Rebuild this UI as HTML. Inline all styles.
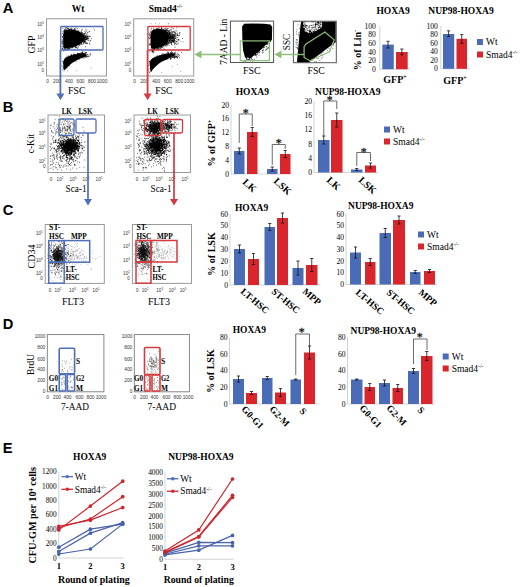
<!DOCTYPE html>
<html><head><meta charset="utf-8"><style>
html,body{margin:0;padding:0;background:#fff;}
body{width:520px;height:587px;overflow:hidden;font-family:"Liberation Serif",serif;}
svg{display:block;}
</style></head><body>
<svg width="520" height="587" viewBox="0 0 520 587">
<rect width="520" height="587" fill="#fff"/>
<text x="2.8" y="12.7" font-size="14.7" font-family='"Liberation Sans", sans-serif' font-weight="bold" text-anchor="start" fill="#000">A</text>
<text x="2.8" y="112" font-size="14.7" font-family='"Liberation Sans", sans-serif' font-weight="bold" text-anchor="start" fill="#000">B</text>
<text x="2.8" y="215.3" font-size="14.7" font-family='"Liberation Sans", sans-serif' font-weight="bold" text-anchor="start" fill="#000">C</text>
<text x="2.8" y="328.8" font-size="14.7" font-family='"Liberation Sans", sans-serif' font-weight="bold" text-anchor="start" fill="#000">D</text>
<text x="2.8" y="452.6" font-size="14.7" font-family='"Liberation Sans", sans-serif' font-weight="bold" text-anchor="start" fill="#000">E</text>
<rect x="46.5" y="18.8" width="60" height="57.2" fill="none" stroke="#9a9a9a" stroke-width="1"/>
<text x="44" y="26" font-size="4.6" font-family='"Liberation Sans", sans-serif' text-anchor="end" fill="#333">10<tspan font-size="3" dy="-2">5</tspan></text>
<text x="44" y="39" font-size="4.6" font-family='"Liberation Sans", sans-serif' text-anchor="end" fill="#333">10<tspan font-size="3" dy="-2">4</tspan></text>
<text x="44" y="52" font-size="4.6" font-family='"Liberation Sans", sans-serif' text-anchor="end" fill="#333">10<tspan font-size="3" dy="-2">3</tspan></text>
<text x="44" y="66" font-size="4.6" font-family='"Liberation Sans", sans-serif' text-anchor="end" fill="#333">10<tspan font-size="3" dy="-2">2</tspan></text>
<text x="44" y="72" font-size="4.6" font-family='"Liberation Sans", sans-serif' text-anchor="end" fill="#333">0</text>
<text x="47.5" y="82.8" font-size="4.8" font-family='"Liberation Sans", sans-serif' text-anchor="middle" fill="#333">0</text>
<text x="57" y="82.8" font-size="4.8" font-family='"Liberation Sans", sans-serif' text-anchor="middle" fill="#333">200</text>
<text x="69" y="82.8" font-size="4.8" font-family='"Liberation Sans", sans-serif' text-anchor="middle" fill="#333">400</text>
<text x="80.5" y="82.8" font-size="4.8" font-family='"Liberation Sans", sans-serif' text-anchor="middle" fill="#333">600</text>
<text x="92" y="82.8" font-size="4.8" font-family='"Liberation Sans", sans-serif' text-anchor="middle" fill="#333">800</text>
<text x="102" y="82.8" font-size="4.8" font-family='"Liberation Sans", sans-serif' text-anchor="middle" fill="#333">1000</text>
<text x="0" y="0" font-size="11" font-family='"Liberation Serif", serif' text-anchor="middle" fill="#000" transform="translate(35,44.6) rotate(-90)" textLength="17.8" lengthAdjust="spacingAndGlyphs">GFP</text>
<path d="M63.6,33C63.92,30.55 64,30.93 65.3,30.3C66.6,29.67 69.52,29.15 71.4,29.2C73.28,29.25 74.92,29.97 76.6,30.6C78.28,31.23 80.1,32.02 81.5,33C82.9,33.98 84.58,35.25 85,36.5C85.42,37.75 84.75,39.25 84,40.5C83.25,41.75 81.9,43 80.5,44C79.1,45 77.52,45.82 75.6,46.5C73.68,47.18 70.87,47.75 69,48.1C67.13,48.45 65.33,49.12 64.4,48.6C63.47,48.08 63.53,47.6 63.4,45C63.27,42.4 63.28,35.45 63.6,33Z" fill="#000" stroke="none" stroke-width="1"/>
<path d="M63.48 37.52h0.76M64.23 30.33h0.76M75.38 29.75h0.76M74.86 46.77h0.76M63.13 38.11h0.76M75.42 46.94h0.76M63.2 46.75h0.76M64.61 30.58h0.76M70.9 29.04h0.76M63.26 34.29h0.76M84.92 37.8h0.76M84.88 36.07h0.76M85.27 36.73h0.76M79.51 32h0.76M81.88 32.86h0.76M72.42 47.66h0.76M62.7 45.18h0.76M67.73 48.39h0.76M63.03 35.38h0.76M64.1 49.07h0.76M72.45 47.53h0.76M64.69 29.64h0.76M63.78 32.66h0.76M70.7 28.81h0.76M63.87 31.15h0.76M82.91 42.48h0.76M68.74 48.59h0.76M68.31 48.67h0.76M63.62 45.93h0.76M83.41 41.58h0.76M67.97 29.09h0.76M81.21 44.11h0.76M63.01 38.05h0.76M62.64 44.16h0.76M83.64 34.51h0.76M69.02 29.45h0.76M69.27 48.04h0.76M84.55 39.94h0.76M69.28 29.46h0.76M75.89 47.02h0.76M63.36 43.3h0.76M71.74 47.85h0.76M65.22 29.91h0.76M69.77 28.89h0.76M67.89 29.15h0.76M81.2 43.92h0.76M69.48 48.38h0.76M67.57 48.84h0.76M65.91 29.52h0.76M84.34 35.33h0.76M71.3 47.7h0.76M62.69 44.27h0.76M81.33 43.91h0.76M63.39 40.01h0.76M78.1 30.97h0.76M63.54 34.59h0.76M62.87 35.29h0.76M64.08 30.56h0.76M77.51 30.34h0.76M69.78 48.41h0.76M62.95 39.99h0.76M73.86 29.55h0.76M83.7 41.43h0.76M63.15 41.4h0.76M79.71 44.73h0.76M74.54 29.57h0.76M67.12 49h0.76" stroke="#000" stroke-width="0.76" fill="none"/>
<path d="M80.88 31.11h0.76M84.46 33.77h0.76M62.55 31.65h0.76M76.39 47.68h0.76M74.67 47.98h0.76M61.9 42.24h0.76M61.92 40.09h0.76M62.84 47.84h0.76M67.53 28.37h0.76M77.77 46.36h0.76M64.15 29.72h0.76M62.14 33.35h0.76M86.18 39.01h0.76M62.4 36.93h0.76M68.25 49.08h0.76M79.38 45.49h0.76M64.2 49.51h0.76M71.51 28.25h0.76M83.33 43.03h0.76M62.58 39.92h0.76M85.58 39.36h0.76M64.73 50.01h0.76M61.95 37.06h0.76M85.56 39.54h0.76M67.37 49.54h0.76M83.29 33.6h0.76M61.68 44h0.76M74.18 28.81h0.76M75.36 47.23h0.76M61.78 46.72h0.76M62.33 41.43h0.76M85.09 41.41h0.76M84.8 41.48h0.76M61.97 36.34h0.76M61.73 43.13h0.76M64.71 49.6h0.76M68.08 49.55h0.76M61.98 42.37h0.76M74 28.84h0.76M63.15 49.77h0.76M62.69 46.55h0.76M65.41 28.5h0.76M87.02 36.04h0.76M68.08 28.34h0.76M75.81 47.41h0.76M64.66 49.44h0.76M67.26 28.36h0.76M63.03 30.79h0.76M62.53 48.71h0.76" stroke="#000" stroke-width="0.76" fill="none"/>
<path d="M66.5 50.05h0.76M66.53 27.59h0.76M63.47 51.2h0.76M61.83 49.06h0.76M62.47 28.37h0.76M65.98 27.82h0.76M85.08 32.95h0.76M60.35 39.45h0.76M61.96 48.49h0.76M87.42 38.81h0.76M60.72 41.49h0.76M77.09 48.19h0.76M81.5 30.34h0.76M75.35 27.91h0.76M87.47 39.29h0.76M60.55 35.17h0.76M84.79 32.24h0.76M64.73 27.85h0.76M77.79 47.9h0.76M82.59 44.28h0.76M76.8 28.39h0.76M86.45 34.43h0.76" stroke="#000" stroke-width="0.76" fill="none"/>
<path d="M63.9,69.7C63.7,68.23 63.02,63.23 63.4,61.2C63.78,59.17 64.48,58.58 66.2,57.5C67.92,56.42 71.35,55.4 73.7,54.7C76.05,54 78.33,53.42 80.3,53.3C82.27,53.18 84.47,53.63 85.5,54C86.53,54.37 86.9,54.95 86.5,55.5C86.1,56.05 84.75,56.5 83.1,57.3C81.45,58.1 78.63,59.18 76.6,60.3C74.57,61.42 72.63,62.63 70.9,64C69.17,65.37 67.25,67.5 66.2,68.5C65.15,69.5 64.98,69.8 64.6,70C64.22,70.2 64.1,71.17 63.9,69.7Z" fill="#000" stroke="none" stroke-width="1"/>
<path d="M78.39 53.62h0.76M63.52 64.9h0.76M65.6 57.99h0.76M63.48 66.58h0.76M80.5 52.92h0.76M63.17 63.39h0.76M71.18 55.54h0.76M82.4 53.5h0.76M77.23 53.64h0.76M62.95 63.12h0.76M71.35 55.27h0.76M68.47 56.47h0.76M66.64 68.15h0.76M73.34 54.72h0.76M69.48 56.01h0.76M85.05 53.74h0.76M84.05 53.63h0.76M66.57 57.32h0.76M73.89 54.43h0.76M63.43 63.36h0.76M68.86 66.01h0.76M71.23 55.35h0.76M67.65 56.76h0.76M74.55 61.67h0.76" stroke="#000" stroke-width="0.76" fill="none"/>
<path d="M86.91 54.5h0.76M68.11 56.06h0.76M62.12 61.6h0.76M63.09 67.96h0.76M78.64 59.45h0.76M81.74 52.96h0.76M77.19 53.18h0.76M70.29 55.19h0.76M82.31 53.08h0.76M64.93 58.14h0.76M63.04 68.04h0.76M62.8 67.11h0.76M62.75 61.9h0.76M62.56 69.6h0.76M77.77 53.49h0.76M81.62 52.75h0.76M73.3 54.39h0.76M82.24 52.42h0.76" stroke="#000" stroke-width="0.76" fill="none"/>
<path d="M75.92 61.01h0.76M81.59 52.14h0.76M61.7 65.93h0.76M71.34 54.47h0.76M84.93 52.14h0.76M66.5 56.07h0.76M86.01 52.56h0.76M73.56 53.92h0.76" stroke="#000" stroke-width="0.76" fill="none"/>
<path d="M79.42 39.37h0.76M85.25 38.97h0.76M82.16 38.28h0.76M84.39 41.74h0.76M84.83 38.89h0.76M81.83 41.02h0.76M87.52 36.27h0.76M85.92 39.08h0.76M83.86 33.5h0.76M89.27 31.47h0.76M84.91 36.68h0.76M87.43 36.52h0.76M84.12 40.14h0.76M85.37 36.18h0.76M86.04 39.37h0.76M86.96 36.21h0.76M83.86 36.63h0.76M81.49 38.89h0.76M85.23 42.96h0.76M83.03 39.35h0.76M87.42 37.6h0.76M84.19 38.47h0.76M81.93 34.55h0.76M87.34 38.6h0.76M83.78 33.66h0.76M84.35 42.09h0.76M80.56 34.89h0.76M87.32 42.99h0.76M88.64 36.07h0.76M85.79 35.38h0.76M85.56 36.73h0.76M84.59 42.68h0.76M85.01 37.16h0.76M84.17 38.93h0.76M82.47 38.72h0.76M85.79 43.43h0.76M77.85 33.86h0.76M80.31 41.05h0.76M91.28 38.67h0.76M84.36 41.96h0.76M76.72 37.38h0.76M74.71 38.54h0.76M82.48 36.31h0.76M85.01 35.97h0.76M87.31 37.99h0.76M85.14 46.82h0.76M82.66 41.22h0.76M81.54 42.34h0.76M86.87 38.49h0.76M86.95 43.59h0.76M88.1 38h0.76M83.84 41.85h0.76M79.62 35.91h0.76M85.44 39.98h0.76M89.54 44.11h0.76M84.96 39.53h0.76M80.08 37.36h0.76M84.78 37.22h0.76M84.18 40.11h0.76M81.17 36.03h0.76M78.72 41.97h0.76M80.87 32.1h0.76M86.29 37.26h0.76M86.87 36.72h0.76M90.31 40.47h0.76M84.45 38.4h0.76M83.39 40.8h0.76M89.93 36.54h0.76M80.77 40.07h0.76M87.17 32.84h0.76M81.95 34.55h0.76M85.67 39.75h0.76M81.82 34.1h0.76M86.02 30.89h0.76M85.91 37.46h0.76M89.69 41.43h0.76M82.28 37.05h0.76M83.18 35.49h0.76M84.24 41.33h0.76M79.54 37.21h0.76M88.42 40.56h0.76M81.59 35.22h0.76M81.47 32.46h0.76M87.4 38.24h0.76M81.94 33.05h0.76M82.86 36.24h0.76M89.09 36.42h0.76M84.34 41.69h0.76M85.97 37.38h0.76M77.56 42.83h0.76M85.77 36.5h0.76M83.74 34.71h0.76M81.35 32.89h0.76M85.48 39.78h0.76M84.52 40.69h0.76M85.58 38.42h0.76M81.39 40.03h0.76M87.5 40.17h0.76M87.68 36.37h0.76M81.11 42.3h0.76M82.28 38.84h0.76M83.44 38.08h0.76M83.2 36.15h0.76M78.75 44.55h0.76M84.6 31.39h0.76M81.33 34.13h0.76M81.82 29.25h0.76M85.69 43.63h0.76M83.28 40.55h0.76M85.77 33.73h0.76M87.59 32.21h0.76M82.31 36.77h0.76M87.7 38.41h0.76M83.63 35.24h0.76M84.26 38.15h0.76M86.15 42.78h0.76M86.17 38.06h0.76M83.55 43.49h0.76M84.59 37.94h0.76M89.28 43.38h0.76" stroke="#000" stroke-width="0.76" stroke-opacity="1" fill="none"/>
<path d="M85.67 55.34h0.76M82.14 57.07h0.76M82.67 56.91h0.76M81.7 55.65h0.76M85.18 55.71h0.76M84.69 56.06h0.76M80.7 53.87h0.76M83.57 58.15h0.76M83.64 54.14h0.76M82.06 55.55h0.76M87.47 54.67h0.76M85.65 55.77h0.76M82.96 54.12h0.76M83.55 54.44h0.76M85.58 52.92h0.76M87.31 56.61h0.76M85.7 57.69h0.76M85.77 53h0.76M84.16 56.16h0.76M82 53.84h0.76M85.27 56.25h0.76M82.75 55.14h0.76M82.52 54.67h0.76M83.83 57.07h0.76M79.29 55h0.76M88.73 55.96h0.76M84.45 56.72h0.76M81.06 53.73h0.76M79.14 53.37h0.76M84.73 56.74h0.76M82.78 54.51h0.76M85.18 56.4h0.76M84.75 52.72h0.76M82.41 51.8h0.76M84.71 54.26h0.76M82.08 57.7h0.76M87.86 56.2h0.76M84.81 55.75h0.76M82.29 55.43h0.76M89.59 54.22h0.76M82.07 55.74h0.76M86.61 56.72h0.76M81.18 55.31h0.76M83.23 53.7h0.76M84.23 54.8h0.76M86.69 56.13h0.76M81.72 55.62h0.76M82.96 54.57h0.76M82.58 57.05h0.76M82.79 53h0.76M81.74 56.68h0.76M90.28 53.96h0.76M82.96 55.02h0.76M79.89 56.09h0.76M83.85 55.91h0.76M90.53 55.11h0.76M86.32 56.72h0.76M82.15 54.64h0.76M88.54 56.54h0.76M84.42 53.9h0.76" stroke="#000" stroke-width="0.76" stroke-opacity="1" fill="none"/>
<path d="M63.41 42.57h0.6M63.7 71.17h0.6M62.24 37.26h0.6M86.61 29.58h0.6M64.12 26.35h0.6M66.08 49.5h0.6M88.83 31.29h0.6M66.41 61.2h0.6M74.98 39.77h0.6M64.69 34.99h0.6M93.54 28.67h0.6M69.33 59.98h0.6M90.82 68.19h0.6M76.57 70.81h0.6M81.04 37.29h0.6M76.32 58.75h0.6M85.46 29.31h0.6M67.08 70.9h0.6M64.14 63.63h0.6M72.02 35.25h0.6M69.18 46.35h0.6M94.18 30.26h0.6M89.55 38.93h0.6M66.38 60.19h0.6M72.11 32.21h0.6" stroke="#000" stroke-width="0.6" stroke-opacity="1" fill="none"/>
<rect x="60.7" y="26.5" width="42.3" height="23.5" fill="none" stroke="#4f6fb8" stroke-width="1.3" rx="0.8"/>
<line x1="60.4" y1="50" x2="60.4" y2="95" stroke="#4f6fb8" stroke-width="1.8"/>
<polygon points="56.4,93.6 64.4,93.6 60.4,100.3" fill="#4f6fb8" stroke="none" stroke-width="1"/>
<text x="68.1" y="94.4" font-size="11" font-family='"Liberation Serif", serif' text-anchor="start" fill="#000" textLength="17.3" lengthAdjust="spacingAndGlyphs">FSC</text>
<rect x="133.7" y="18.8" width="60" height="57.2" fill="none" stroke="#9a9a9a" stroke-width="1"/>
<text x="131.2" y="26" font-size="4.6" font-family='"Liberation Sans", sans-serif' text-anchor="end" fill="#333">10<tspan font-size="3" dy="-2">5</tspan></text>
<text x="131.2" y="39" font-size="4.6" font-family='"Liberation Sans", sans-serif' text-anchor="end" fill="#333">10<tspan font-size="3" dy="-2">4</tspan></text>
<text x="131.2" y="52" font-size="4.6" font-family='"Liberation Sans", sans-serif' text-anchor="end" fill="#333">10<tspan font-size="3" dy="-2">3</tspan></text>
<text x="131.2" y="66" font-size="4.6" font-family='"Liberation Sans", sans-serif' text-anchor="end" fill="#333">10<tspan font-size="3" dy="-2">2</tspan></text>
<text x="131.2" y="72" font-size="4.6" font-family='"Liberation Sans", sans-serif' text-anchor="end" fill="#333">0</text>
<text x="134.7" y="82.8" font-size="4.8" font-family='"Liberation Sans", sans-serif' text-anchor="middle" fill="#333">0</text>
<text x="144.2" y="82.8" font-size="4.8" font-family='"Liberation Sans", sans-serif' text-anchor="middle" fill="#333">200</text>
<text x="156.2" y="82.8" font-size="4.8" font-family='"Liberation Sans", sans-serif' text-anchor="middle" fill="#333">400</text>
<text x="167.7" y="82.8" font-size="4.8" font-family='"Liberation Sans", sans-serif' text-anchor="middle" fill="#333">600</text>
<text x="179.2" y="82.8" font-size="4.8" font-family='"Liberation Sans", sans-serif' text-anchor="middle" fill="#333">800</text>
<text x="189.2" y="82.8" font-size="4.8" font-family='"Liberation Sans", sans-serif' text-anchor="middle" fill="#333">1000</text>
<path d="M151.1,33C151.7,30.6 152.77,30.28 154.4,29.6C156.03,28.92 159.03,28.7 160.9,28.9C162.77,29.1 164.3,29.95 165.6,30.8C166.9,31.65 168.18,32.72 168.7,34C169.22,35.28 169.03,36.93 168.7,38.5C168.37,40.07 168,41.95 166.7,43.4C165.4,44.85 163.27,46.33 160.9,47.2C158.53,48.07 154.18,49.13 152.5,48.6C150.82,48.07 151.03,46.6 150.8,44C150.57,41.4 150.5,35.4 151.1,33Z" fill="#000" stroke="none" stroke-width="1"/>
<path d="M150.26 44.43h0.76M161.79 47.32h0.76M166.29 31.03h0.76M150.99 46.7h0.76M156.39 28.74h0.76M150.74 40.76h0.76M157.05 47.85h0.76M159.94 48.03h0.76M161.72 47.42h0.76M151.7 32.3h0.76M153.33 29.75h0.76M161.13 28.32h0.76M166.48 43.69h0.76M156.64 48.29h0.76M150.58 35.06h0.76M168.03 41.79h0.76M151.21 45.33h0.76M160.71 47.8h0.76M151.79 47.87h0.76M152.23 31.64h0.76M161.15 47.49h0.76M165.08 30.38h0.76M165.69 44.33h0.76M157.82 48.4h0.76M163.2 29.33h0.76M150.7 38.36h0.76M156.7 48.03h0.76M165.81 30.74h0.76M167.7 32.89h0.76M151.96 47.63h0.76M168.75 36.38h0.76M150.62 32.54h0.76M157.07 48.39h0.76M154.78 48.89h0.76M168.8 34.85h0.76M161.05 28.38h0.76M152.03 48.02h0.76M168.74 36.81h0.76M163.54 29.62h0.76M163.01 45.95h0.76M167.92 41.04h0.76M153.56 29.67h0.76M159.96 48.12h0.76M153.9 30.06h0.76M165.54 30.59h0.76M156.29 29.33h0.76M169.32 34.96h0.76M168.39 40.23h0.76M163.76 45.6h0.76M155.34 29.48h0.76M157.03 28.88h0.76M168.66 39.35h0.76M150.45 36.49h0.76M150.46 42.54h0.76M156.29 28.96h0.76M152.3 49.17h0.76M157.35 29h0.76M165.52 30.41h0.76M150.62 32.86h0.76M161.89 28.89h0.76" stroke="#000" stroke-width="0.76" fill="none"/>
<path d="M149.69 35.12h0.76M170.05 37.53h0.76M151.07 48.8h0.76M167.35 30.63h0.76M153.29 49.53h0.76M149.7 44.82h0.76M153.35 28.19h0.76M149.91 44.89h0.76M157.84 48.94h0.76M149.6 37.56h0.76M149.67 44.13h0.76M169.57 36.2h0.76M169.6 34.78h0.76M150.03 37.73h0.76M157.93 28.09h0.76M158.52 48.58h0.76M164.14 28.76h0.76M149.55 36.03h0.76M151.05 31.82h0.76M164.82 29.57h0.76M150.82 47.37h0.76M150.05 31.74h0.76M169.42 36.39h0.76M153.11 49.37h0.76M170.1 38.12h0.76M169.42 32.61h0.76M169.63 35.95h0.76M149.58 43.83h0.76M151.83 30.45h0.76M149.52 38.47h0.76M161.4 27.59h0.76M167.69 42.76h0.76M168.75 40.47h0.76M149.43 34.75h0.76M169.24 33.04h0.76M149.53 33.59h0.76M159.55 49.06h0.76M166.59 29.57h0.76M165.33 45.27h0.76M169.94 34.92h0.76M163.59 47.03h0.76M167.72 31.06h0.76M149.8 35.22h0.76" stroke="#000" stroke-width="0.76" fill="none"/>
<path d="M171.25 38.56h0.76M169.61 42.7h0.76M165.12 28.37h0.76M161.47 49.2h0.76M171.06 36.81h0.76M151.9 50.47h0.76M156.83 49.95h0.76M148.88 38.72h0.76M148.65 45.21h0.76M148.15 37.61h0.76M171.14 35.9h0.76M159.41 27h0.76M151.34 28.56h0.76M148.16 34.64h0.76M158.01 49.41h0.76M155.96 49.92h0.76M148.64 44.27h0.76M148.82 33.18h0.76M150.63 29.92h0.76M166.63 28.56h0.76" stroke="#000" stroke-width="0.76" fill="none"/>
<path d="M150.6,70.6C150.37,68.97 149.27,63.53 150.2,61.2C151.13,58.87 153.63,57.85 156.2,56.6C158.77,55.35 163.27,54.18 165.6,53.7C167.93,53.22 169.02,53.38 170.2,53.7C171.38,54.02 172.95,54.82 172.7,55.6C172.45,56.38 170.67,57.3 168.7,58.4C166.73,59.5 163.28,60.63 160.9,62.2C158.52,63.77 155.95,66.33 154.4,67.8C152.85,69.27 152.23,70.53 151.6,71C150.97,71.47 150.83,72.23 150.6,70.6Z" fill="#000" stroke="none" stroke-width="1"/>
<path d="M170.86 56.93h0.76M172.46 55.13h0.76M150.21 62.23h0.76M172.42 54.77h0.76M172.93 55.43h0.76M172.78 54.91h0.76M150.01 66.49h0.76M159.2 55.58h0.76M171.8 54.21h0.76M173.09 55.3h0.76M150.04 60.89h0.76M171.55 54.57h0.76M166.22 59.65h0.76M150.19 63.11h0.76M150.25 62.9h0.76M151.22 71.19h0.76M172.58 54.76h0.76M153.71 58.1h0.76M150.06 68.61h0.76M152.4 59.11h0.76M149.99 68.62h0.76M150.46 70.82h0.76M173 55.38h0.76M150.09 62.57h0.76M150.2 68.96h0.76" stroke="#000" stroke-width="0.76" fill="none"/>
<path d="M149.62 65.29h0.76M166.89 52.81h0.76M157.33 55.61h0.76M161.43 54.27h0.76M151.16 59.86h0.76M170.31 53.15h0.76M171.22 53.29h0.76M149.16 61.83h0.76M149.77 71.51h0.76M168.11 52.81h0.76M152.41 58.6h0.76M168.1 52.98h0.76M154.1 57.23h0.76M170.28 57.56h0.76M149 61.42h0.76M149.65 68.42h0.76M162.33 54.16h0.76M155.86 56.3h0.76M151.97 59.18h0.76" stroke="#000" stroke-width="0.76" fill="none"/>
<path d="M172.45 52.78h0.76M149.03 72.5h0.76M148.39 69.98h0.76M148.83 63.78h0.76M169.93 58.03h0.76M148.81 61.94h0.76M148.1 65.37h0.76M162.75 53.46h0.76" stroke="#000" stroke-width="0.76" fill="none"/>
<path d="M164.66 40.9h0.8M170.14 36.81h0.8M162.98 37.57h0.8M174.69 43.66h0.8M172.17 36.63h0.8M169.7 40.17h0.8M169.89 42.09h0.8M167.01 28.94h0.8M161.12 34.44h0.8M164.61 40.6h0.8M172.85 38h0.8M171.04 38.3h0.8M169.82 36.16h0.8M167.89 42.65h0.8M168.34 37.84h0.8M173.24 41.84h0.8M167.93 38.99h0.8M165.85 38.52h0.8M170.3 38h0.8M169.79 39.43h0.8M160.76 34.78h0.8M169.49 36.08h0.8M166.01 37.07h0.8M174.63 37.11h0.8M167.06 36.13h0.8M165.25 39.9h0.8M165.94 41.56h0.8M172.29 40.24h0.8M172.72 37.67h0.8M163.35 37.75h0.8M171.38 31.96h0.8M165.15 42.28h0.8M170.71 43.27h0.8M171.48 38.26h0.8M170.68 41.32h0.8M169.15 37.18h0.8M170.29 36.77h0.8M177.33 35.01h0.8M164.16 32.95h0.8M172.75 36.42h0.8M169.78 37.16h0.8M170.17 32.33h0.8M169.53 35.76h0.8M172.89 40.43h0.8M165.01 34.22h0.8M171.15 42.68h0.8M171.82 37.41h0.8M172.98 28.78h0.8M167.44 34.19h0.8M165.78 40.21h0.8M170.18 39.11h0.8M168.8 40.43h0.8M171.88 35.76h0.8M172.39 34.37h0.8M175.18 32.9h0.8M168.28 33.77h0.8M169.38 43.15h0.8M166.72 44.95h0.8M174 39.51h0.8M167.26 41.54h0.8M159.6 35.01h0.8M172.49 37.85h0.8M177.63 35.36h0.8M164.75 37.16h0.8M171.2 44.68h0.8M163.29 38.62h0.8M173.51 35.36h0.8M167.71 33.25h0.8M171.84 41.25h0.8M171.24 38.97h0.8M172.6 37.52h0.8M171.67 41.21h0.8M173.65 40.01h0.8M169.53 40.78h0.8M164 31.09h0.8M174.73 38.54h0.8M165.68 35.72h0.8M168.74 38.28h0.8M166.66 41.91h0.8M163.47 49h0.8M165.57 44.52h0.8M171.51 31.39h0.8M165.09 38.24h0.8M170.17 36.34h0.8M169.29 38.64h0.8M165.36 38.24h0.8M176.98 35.46h0.8M165.8 40.61h0.8M173.83 42.1h0.8M167.09 37.71h0.8M169.94 37.18h0.8M170.61 42.26h0.8M171.11 37.96h0.8M168.56 45.04h0.8M165.05 45.89h0.8M171.76 38.35h0.8M166.71 45.22h0.8M173.4 41.59h0.8M176.37 30.93h0.8M169.59 36.79h0.8M166.76 38.3h0.8M171.08 40.07h0.8M168.77 32.79h0.8M171.16 40.4h0.8M176.51 41.68h0.8M169.3 33.48h0.8M178.59 35.34h0.8M169.92 40.95h0.8M170.97 43.25h0.8M165.7 35.28h0.8M169.85 33.14h0.8M167.14 43.46h0.8M170.26 37.6h0.8M167.29 38.19h0.8M169.13 33.75h0.8M171.96 32.95h0.8M173.66 36.66h0.8M161.39 31.88h0.8M170.24 34.57h0.8M175.49 43.46h0.8M176.51 41.53h0.8M173.91 35.61h0.8M173.74 36.27h0.8M169.08 32.62h0.8M169.44 39.6h0.8M169.03 33.62h0.8M172.37 41.61h0.8M168.94 41.11h0.8M172.66 34.1h0.8M169.13 30.63h0.8M165.66 39.7h0.8M166.2 39.56h0.8M170.5 29.82h0.8M167.56 44.02h0.8M169.3 38.49h0.8M166.8 31.64h0.8M163.72 49.41h0.8M168.6 34.55h0.8M169.63 30.31h0.8M174.11 44.8h0.8M166.63 39.28h0.8M166.11 41.41h0.8M166.32 37.43h0.8M173.79 40.08h0.8M168.11 31.96h0.8M163.7 42.78h0.8M171.03 38.23h0.8M173.62 38.58h0.8M166.71 37.58h0.8M168.91 37.95h0.8M177.94 40.31h0.8M170.2 37h0.8M166.87 34.05h0.8M162.69 36.17h0.8M163.94 30.62h0.8M165.97 29.92h0.8M174.04 42.97h0.8M165.86 46.16h0.8M171.55 27.93h0.8M169.32 34.02h0.8M163.15 36.96h0.8M173.27 39.77h0.8M164.13 35.36h0.8M166.59 42.57h0.8M168.9 34.09h0.8M166.05 30.14h0.8M166.28 41.58h0.8M162.55 38.77h0.8M168.84 41.26h0.8M165.23 41.63h0.8M174.68 47.15h0.8M163.53 37.88h0.8M168.5 38.49h0.8M165.77 41.43h0.8M177.46 44.02h0.8M165.89 35.69h0.8M171.79 38.54h0.8M166.56 42.94h0.8M171.05 42.09h0.8M168.61 43.12h0.8M167.6 33.53h0.8M169.21 32.41h0.8M173.63 40.93h0.8M163.33 38.69h0.8M172.21 36.57h0.8M170.69 35.66h0.8M168.98 37.66h0.8M170.93 34.12h0.8M165.26 39.32h0.8M167.44 40.08h0.8M167.45 32.75h0.8M171.82 39.07h0.8M171.79 36.64h0.8M167.96 43.06h0.8M163.28 44.97h0.8M171.03 37.77h0.8M169.54 40.42h0.8M166.51 39.11h0.8M165.87 30.59h0.8M169.93 38.4h0.8M171.5 40.23h0.8M171.68 41.17h0.8M165.51 42.88h0.8M178.64 35.73h0.8M164.79 40.75h0.8M172.44 42.06h0.8M174.62 32.44h0.8M170.54 39.86h0.8M173.61 34.42h0.8M169.3 36.51h0.8M168.65 37.42h0.8M168.68 30.91h0.8M169.08 38.27h0.8M167.86 23.76h0.8M166.77 35.38h0.8M166.15 44.43h0.8M172.47 37.25h0.8M171.33 51.21h0.8M165.8 39.9h0.8M167.1 43.96h0.8M173.12 37.51h0.8M171.37 34.8h0.8M163.64 41.39h0.8M174.97 36.78h0.8M167.36 30.81h0.8M176.77 33.18h0.8M165.8 37.22h0.8M173.48 38.22h0.8M169.14 38.08h0.8M172.2 37.85h0.8M169.77 37.7h0.8M165.3 43.4h0.8M166.77 32.7h0.8M167.67 38.13h0.8M172.1 32.09h0.8M164.75 38.72h0.8M170.56 33.59h0.8M165.22 38.7h0.8M168.7 31.5h0.8M166.12 43.96h0.8M165.48 42.22h0.8M163.82 43.97h0.8M174.85 35.45h0.8M166.81 40.53h0.8M164.84 40.21h0.8M173.5 39.06h0.8M170.35 37.37h0.8M172.74 34.71h0.8M174.81 37.91h0.8M168.06 31.44h0.8M167.66 38.95h0.8M173.58 31.52h0.8M168.76 35.24h0.8M164.99 38.02h0.8M166.53 41.5h0.8M159.72 40.96h0.8M162.51 30.17h0.8M171.03 36.64h0.8M169.66 34.12h0.8M165.51 35.04h0.8" stroke="#000" stroke-width="0.8" stroke-opacity="1" fill="none"/>
<path d="M174.04 35.05h0.7M172.94 34.98h0.7M174.91 34h0.7M167.93 28.77h0.7M174.14 38.34h0.7M177.1 35.4h0.7M170.77 32.76h0.7M176.49 35.8h0.7M177.18 37.72h0.7M173.37 31.46h0.7M172.16 40.77h0.7M172.37 40.38h0.7M169.25 41.57h0.7M182.59 41.92h0.7M175.17 33.66h0.7M172.61 35.7h0.7M174.76 30.91h0.7M171.6 40.78h0.7M174.64 40.61h0.7M176.77 33.98h0.7M170.14 39.63h0.7M174.3 38.28h0.7M171.75 41.58h0.7M175.7 42.01h0.7M173.14 40.43h0.7M174.02 34.7h0.7M173.96 32.18h0.7M173.66 38.63h0.7M176.29 34.3h0.7M170.2 35.43h0.7M167.96 35.7h0.7M182.08 38.51h0.7M171.92 35.61h0.7M179.52 33.91h0.7M173.86 37.72h0.7M171.99 35.47h0.7M169.15 35.05h0.7M178.11 42.97h0.7M173.35 40.47h0.7M175.59 38.39h0.7M173.79 42.27h0.7M175.91 37.21h0.7M173.5 41.28h0.7M172.41 35.48h0.7M173.37 36.25h0.7M178 39.25h0.7M173.94 36.15h0.7M178.46 39.55h0.7M180.47 41.19h0.7M173.55 36.07h0.7M173.34 38.64h0.7M176.58 39.71h0.7M178.93 32.66h0.7M174.29 33.02h0.7M171.1 35.89h0.7M172.24 34.59h0.7M169.63 41.99h0.7M173.24 41.39h0.7M170.87 29.85h0.7M172.41 41.09h0.7M172.52 39.39h0.7M170.96 42.89h0.7M175.5 41.69h0.7M173.36 42.49h0.7M174.42 36.28h0.7M172.27 38.19h0.7M171.47 33.81h0.7M174.59 40.49h0.7M173.32 40.95h0.7M178.97 33.55h0.7M174.97 34.62h0.7M172.26 38.62h0.7M167.06 40.12h0.7M176.72 39.9h0.7M176.15 44.36h0.7M173.1 41.84h0.7M178.55 39.72h0.7M168.83 37.45h0.7M173.32 32.31h0.7M174.02 40.65h0.7" stroke="#000" stroke-width="0.7" stroke-opacity="1" fill="none"/>
<path d="M171.42 55.21h0.76M176.62 54.51h0.76M169.36 55.56h0.76M175.57 56.45h0.76M172.42 54.71h0.76M175.91 56.92h0.76M166.98 56.03h0.76M164.96 57.9h0.76M174.04 54.49h0.76M168.32 55.02h0.76M166.93 56.4h0.76M170.66 52.66h0.76M172.14 57.4h0.76M168.38 54.93h0.76M177.66 55.79h0.76M170.53 55.8h0.76M174.54 53.89h0.76M171.9 52.88h0.76M167.43 53.03h0.76M174.74 56h0.76M174.4 57.45h0.76M172.34 55.88h0.76M173.42 56.25h0.76M169 55.06h0.76M171.74 55.56h0.76M169.94 55.28h0.76M173.06 55.8h0.76M173.97 56.82h0.76M173.87 57.05h0.76M174.73 57.73h0.76M174.09 54.51h0.76M179.2 57.31h0.76M175.95 56.67h0.76M172.34 53.66h0.76M173.51 54.93h0.76M170.99 52.07h0.76M176.86 53.63h0.76M168.89 56.25h0.76M173.9 54.23h0.76M172.18 55.9h0.76M172.67 56.34h0.76M174.53 54.91h0.76M167.32 58.97h0.76M171.04 53.91h0.76M174.46 56.44h0.76M170.34 59.27h0.76M165.12 57.55h0.76M172.08 55.99h0.76M173.16 55.13h0.76M173.16 53.41h0.76M171 58.46h0.76M164.44 57.47h0.76M165.48 54.13h0.76M174.84 54.84h0.76M170.46 53.09h0.76M171.83 55.21h0.76M170.27 52.99h0.76M172.67 56.17h0.76M175.63 56.32h0.76M176.77 57.42h0.76M163.7 58.17h0.76M171.88 53.82h0.76M173.5 57.04h0.76M167.54 53.52h0.76M174.27 54.61h0.76M176.59 55.85h0.76M170.54 53.37h0.76M174 52.74h0.76M168.27 53.39h0.76M177.32 58.24h0.76M171.53 54.88h0.76M174.31 57.5h0.76M169.77 59.03h0.76M171.57 57.32h0.76M165.08 55.41h0.76M170.1 58.68h0.76M171.55 53.45h0.76M178.07 54.4h0.76M172.19 53.49h0.76M174.24 55.81h0.76M171.33 54.85h0.76M170.48 54.34h0.76M167.96 57.43h0.76M174.89 53.26h0.76M168.69 56.15h0.76M179.02 55.17h0.76M171.25 55.09h0.76M172.95 55.22h0.76M175.46 57.08h0.76M173.86 58.03h0.76M171.5 54.61h0.76M181.17 52.4h0.76M167.5 51.72h0.76M173.27 53.78h0.76M175.39 52.13h0.76M171.78 54.87h0.76M168.94 57.29h0.76M170.99 56.22h0.76M170.61 55.74h0.76M170.85 55.62h0.76M171.9 54.4h0.76M173.51 55.2h0.76M169.28 53.81h0.76M173.53 57.63h0.76M168.25 54.83h0.76M173.55 57.17h0.76M174.34 53.6h0.76M172.31 56.94h0.76M172.92 55.14h0.76M168.63 55.76h0.76M172 55.55h0.76M176.72 57.4h0.76M169.81 55.87h0.76M171.26 55.66h0.76M177.12 56.97h0.76M172.32 54.44h0.76M171.71 56.08h0.76M170.69 57.27h0.76M172.26 53.6h0.76M178.36 50.84h0.76" stroke="#000" stroke-width="0.76" stroke-opacity="1" fill="none"/>
<path d="M152.9 47.26h0.8M151.6 51.04h0.8M151.36 47.33h0.8M152.87 50.58h0.8M151.56 49.01h0.8M152.31 51.43h0.8M153.55 51.17h0.8M151.74 49.77h0.8M153.95 48.05h0.8M152.25 50.69h0.8M154.19 47.15h0.8M153.27 49.77h0.8M152.79 52.04h0.8M152.15 51.53h0.8M153.34 49.49h0.8M151.66 51.59h0.8M153.3 50.38h0.8M153.44 52.69h0.8M151.93 51.14h0.8M153.62 48.6h0.8M153.91 48.88h0.8M153.55 49.22h0.8M152.57 50.52h0.8M153.62 49.5h0.8M153.9 48.3h0.8" stroke="#000" stroke-width="0.8" stroke-opacity="1" fill="none"/>
<path d="M165.41 30.08h0.6M153.51 37.4h0.6M149.32 51.4h0.6M168.79 42.66h0.6M174.82 50.2h0.6M170.93 27.08h0.6M158.91 23.86h0.6M153.14 65.46h0.6M152.31 52.72h0.6M160.54 56.56h0.6M177.33 64.45h0.6M180.51 71.28h0.6M161.25 72.4h0.6M173.63 36.75h0.6M158.86 49.08h0.6M176.44 27.77h0.6M178 56.45h0.6M167.86 43.23h0.6M160.67 43.17h0.6M172.03 45.03h0.6M171.97 66.79h0.6M150.66 23.74h0.6M179.7 32.51h0.6M175.38 43.12h0.6M155.34 23.42h0.6" stroke="#000" stroke-width="0.6" stroke-opacity="1" fill="none"/>
<rect x="147.9" y="26.5" width="42.3" height="23.5" fill="none" stroke="#d43a3f" stroke-width="1.3" rx="0.8"/>
<line x1="147.6" y1="50" x2="147.6" y2="95" stroke="#d43a3f" stroke-width="1.8"/>
<polygon points="143.6,93.6 151.6,93.6 147.6,100.3" fill="#d43a3f" stroke="none" stroke-width="1"/>
<text x="155.3" y="94.4" font-size="11" font-family='"Liberation Serif", serif' text-anchor="start" fill="#000" textLength="17.3" lengthAdjust="spacingAndGlyphs">FSC</text>
<text x="78" y="11.5" font-size="9.5" font-family='"Liberation Serif", serif' font-weight="bold" text-anchor="middle" fill="#000">Wt</text>
<text x="148.75" y="11.5" font-size="9.5" font-family='"Liberation Serif", serif' font-weight="bold" text-anchor="start" fill="#000">Smad4<tspan font-size="5.7" dy="-3.32">-/-</tspan></text>
<rect x="230.4" y="21.1" width="43.2" height="41.4" fill="none" stroke="#555" stroke-width="1"/>
<polygon points="242.1,26.4 244.2,23.8 253,23.6 264,23.8 270.5,24.6 272.2,27 271.9,39.9 267.5,43 260.3,50.3 254,55.5 249,59.6 246.8,59.8 244.7,56.5 243.1,50.3 242.4,40.9" fill="#000" stroke="none" stroke-width="1"/>
<path d="M259.43 51.8h0.8M266.5 43.9h0.8M265.59 44.55h0.8M258.53 50.87h0.8M269.94 40.18h0.8M262.19 50.54h0.8M259.01 52.4h0.8M266.59 46.96h0.8M257.12 53.87h0.8M257.24 53.95h0.8M255.92 54.64h0.8M267.79 43.9h0.8M265.79 49.25h0.8M254.99 55.21h0.8M258.82 50.27h0.8M251.19 58.03h0.8M269.87 40.33h0.8M262.63 52.36h0.8M267.97 47.99h0.8M258.6 52.69h0.8M257.61 50.71h0.8M257.5 50.67h0.8M264.26 44.99h0.8M259.57 49.51h0.8M251 58.45h0.8M255.51 51.98h0.8M257.79 51.96h0.8M256.06 55.13h0.8M263.29 47.79h0.8M265.03 50.29h0.8M263.23 50.06h0.8M269.2 42.24h0.8M265.85 46.7h0.8M259.64 48.74h0.8M269.52 41.34h0.8M254.4 54.66h0.8M261.26 48.47h0.8M267.3 43.75h0.8M256.25 57.09h0.8M255.15 54.67h0.8M270.35 41.66h0.8M265.02 44.01h0.8M258.66 55.28h0.8M267.86 47.62h0.8M261.87 52.91h0.8M257.37 52.47h0.8M261.54 49.04h0.8M252.76 54.49h0.8M266.93 48.62h0.8M266.33 49.36h0.8M262.78 47.67h0.8M262.5 50.85h0.8M267.04 43.86h0.8M265.7 44.49h0.8M256.76 50.75h0.8M263.96 47.27h0.8M258.09 51.56h0.8M254.72 54.84h0.8M263.52 46.7h0.8M255.22 54.84h0.8" stroke="#000" stroke-width="0.8" stroke-opacity="1" fill="none"/>
<path d="M248.45 58.99h0.9M247.55 58.17h0.9M247.77 59.77h0.9M248.22 58.39h0.9M246.84 57.94h0.9M246.78 58.78h0.9" stroke="#fff" stroke-width="0.9" stroke-opacity="1" fill="none"/>
<path d="M250.09 59.92h0.7M252.26 59.55h0.7M250.9 60.04h0.7M244.81 60.94h0.7M245.4 61h0.7M252.9 60.09h0.7M248.89 59.51h0.7M244.81 60.74h0.7M247.82 60.41h0.7M247.78 59.67h0.7M245.12 60.91h0.7M248.63 59.38h0.7M254.35 59.39h0.7M245.98 59.39h0.7M250.27 60.94h0.7M243.4 61.31h0.7M252.13 61.08h0.7M248.48 60.09h0.7" stroke="#000" stroke-width="0.7" stroke-opacity="1" fill="none"/>
<rect x="240.3" y="40.9" width="29.1" height="19.8" fill="none" stroke="#8dbf7a" stroke-width="1.2"/>
<text x="0" y="0" font-size="10" font-family='"Liberation Serif", serif' text-anchor="middle" fill="#000" transform="translate(226.5,41.7) rotate(-90)" textLength="46" lengthAdjust="spacingAndGlyphs">7AAD - Lin</text>
<text x="243" y="73.5" font-size="10.5" font-family='"Liberation Serif", serif' text-anchor="start" fill="#000" textLength="17.6" lengthAdjust="spacingAndGlyphs">FSC</text>
<rect x="293.4" y="21.2" width="42.9" height="41.5" fill="none" stroke="#555" stroke-width="1"/>
<polygon points="301,21.8 335.7,21.8 335.7,42 309,62.2 297,62.2 298.5,45 300,30" fill="#000" stroke="none" stroke-width="1"/>
<polygon points="304.5,22.2 316,22.2 314,24.3 308,25.2 305.5,24.5" fill="#fff" stroke="none" stroke-width="1"/>
<path d="M304.42 25.03h0.84M320.35 25.28h0.84M321.37 23.72h0.84M311.17 31.2h0.84M308.88 24.84h0.84M313.78 24.49h0.84M307.81 29.04h0.84M306.04 30.69h0.84M320.38 26.74h0.84M305.17 28.36h0.84M308.55 23.33h0.84M317.04 28.24h0.84M308.06 24.87h0.84M309.71 28.52h0.84M307.02 27.22h0.84M314.4 25.5h0.84M314.9 28.05h0.84M303.39 23.48h0.84M310.99 23.8h0.84M313.7 28.61h0.84M314.97 30.53h0.84M319.47 28.14h0.84M311.41 23.93h0.84M312.35 29.9h0.84M310.13 22.4h0.84M311.24 28.04h0.84M318.34 24.72h0.84M306.42 31.4h0.84M314.1 23.67h0.84M313.18 30.54h0.84M303.66 23.8h0.84M314.69 29.51h0.84M306.63 22.7h0.84M313.52 26h0.84M310.62 26.47h0.84M320.59 25.28h0.84M316.69 28.33h0.84M308.33 32.05h0.84M307.74 25.45h0.84M306.45 29.77h0.84M316.71 26.14h0.84M304.91 28.63h0.84M309.42 28.15h0.84M315.94 22.21h0.84M320.29 23.14h0.84M307.07 26.8h0.84M319.57 25.54h0.84M321.06 22.81h0.84M309.7 32.52h0.84M321.02 25.16h0.84M306.88 26.43h0.84M318.3 28.39h0.84M311.68 24.01h0.84M308.13 31.65h0.84M307.86 31.88h0.84M318.96 28.36h0.84M308.69 22.22h0.84M304.92 31.14h0.84M308.24 32.32h0.84M311.53 26.17h0.84M316.41 25.29h0.84M304.69 24.18h0.84M307.9 24.27h0.84M314.2 25.6h0.84M306.92 31.67h0.84M310.05 22.23h0.84M315.19 28.03h0.84M306.93 31.26h0.84M310.04 28.07h0.84M310.98 30.69h0.84M305.95 24.65h0.84M311.75 28.08h0.84M320.47 23.24h0.84M313.13 28.68h0.84M319.7 25.73h0.84M309.44 29.22h0.84M317.47 29.55h0.84M316.34 26.35h0.84M317.18 26h0.84M307.27 23.28h0.84M313.84 24.04h0.84M308.28 25.41h0.84M310.12 26.7h0.84M313.76 26.53h0.84M313.73 30.99h0.84M313.21 27.73h0.84M309.7 24.2h0.84M306.87 23.16h0.84M308.33 22.64h0.84M311.02 28.39h0.84M304.85 30.36h0.84M311.76 28.94h0.84M311.32 30.78h0.84M316.43 23.51h0.84M313.75 25.06h0.84M317.81 26.2h0.84M307.09 22.56h0.84M303.54 26.63h0.84M311.37 29.55h0.84M309.03 23.11h0.84M306.92 22.25h0.84M308.02 28.9h0.84M320.83 23.27h0.84M308 31.8h0.84M314.54 26.52h0.84M303.98 22.81h0.84M306.96 28.86h0.84M303.69 27.63h0.84M319.26 22.23h0.84M308.39 26.67h0.84M315 30.15h0.84M316.41 26.89h0.84M309.43 28.96h0.84M311.92 32.23h0.84M313.35 28.52h0.84M316.15 27.41h0.84M312.59 29.37h0.84M308.76 27.54h0.84M313.86 25.49h0.84M306.16 26.69h0.84M311.24 26.87h0.84M307.75 27.39h0.84M314.26 23.3h0.84M316.01 29.87h0.84M306.5 24.89h0.84M316.34 26.65h0.84M314.57 28.73h0.84M303.41 22.78h0.84M316.97 27.01h0.84M307.82 23.62h0.84M315.75 30.46h0.84M310.55 23.12h0.84M308.18 29.84h0.84M318.3 26.52h0.84M320.69 26.41h0.84M302.98 24.41h0.84M304.28 25.29h0.84M310.59 27.4h0.84M313.39 25.05h0.84M316.14 22.82h0.84M308.88 28.48h0.84M311.03 24.54h0.84M316.18 25.43h0.84M312.14 31.62h0.84M305.45 28.99h0.84M307.28 31.97h0.84M310.35 27.68h0.84M309.09 25.99h0.84M312.53 29.33h0.84M321.11 26.85h0.84M308.32 26.08h0.84M316.66 23.97h0.84M307.75 24.29h0.84M312.83 30.26h0.84M316.58 26.97h0.84M313.17 23.58h0.84M307.46 25.91h0.84M309.82 29.32h0.84M307.45 24.77h0.84M306.5 27.47h0.84M307.18 27.41h0.84M314.58 22.32h0.84M307.49 30.21h0.84M316.17 27.03h0.84M314.21 27.9h0.84M309.59 23.12h0.84M311.42 30.51h0.84M311.77 30.6h0.84M317.61 23.26h0.84M314.52 23.16h0.84M317.5 25.86h0.84M310.22 25.15h0.84M308.62 30.2h0.84M306.3 30.86h0.84M314.89 30.47h0.84M316.75 27.21h0.84M314.61 28.32h0.84M308.35 25.51h0.84M312.85 26.47h0.84M316.96 29.21h0.84M310.37 25.21h0.84M311.27 26.46h0.84M303.58 27.55h0.84M320.91 25.19h0.84M316.03 28.64h0.84M307.61 29.48h0.84M313.06 26.03h0.84M309.5 29.22h0.84M305.63 24.24h0.84M320.63 27.2h0.84M318.94 24.52h0.84M312.15 24.76h0.84M318.95 28.65h0.84M310.57 26.35h0.84M306.83 24.47h0.84M316.65 25.57h0.84M304.64 26.37h0.84M310.4 26.56h0.84M311.91 26.5h0.84M307.12 23.85h0.84M312.18 29.12h0.84M304.67 27.35h0.84M306.05 28.7h0.84M309.56 29.39h0.84M318.55 26.57h0.84M310.34 23.05h0.84M306.84 28.91h0.84M319.04 23.7h0.84M310 28.02h0.84M316.29 25.76h0.84M310.01 29.99h0.84M312.43 26.92h0.84M314.04 23.46h0.84M312.15 25.38h0.84M305.93 27.86h0.84M316.9 27.88h0.84M312.73 29.43h0.84M306.89 22.29h0.84M314.15 29.71h0.84M310.34 26.51h0.84M309.53 24.82h0.84M308.22 28.3h0.84M311.92 23.62h0.84M317.54 27.94h0.84M321.02 25.03h0.84M304.75 30.95h0.84M304.72 29.62h0.84M306.1 29.82h0.84M303.6 23.15h0.84M318.58 24.64h0.84" stroke="#fff" stroke-width="0.84" stroke-opacity="1" fill="none"/>
<path d="M299.24 37.42h0.7M297.78 34.52h0.7M296.36 34.11h0.7M296.64 29.56h0.7M299.07 28.26h0.7M297.06 58.31h0.7M295.53 41.98h0.7M297.65 24.87h0.7M296.34 31.81h0.7M296.74 40.04h0.7M297.31 48.64h0.7M297.23 47.36h0.7M296.72 42.61h0.7M296.99 45.19h0.7M295.65 46.96h0.7M296.26 44.18h0.7M296.13 39.78h0.7M296.59 47.64h0.7M298.3 36.06h0.7M296.73 42.32h0.7M299.48 34.91h0.7M298.59 32.62h0.7M296.86 39.92h0.7M300.45 25.3h0.7M297.39 48.78h0.7" stroke="#000" stroke-width="0.7" stroke-opacity="1" fill="none"/>
<path d="M314.52 61.44h0.7M320.58 53.84h0.7M322.51 57.14h0.7M319.53 60.6h0.7M316.79 58.18h0.7M327.36 50.38h0.7M320.4 55.79h0.7M335.5 42.17h0.7M316.3 61.77h0.7M312.53 60.18h0.7M322.69 52.41h0.7M333.14 44.7h0.7M332.57 48.79h0.7M321.36 58.42h0.7M329.39 50.38h0.7M332.9 44.93h0.7M321 53.77h0.7M317.9 58.54h0.7M321.93 55.23h0.7M328.58 48.57h0.7" stroke="#000" stroke-width="0.7" stroke-opacity="1" fill="none"/>
<polygon points="304.1,57.5 304.1,46.6 306,44 324.9,32.1 334.2,39.9 329.5,51.8 309.8,60.7" fill="none" stroke="#8dbf7a" stroke-width="1.2"/>
<text x="0" y="0" font-size="10" font-family='"Liberation Serif", serif' text-anchor="middle" fill="#000" transform="translate(289.5,42) rotate(-90)" textLength="16.4" lengthAdjust="spacingAndGlyphs">SSC</text>
<text x="307.5" y="73.5" font-size="10.5" font-family='"Liberation Serif", serif' text-anchor="start" fill="#000" textLength="17.3" lengthAdjust="spacingAndGlyphs">FSC</text>
<line x1="201" y1="54.5" x2="240.3" y2="54.5" stroke="#8dbf7a" stroke-width="1.4"/>
<polygon points="194.5,54.5 201.5,50.5 201.5,58.5" fill="#8dbf7a" stroke="none" stroke-width="1"/>
<line x1="280" y1="54.5" x2="304.1" y2="54.5" stroke="#8dbf7a" stroke-width="1.4"/>
<polygon points="274.5,54.5 281.5,50.5 281.5,58.5" fill="#8dbf7a" stroke="none" stroke-width="1"/>
<text x="393" y="13.5" font-size="9.5" font-family='"Liberation Serif", serif' font-weight="bold" text-anchor="middle" fill="#000">HOXA9</text>
<line x1="379.8" y1="69.2" x2="379.8" y2="26" stroke="#c8c8c8" stroke-width="0.8"/>
<line x1="379.8" y1="69.2" x2="410" y2="69.2" stroke="#c8c8c8" stroke-width="0.8"/>
<text x="375.8" y="71.8" font-size="7.6" font-family='"Liberation Serif", serif' text-anchor="end" fill="#000">0</text>
<text x="375.8" y="63.16" font-size="7.6" font-family='"Liberation Serif", serif' text-anchor="end" fill="#000">20</text>
<text x="375.8" y="54.52" font-size="7.6" font-family='"Liberation Serif", serif' text-anchor="end" fill="#000">40</text>
<text x="375.8" y="45.88" font-size="7.6" font-family='"Liberation Serif", serif' text-anchor="end" fill="#000">60</text>
<text x="375.8" y="37.24" font-size="7.6" font-family='"Liberation Serif", serif' text-anchor="end" fill="#000">80</text>
<text x="375.8" y="28.6" font-size="7.6" font-family='"Liberation Serif", serif' text-anchor="end" fill="#000">100</text>
<rect x="382.3" y="44.6" width="11.5" height="24.6" fill="#4a6cb6"/>
<line x1="388.05" y1="41.3" x2="388.05" y2="48" stroke="#111" stroke-width="0.8"/>
<line x1="386.45" y1="41.3" x2="389.65" y2="41.3" stroke="#111" stroke-width="0.8"/>
<line x1="386.45" y1="48" x2="389.65" y2="48" stroke="#111" stroke-width="0.8"/>
<rect x="396" y="52" width="11.7" height="17.2" fill="#d8262c"/>
<line x1="401.85" y1="49" x2="401.85" y2="54.8" stroke="#111" stroke-width="0.8"/>
<line x1="400.25" y1="49" x2="403.45" y2="49" stroke="#111" stroke-width="0.8"/>
<line x1="400.25" y1="54.8" x2="403.45" y2="54.8" stroke="#111" stroke-width="0.8"/>
<text x="395" y="82.7" font-size="10" font-family='"Liberation Serif", serif' font-weight="bold" text-anchor="middle" fill="#000">GFP<tspan font-size="6" dy="-3.5">+</tspan></text>
<text x="0" y="0" font-size="10" font-family='"Liberation Serif", serif' font-weight="bold" text-anchor="middle" fill="#000" transform="translate(360.8,50) rotate(-90)">% of Lin<tspan font-size="6" dy="-3.5">-</tspan></text>
<text x="461" y="13.8" font-size="9.5" font-family='"Liberation Serif", serif' font-weight="bold" text-anchor="middle" fill="#000">NUP98-HOXA9</text>
<line x1="440.8" y1="68.8" x2="440.8" y2="26" stroke="#c8c8c8" stroke-width="0.8"/>
<line x1="440.8" y1="68.8" x2="470" y2="68.8" stroke="#c8c8c8" stroke-width="0.8"/>
<text x="437.8" y="71.4" font-size="7.6" font-family='"Liberation Serif", serif' text-anchor="end" fill="#000">0</text>
<text x="437.8" y="62.84" font-size="7.6" font-family='"Liberation Serif", serif' text-anchor="end" fill="#000">20</text>
<text x="437.8" y="54.28" font-size="7.6" font-family='"Liberation Serif", serif' text-anchor="end" fill="#000">40</text>
<text x="437.8" y="45.72" font-size="7.6" font-family='"Liberation Serif", serif' text-anchor="end" fill="#000">60</text>
<text x="437.8" y="37.16" font-size="7.6" font-family='"Liberation Serif", serif' text-anchor="end" fill="#000">80</text>
<text x="437.8" y="28.6" font-size="7.6" font-family='"Liberation Serif", serif' text-anchor="end" fill="#000">100</text>
<rect x="443" y="34" width="11.2" height="34.8" fill="#4a6cb6"/>
<line x1="448.6" y1="30.8" x2="448.6" y2="36.5" stroke="#111" stroke-width="0.8"/>
<line x1="447" y1="30.8" x2="450.2" y2="30.8" stroke="#111" stroke-width="0.8"/>
<line x1="447" y1="36.5" x2="450.2" y2="36.5" stroke="#111" stroke-width="0.8"/>
<rect x="456.5" y="38.8" width="10.5" height="30" fill="#d8262c"/>
<line x1="461.75" y1="34.6" x2="461.75" y2="43.3" stroke="#111" stroke-width="0.8"/>
<line x1="460.15" y1="34.6" x2="463.35" y2="34.6" stroke="#111" stroke-width="0.8"/>
<line x1="460.15" y1="43.3" x2="463.35" y2="43.3" stroke="#111" stroke-width="0.8"/>
<text x="455" y="83.7" font-size="10" font-family='"Liberation Serif", serif' font-weight="bold" text-anchor="middle" fill="#000">GFP<tspan font-size="6" dy="-3.5">+</tspan></text>
<rect x="477" y="39" width="6" height="6" fill="#4a6cb6"/>
<text x="486" y="45" font-size="9.5" font-family='"Liberation Serif", serif' text-anchor="start" fill="#000">Wt</text>
<rect x="477" y="51.5" width="6" height="6" fill="#d8262c"/>
<text x="486" y="57.5" font-size="9.5" font-family='"Liberation Serif", serif' text-anchor="start" fill="#000">Smad4<tspan font-size="5.7" dy="-3.32">-/-</tspan></text>
<rect x="48" y="115" width="56.5" height="57.5" fill="none" stroke="#9a9a9a" stroke-width="1"/>
<text x="45.5" y="123" font-size="4.6" font-family='"Liberation Sans", sans-serif' text-anchor="end" fill="#333">10<tspan font-size="3" dy="-2">5</tspan></text>
<text x="45.5" y="135" font-size="4.6" font-family='"Liberation Sans", sans-serif' text-anchor="end" fill="#333">10<tspan font-size="3" dy="-2">4</tspan></text>
<text x="45.5" y="149" font-size="4.6" font-family='"Liberation Sans", sans-serif' text-anchor="end" fill="#333">10<tspan font-size="3" dy="-2">3</tspan></text>
<text x="45.5" y="162.5" font-size="4.6" font-family='"Liberation Sans", sans-serif' text-anchor="end" fill="#333">10<tspan font-size="3" dy="-2">2</tspan></text>
<text x="45.5" y="167.5" font-size="4.6" font-family='"Liberation Sans", sans-serif' text-anchor="end" fill="#333">0</text>
<text x="51" y="181" font-size="4.6" font-family='"Liberation Sans", sans-serif' text-anchor="middle" fill="#333">0</text>
<text x="60" y="181" font-size="4.6" font-family='"Liberation Sans", sans-serif' text-anchor="middle" fill="#333">10<tspan font-size="3" dy="-2">2</tspan></text>
<text x="73" y="181" font-size="4.6" font-family='"Liberation Sans", sans-serif' text-anchor="middle" fill="#333">10<tspan font-size="3" dy="-2">3</tspan></text>
<text x="86" y="181" font-size="4.6" font-family='"Liberation Sans", sans-serif' text-anchor="middle" fill="#333">10<tspan font-size="3" dy="-2">4</tspan></text>
<text x="99" y="181" font-size="4.6" font-family='"Liberation Sans", sans-serif' text-anchor="middle" fill="#333">10<tspan font-size="3" dy="-2">5</tspan></text>
<path d="M75.2 152.76h0.76M75.58 145.13h0.76M60.4 141.29h0.76M58.25 136.06h0.76M78.72 146.55h0.76M69.76 146.12h0.76M67.56 161.77h0.76M57.18 142.77h0.76M69.38 143.35h0.76M73.02 159.67h0.76M74.32 155.63h0.76M67.44 157.5h0.76M63.28 141.25h0.76M66.8 148.22h0.76M76.48 142.76h0.76M75.97 144.31h0.76M60.26 137.5h0.76M68.28 139.36h0.76M69.89 150.41h0.76M65.9 135.78h0.76M65.12 153.37h0.76M56.87 155.18h0.76M68.62 146.04h0.76M69.83 154.88h0.76M68.36 144.3h0.76M73.62 145.03h0.76M70.86 157.28h0.76M77.03 161.87h0.76M75.18 151.13h0.76M67.18 151.45h0.76M72.8 143.93h0.76M78.43 138.27h0.76M75.04 140.58h0.76M61.4 146.33h0.76M66.65 140.05h0.76M72.54 149.21h0.76M77.26 142.51h0.76M56.69 155.15h0.76M67.04 157.28h0.76M53.26 140.79h0.76M69.09 164.53h0.76M60.47 135.92h0.76M65.54 160.53h0.76M78.81 139.96h0.76M64.53 136.4h0.76M63.01 142.9h0.76M71.29 158.48h0.76M84.04 147.38h0.76M73.84 151.67h0.76M69.33 164.38h0.76M73.09 161.63h0.76M70.46 156.45h0.76M71.81 149.33h0.76M63.96 147.05h0.76M68.59 147.21h0.76M66.28 144.81h0.76M74.1 148.22h0.76M67.74 148.42h0.76M77.05 146.05h0.76M77.71 143.65h0.76M78.47 154.57h0.76M65.31 153.42h0.76M75.92 142.97h0.76M67.03 152.35h0.76M67.15 147.88h0.76M68.64 152.36h0.76M73.56 160.99h0.76M66.38 163.21h0.76M67.68 139.27h0.76M65.68 147.48h0.76M75.48 135.06h0.76M64.39 149.06h0.76M72.79 152.97h0.76M74.09 148.85h0.76M66.99 158.99h0.76M79.71 152.86h0.76M69.53 143.68h0.76M82.2 153h0.76M72.54 138.14h0.76M72.45 168.06h0.76M67.45 148.52h0.76M78.49 148.65h0.76M74 164.44h0.76M60.92 143.88h0.76M72.94 150.9h0.76M68.78 148.8h0.76M69.35 152.67h0.76M65.43 147.97h0.76M70.03 141.97h0.76M71.4 133.75h0.76M72.67 149.14h0.76M60.89 160.03h0.76M60.91 165.37h0.76M63.8 159.02h0.76M68.11 162.01h0.76M67.08 157.68h0.76M66.45 136.12h0.76M71.05 153.57h0.76M71.12 162.44h0.76M63.75 139.42h0.76M70.18 144.88h0.76M67.85 150.02h0.76M63.22 158.14h0.76M67.75 163.32h0.76M70.15 157.88h0.76M66.65 145.14h0.76M65.11 143.5h0.76M71.43 151.06h0.76M61.54 138.6h0.76M62.97 136.48h0.76M62.8 138.76h0.76M73.1 141.42h0.76M64.72 149.13h0.76M68.74 153.17h0.76M73.47 154.81h0.76M66.3 159.31h0.76M70.93 144.77h0.76M78.2 141.24h0.76M71.59 159.36h0.76M69.27 152.6h0.76M69.32 154.98h0.76M69.98 150.08h0.76M73.08 135.95h0.76M70.16 147.79h0.76M81.19 152.18h0.76M64.28 154.89h0.76M66.06 141.21h0.76M66.73 153.76h0.76M76.2 157.82h0.76M70.01 148.83h0.76M69.82 159.02h0.76M67.72 158.65h0.76M63.41 149.93h0.76M73.52 155.25h0.76M69.83 146.2h0.76M56.98 146.77h0.76M63.08 147.03h0.76M78.7 144.3h0.76M73.99 149.88h0.76M61.43 150.83h0.76M73.36 141.21h0.76M61.07 147.2h0.76M73.2 145.57h0.76M71.25 153.43h0.76M68.61 153.36h0.76M76.68 148.6h0.76M70.62 142.12h0.76M63.9 149.28h0.76M73.75 145.04h0.76M59.61 156.89h0.76M83.75 130.91h0.76M61.72 150.93h0.76M71.64 142.99h0.76M70.68 158.17h0.76M66.77 155.43h0.76M69.35 143.12h0.76M64.6 145.49h0.76M77.04 158.59h0.76M70.08 138.43h0.76M65.4 147.04h0.76M56.2 149.87h0.76M70.36 140.2h0.76M65.8 146.63h0.76M80.32 154.93h0.76M73.44 150.66h0.76M60.35 156.86h0.76M64.22 135.77h0.76M73.18 147.45h0.76M68.52 153.83h0.76M67.04 153.06h0.76M76.75 147.63h0.76M66.27 150.14h0.76M72.65 147.05h0.76M69.04 144.96h0.76M68.04 154.04h0.76M63.31 148.66h0.76M59.22 144.83h0.76M69.02 153.94h0.76M61.96 149.27h0.76M62.61 152.36h0.76M70.2 153.3h0.76M67.18 139.47h0.76M64.96 140.11h0.76M64.21 149.59h0.76M75.38 145.24h0.76M63.62 151.52h0.76M55.41 164.74h0.76M58.74 157.53h0.76M74.74 157.14h0.76M67.85 155.43h0.76M66.34 157.11h0.76M64.38 143.98h0.76M70.93 146.67h0.76M72.78 143.66h0.76M70.22 142.75h0.76M67.87 165.89h0.76M61.7 140.91h0.76M58.37 148.33h0.76M78.78 146.68h0.76M74.41 148.65h0.76M64.51 164.85h0.76M75.35 136.42h0.76M62.33 153.06h0.76M72.64 148.36h0.76M70.5 153.98h0.76M66.3 157.38h0.76M63.15 155.58h0.76M74.3 151.51h0.76M66.33 149.87h0.76M54.49 151.89h0.76M59.53 135.13h0.76M73.34 143.26h0.76M70.76 150.35h0.76M57.4 143.35h0.76M66.8 153.47h0.76M68.96 140.68h0.76M65.17 150.78h0.76M60.49 146.75h0.76M65.06 134.32h0.76M79.39 156.49h0.76M65.58 157.01h0.76M61.93 161.31h0.76M66.17 151.04h0.76M64.87 150.69h0.76M70.59 150.24h0.76M63.29 155.6h0.76M72.03 150.02h0.76M75.14 144.56h0.76M76.56 148.83h0.76M78.06 146.74h0.76M66.92 151.57h0.76M75.41 160.64h0.76M65.64 144.63h0.76M73.32 159.17h0.76M72.94 147.58h0.76M76.53 149.82h0.76M69.57 154.6h0.76M64.94 133.29h0.76M69.89 155.29h0.76M71.27 154.01h0.76M69.53 157.71h0.76M69.24 161.03h0.76M68.83 155.89h0.76M65.05 152.23h0.76M71.19 151.03h0.76M78.23 150.34h0.76M75.58 152.61h0.76M75.38 143.35h0.76M66.22 157.14h0.76M63.37 152.91h0.76M72.08 151.45h0.76M71.26 154.01h0.76M67.03 153.05h0.76M65.26 146.67h0.76M58.53 149.25h0.76M57.82 150.22h0.76M69.83 141.97h0.76M68.95 152.15h0.76M66.31 143.28h0.76M67.81 153.03h0.76M74.33 164.31h0.76M56.09 152.54h0.76M71.24 145.3h0.76M70.54 165.48h0.76M69.23 160.1h0.76M75.21 146.74h0.76M53.96 158.59h0.76M78.2 136.99h0.76M67.26 144.85h0.76M69.8 150.47h0.76M75.7 145.64h0.76M80.64 137.37h0.76M69.87 169.81h0.76M67.89 154.66h0.76M74.13 147.41h0.76M56.47 151.58h0.76M73.12 134.91h0.76M65.43 154.15h0.76M53.39 148.59h0.76M58.51 140.08h0.76M71.06 158.42h0.76M75.83 145.15h0.76M71.71 136.89h0.76M59.2 154.04h0.76M66 142.46h0.76M56.75 148.27h0.76M82.56 135.07h0.76M61.93 158.33h0.76M56.44 145.4h0.76M68.94 158.4h0.76M68.04 163.51h0.76M68.32 149.18h0.76M71.29 152.61h0.76M59.06 142.97h0.76M67.03 152.53h0.76M60.79 144.7h0.76M63.82 152.53h0.76M65.8 154.48h0.76M70.95 143.21h0.76M66.63 140.78h0.76M69.19 156.02h0.76M62.29 136.87h0.76M71.76 147.85h0.76M68.33 153.42h0.76M70.89 156.88h0.76M65.62 133.64h0.76M65.43 147.73h0.76M65.92 152.93h0.76M66.93 159.64h0.76M64.51 149.95h0.76M66.24 165.75h0.76M62.48 142.56h0.76M66.1 155.69h0.76M68.58 148.7h0.76M59.26 134.56h0.76M67.15 148.23h0.76M79.64 152.77h0.76M71.2 157.21h0.76M62.84 140.84h0.76M66.18 161.04h0.76M74.76 145.65h0.76M60.64 156.92h0.76M75.43 141.83h0.76M78.68 144.23h0.76M73.25 148.47h0.76M66.43 145.45h0.76M72.9 154.61h0.76M73.62 147.91h0.76M63.13 165.99h0.76M79.37 148.57h0.76M61.23 161.16h0.76M69.35 150.43h0.76M73.91 152.62h0.76M69.21 164.83h0.76M56.52 154.81h0.76M62.25 150.55h0.76M67.42 151.98h0.76M53.17 155.18h0.76M83.32 146.92h0.76M74.24 154.67h0.76M70.39 146.25h0.76M72.55 152.03h0.76M77.71 156.21h0.76M63.98 128.22h0.76M78.12 153.65h0.76M69.6 145.47h0.76M84.47 160h0.76M69.12 147.25h0.76M72.17 160.15h0.76M71.82 157.06h0.76M70.18 152.66h0.76M60.41 150.92h0.76M68.83 149.46h0.76M66.96 152.29h0.76M64.8 148.54h0.76M60.13 167.28h0.76M62.8 141.01h0.76M65.07 146.9h0.76M61.63 131.76h0.76M79.02 157.63h0.76M66.07 154.18h0.76M61.38 137.89h0.76M70.65 154.31h0.76M64.1 149.97h0.76M75.28 151.27h0.76M69.66 154.32h0.76M55.11 140.37h0.76M60.34 151.81h0.76M64.47 135.9h0.76M74.22 148.6h0.76M74.89 165h0.76M57.87 140.47h0.76M75.43 160.54h0.76M71.05 152.7h0.76M72.96 154.9h0.76M60.3 155.57h0.76M74.87 146.97h0.76M62.61 146.35h0.76M64.72 153.95h0.76M73.49 150.19h0.76M66.53 136.76h0.76M65.76 142.56h0.76M64.93 152.58h0.76M62.86 146.01h0.76M61.11 148.09h0.76M66.66 157.51h0.76M55.91 156.8h0.76M72.65 146.09h0.76M64.07 151.47h0.76M71.86 148.81h0.76M67.49 150.14h0.76M61.5 152.03h0.76M72.21 150.39h0.76M61.13 150.01h0.76M67.79 152.36h0.76M65.8 156.19h0.76M75.49 156.15h0.76M70 159.08h0.76M68.22 148.77h0.76M59.25 150.15h0.76M76.33 142.91h0.76M73.52 140.58h0.76M70.41 163.57h0.76M68.78 141.34h0.76M70.33 148.93h0.76M73.62 146.14h0.76M57.3 146.47h0.76M72.28 157.62h0.76M70.26 150.19h0.76M72.9 148.56h0.76M65.55 151.69h0.76M75.54 146.31h0.76M71.68 145.28h0.76M63.73 151.29h0.76M59.89 143.72h0.76M60.79 145.58h0.76M62.59 167.2h0.76M72.39 150.55h0.76M59.84 132.5h0.76M71.31 145.38h0.76M75.23 147.11h0.76M60.03 145.33h0.76M58.61 139.62h0.76M73.06 146.12h0.76M72.91 145.9h0.76M66.96 145.98h0.76M64.94 145.17h0.76M78.11 149.62h0.76M55.87 162.47h0.76M76.56 158.25h0.76M67.78 148.88h0.76M65.37 150.93h0.76M71.48 150h0.76M63.14 142.94h0.76M79.21 162.39h0.76M60.44 145.34h0.76M68.19 154.32h0.76M67.71 151.77h0.76M70.79 158.37h0.76M60.01 158.05h0.76M71.28 153.96h0.76M58.7 148.34h0.76M66.76 154.69h0.76M72.87 155.05h0.76M60.08 159.21h0.76" stroke="#000" stroke-width="0.76" stroke-opacity="1" fill="none"/>
<path d="M69.28 149.46h0.9M68.9 143.41h0.9M82 148.44h0.9M72.74 144.31h0.9M67.85 150.13h0.9M71.17 152.47h0.9M74.92 142.04h0.9M61.28 150.3h0.9M71.94 145.06h0.9M67.49 143.96h0.9M77.88 145.41h0.9M62.07 149.36h0.9M68.51 147.33h0.9M67.03 145.87h0.9M59.57 147.99h0.9M65.52 144.61h0.9M70.51 150.72h0.9M58.2 145.52h0.9M71.65 149.75h0.9M64.4 147.19h0.9M70.92 149.44h0.9M65.83 145.34h0.9M66.38 150.2h0.9M74.34 144.39h0.9M68.25 146.83h0.9M64.44 145.61h0.9M73.23 148.86h0.9M65.53 143.64h0.9M68.34 140.65h0.9M70.47 146.46h0.9M62.27 145.17h0.9M65.62 145.04h0.9M64.56 151.01h0.9M64.11 148.81h0.9M69.95 151.3h0.9M68.63 146.04h0.9M69.25 139.15h0.9M80.9 145.26h0.9M67.34 141.93h0.9M68.23 151.9h0.9M65.15 147.64h0.9M74.06 149.47h0.9M66.9 139.69h0.9M70.95 148.11h0.9M67.29 144.48h0.9M77.65 140.3h0.9M66.35 143.83h0.9M61.12 143.53h0.9M64.93 150.55h0.9M60.2 141.06h0.9M70.22 140.42h0.9M58.91 143.78h0.9M62.89 142.51h0.9M68.11 147.68h0.9M65.68 145.04h0.9M72.47 145.49h0.9M72.57 143.91h0.9M71.35 150.66h0.9M62.02 156.87h0.9M67.29 144.82h0.9M68.1 147.72h0.9M62.88 146.19h0.9M65.99 151.2h0.9M60.29 148.39h0.9M67.33 143.35h0.9M69.59 145.18h0.9M69.11 146.91h0.9M74.91 144.59h0.9M77.24 136.31h0.9M78.01 150.43h0.9M76.7 146.77h0.9M70.32 142.39h0.9M75.58 141.87h0.9M64.94 146.05h0.9M70.07 147.27h0.9M63.11 144.81h0.9M71.35 150.32h0.9M72.72 147.54h0.9M67.61 144.1h0.9M66.35 145.71h0.9M71.54 144.23h0.9M79.17 142.45h0.9M72.97 145.32h0.9M68.21 144.68h0.9M76.56 144.98h0.9M71.66 146.48h0.9M72.64 148.16h0.9M77.14 143.42h0.9M64.81 152.14h0.9M75.26 146.32h0.9M67.48 146.97h0.9M75.4 143.3h0.9M76.14 145.85h0.9M67.11 144.63h0.9M58.46 147.21h0.9M62.35 144.05h0.9M64.44 146.9h0.9M72.5 146.2h0.9M69.85 147.53h0.9M76.91 148.13h0.9M76.73 145.83h0.9M70.66 143.72h0.9M71.87 142.98h0.9M71.25 143.78h0.9M67.15 150.43h0.9M69.64 148.9h0.9M67.71 139.37h0.9M76.25 145.41h0.9M65.68 149.45h0.9M63.25 143.39h0.9M74.62 143.56h0.9M74.53 144.96h0.9M67.86 146.31h0.9M66.42 149.9h0.9M74.37 146.3h0.9M71.94 148h0.9M77.29 140.38h0.9M74.01 149.33h0.9M67.35 146.11h0.9M67.19 150.49h0.9M63.21 148.23h0.9M75.31 148.11h0.9M66.52 144.41h0.9M58.36 142.38h0.9M74.37 142.67h0.9M60.75 145.18h0.9M61.49 147.7h0.9M64.56 149.47h0.9M68.33 140.99h0.9M65.07 143.75h0.9M64.71 150.48h0.9M63.92 147.37h0.9M66 148.17h0.9M61.79 140.46h0.9M71.46 151.18h0.9M62.02 144.94h0.9M66.38 142.71h0.9M73.74 146.24h0.9M62.02 145.29h0.9M75.56 143.53h0.9M66.35 143.1h0.9M69.72 144.08h0.9M73.35 143.09h0.9M61.65 147.68h0.9M53.1 142.67h0.9M70.32 146.95h0.9M66.04 144.47h0.9M71.52 159.4h0.9M64.91 145.42h0.9M66.64 148.04h0.9M68.96 148.05h0.9M77.06 145.09h0.9M67.47 147.41h0.9M79.38 144.78h0.9M77.34 150.31h0.9M55.26 142.51h0.9M64.02 147.49h0.9M75.54 146.26h0.9M69.73 153.82h0.9M70.7 153.76h0.9M64.46 151.96h0.9M66.39 137.38h0.9M64.79 144.37h0.9M68.7 148.77h0.9M72.36 147.93h0.9M65.19 152.45h0.9M74.9 146.19h0.9M66.07 145.89h0.9M67.81 143.57h0.9M68.87 143.69h0.9M72.13 143.73h0.9M71.37 147.21h0.9M69.76 147.94h0.9M63.8 155.29h0.9M65.47 148.69h0.9M69.04 144.51h0.9M77.61 150.02h0.9M67.56 148.08h0.9M72.34 151.73h0.9M73.99 145.46h0.9M67.67 141.89h0.9M70.24 149.17h0.9M66.98 148.44h0.9M69.59 144.4h0.9M62.84 150.05h0.9M81.59 148.02h0.9M63.55 142.35h0.9M70.2 148.39h0.9M76.52 137.39h0.9M78.18 146.66h0.9M69.62 147.45h0.9M67.16 145.03h0.9M74.21 139.83h0.9M68.37 148.07h0.9M60.71 145.48h0.9M76.59 147.4h0.9M72.48 148.59h0.9M70.05 147.34h0.9M64.88 145.3h0.9M78.18 141.64h0.9M68.11 141.5h0.9M66.28 143.28h0.9M62.82 146.93h0.9M64.23 147.96h0.9M77.98 136.85h0.9M68.12 138.51h0.9M68.33 147.41h0.9M70.01 150.41h0.9M69.75 139.84h0.9M76.48 142.64h0.9M68.49 147.22h0.9M64.55 146.38h0.9M76.43 139.97h0.9M60.63 144.44h0.9M68.12 141.45h0.9M57.44 149.35h0.9M70.91 141.27h0.9M71.83 145.82h0.9M69.77 141.23h0.9M67.87 147.78h0.9M60.2 142.26h0.9M73.81 153.26h0.9M72.27 145.79h0.9M63.55 144.58h0.9M67.71 147.65h0.9M67.7 155h0.9M75.59 138.11h0.9M63.12 146.04h0.9M73.88 147.51h0.9M55.2 140.1h0.9M75.72 148.19h0.9M81.79 148.94h0.9M71.29 151.58h0.9M66.74 144.07h0.9M63.91 146.95h0.9M71.17 149.44h0.9M76.23 148.31h0.9M75.14 145.14h0.9M64.15 148.7h0.9M74.06 150.9h0.9M68.15 144.34h0.9M67.16 147.35h0.9M68.74 145.37h0.9M70.26 144.99h0.9M70.67 143.87h0.9M61.25 144.92h0.9M78.45 143.1h0.9M73.57 150.93h0.9M66.26 146.98h0.9M57.55 148.12h0.9M76.69 146.71h0.9M59.02 143.93h0.9M65.26 146.45h0.9M70.42 144.54h0.9M67.43 143.06h0.9M71.86 146.76h0.9M70.72 144.2h0.9M71.46 144.95h0.9M70.48 145.46h0.9M65.66 142.05h0.9M59.65 141.06h0.9M71.3 157.91h0.9M60.76 143.07h0.9M68.94 159.04h0.9M67.96 141.78h0.9M71.09 153.64h0.9M54.98 141.77h0.9M75.2 141.79h0.9M68.47 143.73h0.9M72.82 140.73h0.9M70.55 146.83h0.9M71.82 147.59h0.9M69.76 139.54h0.9M67.37 142.57h0.9M71.65 145.17h0.9M69.76 150.06h0.9M68.45 152.19h0.9M73.18 140.6h0.9M66.07 150.48h0.9M66.49 150.4h0.9M66.18 145.58h0.9M74.15 140.25h0.9M69.38 144.36h0.9M69.84 152.29h0.9M71.45 141.07h0.9M73.81 144.36h0.9M69.82 150.26h0.9M67.44 149.53h0.9M69.89 142.71h0.9M67.45 141.04h0.9M74.92 146.62h0.9M73.85 141.93h0.9M73.24 141.64h0.9M70.41 145.96h0.9M66.04 147.14h0.9M69.17 142.83h0.9M65.28 141.23h0.9M75.86 146.56h0.9M67.18 148.55h0.9M64.69 141.74h0.9M70.78 151.83h0.9M70.5 146.58h0.9M77.73 140.34h0.9M84.31 141.97h0.9M68.63 141.08h0.9M62.92 145.13h0.9M81.23 142.55h0.9M65.91 147h0.9M63.9 145.06h0.9M73.1 138h0.9M67.49 144.93h0.9M66.44 145.57h0.9M60.01 144.39h0.9M66.39 142.22h0.9M75.32 153.36h0.9M73 142.82h0.9M76.11 147.84h0.9M64.91 148.23h0.9M66.11 148.11h0.9M73.6 150.25h0.9M63.73 145.54h0.9M69.02 141.51h0.9M71.08 148.55h0.9M62.09 143.97h0.9M63.47 141.32h0.9M63.66 151.06h0.9M65.68 144.55h0.9M73.95 149.78h0.9M76.04 138.36h0.9M72.78 139.54h0.9M65.83 144.47h0.9M66.15 153.24h0.9M68.16 150.33h0.9M68.1 145.78h0.9M71.56 147.63h0.9M71.5 139.61h0.9M71.54 147.18h0.9M72 145.81h0.9M71.05 141.2h0.9M74.67 141.53h0.9M76.01 149.74h0.9M68.68 144.92h0.9M72.89 144.88h0.9M63.05 147.03h0.9M62.89 144.32h0.9M77.98 148.99h0.9M66.75 145.75h0.9M65.76 145.96h0.9M61.75 148.52h0.9M69.07 143.74h0.9M65.92 155.71h0.9M66.78 144.24h0.9M66.09 144.18h0.9M75.55 148.5h0.9M71.1 147.35h0.9M63.31 137.09h0.9M76.55 148.65h0.9M70.08 147.03h0.9M70 146.08h0.9M67.69 137.77h0.9M71.84 146.18h0.9M73.89 147.14h0.9M67.57 148.23h0.9M69.94 144.36h0.9M67.12 144.44h0.9M67.51 144.35h0.9M73.91 156.79h0.9M68.43 150.14h0.9M59.13 134.06h0.9M66.63 145.43h0.9M65.29 140.97h0.9M64.75 144.11h0.9M69.77 144.76h0.9M63 144.63h0.9M76.56 142.74h0.9M69.33 149.73h0.9M64.97 143.89h0.9M83.48 150.58h0.9M66.36 146.59h0.9M69.5 146.54h0.9M71.33 144.89h0.9M57.91 142.45h0.9M69.76 140.95h0.9M67.38 151.55h0.9M70.19 143.58h0.9M69.69 149.88h0.9M60.44 141.38h0.9M65.69 144.38h0.9M68.56 143.86h0.9M69.54 146.33h0.9M63.17 143.69h0.9M62.8 147.06h0.9M70.31 148.42h0.9M64.62 144.03h0.9M57.91 146.04h0.9M60.92 147.28h0.9M74.39 147.64h0.9M72.14 146.84h0.9M70.85 149.47h0.9M75.31 153.46h0.9M67.67 149.08h0.9M73.33 147.58h0.9M70.34 141.33h0.9M74.44 142.74h0.9M65.74 142.85h0.9M71.79 142.43h0.9M71.28 148.08h0.9M69.5 144.75h0.9M71.97 150.83h0.9M66.69 142.12h0.9M66 142.76h0.9M67.81 145.43h0.9M57.51 151.38h0.9M64.94 144.42h0.9M59.22 138.73h0.9M63.93 146.85h0.9M73.24 139.33h0.9M70.11 151.58h0.9M67.59 149.38h0.9M70.55 142.59h0.9M73.96 143.75h0.9M70.77 144.52h0.9M67.92 146.56h0.9M75.59 139.79h0.9M63.43 146.38h0.9M73.86 145.31h0.9M68.06 147.94h0.9M76.86 142.66h0.9M61.03 144.96h0.9M72.82 141.15h0.9M74.62 149.46h0.9M72.93 142.89h0.9M62.55 148.41h0.9M70.3 148.53h0.9M62.28 135.11h0.9M74.59 149.68h0.9M67.62 145.98h0.9M71.25 148.75h0.9M68.05 144.1h0.9M64.13 149.78h0.9M69.49 133.45h0.9M70.71 143.89h0.9M62.64 144.11h0.9M62.62 144.34h0.9M66.27 147.88h0.9M63.95 139.3h0.9M65.98 140.93h0.9M72.69 145.24h0.9M60.65 142.77h0.9M68.86 145.85h0.9M59.81 145.52h0.9M70.47 149.63h0.9M74.47 145.54h0.9M62.5 144.62h0.9M72.24 142.61h0.9M75.28 142.47h0.9M63.38 149.05h0.9M68.49 147.18h0.9M67.48 146.11h0.9M66.08 152.97h0.9M72.26 145.54h0.9M71.35 149.06h0.9M66.37 146.64h0.9M70.02 143.92h0.9M65.14 145.26h0.9M67.5 144.5h0.9M59.3 146.28h0.9M72.26 146.26h0.9M77.55 149.17h0.9M67.22 143.51h0.9M71.49 144.62h0.9M60.93 146.44h0.9M67.51 145.17h0.9M72.05 146.71h0.9M79.09 143.28h0.9M68.51 147.13h0.9M66.8 144.11h0.9M77.72 140.66h0.9M70.73 139.55h0.9M70.68 138.94h0.9M63.18 150.17h0.9M76.68 146.47h0.9M55.45 149.72h0.9M70.21 141.93h0.9M67.23 141.14h0.9M68.53 145.68h0.9M69.61 148.9h0.9M65.78 137.9h0.9M63.17 141.38h0.9M67.16 144.39h0.9M68.78 151.01h0.9M69.13 142.04h0.9M67.47 142.78h0.9M67.79 148.12h0.9M63.36 148.58h0.9M77.89 151.58h0.9M77.1 146.32h0.9M62.26 153.35h0.9M68.74 146.84h0.9M67.22 142.55h0.9M72.08 140.88h0.9M62.14 148.02h0.9M67.13 142.92h0.9M71.47 151.2h0.9M67.58 145.5h0.9M71.79 149.43h0.9M74.15 148.48h0.9M65.69 147.94h0.9M69.03 139.78h0.9M75.15 148.09h0.9M75.82 145.76h0.9M72.62 145.74h0.9M69.81 149.33h0.9M69.29 148.23h0.9M68.82 150.48h0.9M72.25 139.94h0.9M77.26 147.6h0.9M66.46 143.72h0.9M78.9 146.32h0.9M71.54 148.18h0.9M66.02 152.39h0.9M79.47 143.15h0.9M74.65 140.04h0.9M67.33 146.22h0.9M69.26 148.08h0.9M71.01 147.36h0.9M68.32 147.11h0.9M66.24 153.17h0.9M69.31 150.53h0.9M69.52 145.46h0.9M68.1 141.29h0.9M79.33 147.51h0.9M69.65 144.31h0.9M75.37 144.8h0.9M66.72 144.03h0.9M76.67 147.14h0.9M68.28 143.66h0.9M75.39 147.05h0.9M67.36 149.26h0.9M73.36 142.38h0.9M74.72 149.97h0.9M67.81 141.16h0.9M74.44 144.76h0.9M68 144.96h0.9M67.67 149.05h0.9M63.59 147.94h0.9M74.76 149.84h0.9M72.59 146.97h0.9M68.05 145.57h0.9M64.68 152.09h0.9M68.44 142.34h0.9M73.15 151.49h0.9M70.4 144.85h0.9M63.51 148.35h0.9M67.82 143.6h0.9M72 141.32h0.9M72.67 137.19h0.9M65.97 140.83h0.9M67.83 148.9h0.9M62.6 150.94h0.9M65.67 144.26h0.9M73.93 143.37h0.9M76.21 145.27h0.9M68.57 142.52h0.9M74.71 145.77h0.9M66.65 142.57h0.9M65.92 145.66h0.9M65.5 148.89h0.9M68.87 143.77h0.9M71.32 151.17h0.9M58.81 147.3h0.9M74.37 146.5h0.9M73.1 140.44h0.9M65.37 149.66h0.9M68.6 146.23h0.9M72.14 147.34h0.9M71.27 144.22h0.9M67.59 150.74h0.9M66.64 140.81h0.9M67.34 149.24h0.9M77.86 146.55h0.9M66.02 148.2h0.9M70.55 150.27h0.9M71.61 148.73h0.9M71.57 147.52h0.9M64.61 145.42h0.9M76.92 150.81h0.9M73.8 147.43h0.9M68.54 147.26h0.9M67.47 149.93h0.9M67.55 143.27h0.9M61.2 151.61h0.9M65.4 142.91h0.9M71.07 152.48h0.9M72.36 144.81h0.9M71.86 143.04h0.9M67.87 146.12h0.9M69.17 148.82h0.9M71.74 152.79h0.9M73.17 144.99h0.9M70.36 142.95h0.9M66.13 144.78h0.9M74.07 143.53h0.9M61.5 142.37h0.9M63.26 145.35h0.9M67.65 141.82h0.9M65.26 144.52h0.9M71.04 148.21h0.9M75.57 145.09h0.9M72.2 146.28h0.9M63.82 143.73h0.9M79.78 145.44h0.9M77.16 148.98h0.9M77.23 145.33h0.9M73.69 144.92h0.9M63.77 141.81h0.9M71.29 140.22h0.9M70.94 142.88h0.9M70.89 141.08h0.9M73.29 145.19h0.9M61.75 140.84h0.9M69.48 140.14h0.9M70.77 147.75h0.9M65.99 151.02h0.9M76.19 147.14h0.9M71.39 147.71h0.9M67.91 150.72h0.9M66.59 136.98h0.9M69.28 147.59h0.9M73.18 142.04h0.9M75.92 143.07h0.9M72.24 148.63h0.9M70.05 150.08h0.9M66.8 153.37h0.9M71.57 144.5h0.9M81.8 145.99h0.9M61.35 151.11h0.9M76.68 143.94h0.9M64.41 150.06h0.9M69.48 142.56h0.9M66.87 146.25h0.9M73.95 151.63h0.9M66.2 151.52h0.9M61.89 148.57h0.9M68.53 147.58h0.9M67.09 143.46h0.9M70.57 150.07h0.9M58.49 146.19h0.9M67.25 142.16h0.9M62.69 147.87h0.9" stroke="#000" stroke-width="0.9" stroke-opacity="1" fill="none"/>
<path d="M50.86 135.76h0.7M55.84 167.5h0.7M55.81 131.38h0.7M59.66 160.41h0.7M51.84 139.23h0.7M49.85 158.72h0.7M51.79 161.91h0.7M57.04 159.43h0.7M55.43 133.02h0.7M49.88 150.42h0.7M49.64 146.7h0.7M57.63 127.95h0.7M54.09 147.78h0.7M51.08 130.98h0.7M55.91 129.59h0.7M51.1 131.93h0.7M59.34 165.42h0.7M50.67 149.37h0.7M53.82 122.53h0.7M52.14 153.2h0.7M49.7 168.44h0.7M52.5 138.22h0.7M59.47 127.9h0.7M50.87 144.38h0.7M52.79 136.79h0.7M55.62 168.03h0.7M53.86 123.17h0.7M53.42 163.21h0.7M54.04 124.01h0.7M52.12 132.23h0.7M53.18 136.75h0.7M56.54 156.6h0.7M49.97 128.21h0.7M58.13 164.34h0.7M57.78 129.77h0.7M56.78 124.73h0.7M56.59 131.96h0.7M58.32 162.74h0.7M54.41 156.92h0.7M59.42 165.21h0.7M56.3 151.49h0.7M53.25 154.83h0.7M50.98 143.67h0.7M50.39 125.55h0.7M56.51 142.1h0.7M51.68 167.97h0.7M52.55 147.7h0.7M54.65 130.14h0.7M59.93 158.54h0.7M58.87 135.83h0.7M59.06 166.05h0.7M59.39 129.81h0.7M51.14 125.13h0.7M50.44 155.72h0.7M50.03 144h0.7M53.23 157.06h0.7M49.99 156.67h0.7M59.56 135.69h0.7M53.74 157.67h0.7M52.71 162.89h0.7M59.96 132.02h0.7M54.44 128.23h0.7M55.36 140.47h0.7M59.71 156.99h0.7M59.92 161.11h0.7M58.16 139.93h0.7M56.48 126.6h0.7M53.15 166.6h0.7M59.79 129.58h0.7M54.69 141.04h0.7M56.01 150.39h0.7M52.24 164.56h0.7M54.23 159.39h0.7M57.08 169.52h0.7M54.91 150.15h0.7M57.61 132.36h0.7M49.97 161.25h0.7M56.79 158.11h0.7M57.9 130.93h0.7M58.72 152.69h0.7M59.42 148.52h0.7M58.59 123.82h0.7M51.24 148.38h0.7M56.51 140.1h0.7M50.26 164.86h0.7M50.25 165h0.7M51.95 155.95h0.7M55.73 132.7h0.7M52.95 132.94h0.7M55.1 134.76h0.7" stroke="#000" stroke-width="0.7" stroke-opacity="1" fill="none"/>
<path d="M68.49 133.51h0.7M54.09 154.88h0.7M58.9 167.85h0.7M63.78 132.51h0.7M74.42 165.42h0.7M62.59 156.77h0.7M61.27 170.2h0.7M60.21 120.89h0.7M50.13 146.95h0.7M71.24 133.75h0.7M64.08 140.05h0.7M62.35 128.76h0.7M68.51 153.32h0.7M50.92 164.38h0.7M58.82 143.47h0.7M57.4 153.67h0.7M63.81 148.94h0.7M63.87 145.17h0.7M52.94 169.55h0.7M64.47 136.05h0.7M78.79 134.16h0.7M76.9 140.84h0.7M53.97 148.58h0.7M59.53 129.37h0.7M83.65 167.26h0.7M66.03 160.59h0.7M72.78 134.59h0.7M54.4 148.93h0.7M56.49 157.88h0.7M70.23 130.33h0.7M76.41 168.84h0.7M66.32 168.95h0.7M65.29 119.9h0.7M65.72 137.15h0.7M81.2 145.91h0.7M82.67 127.37h0.7M63.03 119.74h0.7M51.75 155.62h0.7M51.12 130.44h0.7M64.77 166.42h0.7M58.03 119.23h0.7M73.84 154.87h0.7M54.71 166.79h0.7M79.42 167.22h0.7M78.01 147.15h0.7M73.84 125.38h0.7M71.89 137.26h0.7M61.42 135.12h0.7M52.76 160.74h0.7M75.99 119.48h0.7M67.44 120.18h0.7M68.53 127.6h0.7M82.67 135.42h0.7M67.8 132.5h0.7M80.74 119.43h0.7M60.3 130.63h0.7M75.38 138.15h0.7M79.3 135.87h0.7M54.28 142.44h0.7M52.93 126.84h0.7M67.78 148.58h0.7M57.26 128.26h0.7M67.73 141.93h0.7M66.38 153.55h0.7M54.79 119.61h0.7M52.2 159.94h0.7M73.89 126.9h0.7M61.24 134.86h0.7M81.38 140.24h0.7M74.29 123.42h0.7" stroke="#000" stroke-width="0.7" stroke-opacity="1" fill="none"/>
<path d="M68.76 127.64h0.7M63.26 124.04h0.7M71.16 122.32h0.7M58.98 116.7h0.7M74.03 125.2h0.7M69.42 128.88h0.7M69.36 130.81h0.7M64.24 126.95h0.7M69.93 128.87h0.7M63.11 124.48h0.7M60.42 127.88h0.7M63.99 121.8h0.7M63.89 128.09h0.7M66.79 126.26h0.7M66.71 129.19h0.7M61.37 124.28h0.7M69.89 129.47h0.7M60.57 124.58h0.7M71.76 129.53h0.7M65.5 130.42h0.7M71.45 131.74h0.7M60.6 122.67h0.7M64.07 126.84h0.7M64.68 127.82h0.7M71.9 130.69h0.7M69.97 127h0.7M72.57 128.54h0.7M67.03 126.95h0.7M58.85 134.21h0.7M65.98 130.02h0.7M74.99 126.37h0.7M61.5 130.42h0.7M67.02 123.85h0.7M69.87 127.05h0.7M62.35 118.54h0.7M62.16 128.29h0.7M62 130.26h0.7M74.75 128.08h0.7M66.97 126.75h0.7M69.47 127.12h0.7M70.17 131.76h0.7M69.44 123.79h0.7M68.7 126.13h0.7M67.31 130.25h0.7M63.47 127.7h0.7M71.87 124.22h0.7M65.32 129.44h0.7M65.16 130.43h0.7M62.09 122h0.7M67.56 126.55h0.7M67.31 130.22h0.7M70.22 125.85h0.7M64.55 120.54h0.7M62.23 127.83h0.7M66.93 122.06h0.7M69.18 126.88h0.7M70.42 125.83h0.7M69.89 123.32h0.7M58.75 124.32h0.7M68.84 128.38h0.7M58.62 127.5h0.7M68.72 132.6h0.7M69.16 128.71h0.7M59.83 128.25h0.7M58.3 126.03h0.7M64.61 123.78h0.7M62.06 126.54h0.7M68.37 124.86h0.7M67.26 129.38h0.7M65.98 133.37h0.7M64.84 124.58h0.7M58.56 130.58h0.7M68.75 126.4h0.7M67.3 126.58h0.7M69.52 126.97h0.7M66.97 126.75h0.7M62.57 119.63h0.7M68.22 122.87h0.7M67.64 129.14h0.7M73.52 124.54h0.7M66.66 130.16h0.7M63.42 125.06h0.7M67.84 133.87h0.7M70.34 130.19h0.7M62.26 129.2h0.7M70.58 122.82h0.7M66.11 126.37h0.7M68.62 121.23h0.7M68.86 127.01h0.7M65.01 119.99h0.7M57.87 125.21h0.7M68.64 128.42h0.7M69.04 121.38h0.7M66.87 131.48h0.7M59.93 129.17h0.7M63.19 128.83h0.7M66.46 121.62h0.7M61.91 131.23h0.7M65.64 131.11h0.7M67.4 129.97h0.7M64.5 127.74h0.7M64.59 130.02h0.7M63.79 130.68h0.7M72.29 122.98h0.7M65.39 128.81h0.7M73.09 130.82h0.7M66.41 121.28h0.7M69.39 125.06h0.7M66.83 128.35h0.7M60.48 130.54h0.7" stroke="#333" stroke-width="0.7" stroke-opacity="1" fill="none"/>
<rect x="59" y="119" width="15" height="16.5" fill="none" stroke="#4f6fb8" stroke-width="1.3" rx="1.5"/>
<rect x="76" y="119" width="20" height="14" fill="none" stroke="#4f6fb8" stroke-width="1.3" rx="1.5"/>
<line x1="88" y1="133" x2="88" y2="199.5" stroke="#4f6fb8" stroke-width="1.7"/>
<polygon points="84,199 92,199 88,205.5" fill="#4f6fb8" stroke="none" stroke-width="1"/>
<rect x="134" y="115" width="56.5" height="57.5" fill="none" stroke="#9a9a9a" stroke-width="1"/>
<text x="131.5" y="123" font-size="4.6" font-family='"Liberation Sans", sans-serif' text-anchor="end" fill="#333">10<tspan font-size="3" dy="-2">5</tspan></text>
<text x="131.5" y="135" font-size="4.6" font-family='"Liberation Sans", sans-serif' text-anchor="end" fill="#333">10<tspan font-size="3" dy="-2">4</tspan></text>
<text x="131.5" y="149" font-size="4.6" font-family='"Liberation Sans", sans-serif' text-anchor="end" fill="#333">10<tspan font-size="3" dy="-2">3</tspan></text>
<text x="131.5" y="162.5" font-size="4.6" font-family='"Liberation Sans", sans-serif' text-anchor="end" fill="#333">10<tspan font-size="3" dy="-2">2</tspan></text>
<text x="131.5" y="167.5" font-size="4.6" font-family='"Liberation Sans", sans-serif' text-anchor="end" fill="#333">0</text>
<text x="137" y="181" font-size="4.6" font-family='"Liberation Sans", sans-serif' text-anchor="middle" fill="#333">0</text>
<text x="146" y="181" font-size="4.6" font-family='"Liberation Sans", sans-serif' text-anchor="middle" fill="#333">10<tspan font-size="3" dy="-2">2</tspan></text>
<text x="159" y="181" font-size="4.6" font-family='"Liberation Sans", sans-serif' text-anchor="middle" fill="#333">10<tspan font-size="3" dy="-2">3</tspan></text>
<text x="172" y="181" font-size="4.6" font-family='"Liberation Sans", sans-serif' text-anchor="middle" fill="#333">10<tspan font-size="3" dy="-2">4</tspan></text>
<text x="185" y="181" font-size="4.6" font-family='"Liberation Sans", sans-serif' text-anchor="middle" fill="#333">10<tspan font-size="3" dy="-2">5</tspan></text>
<path d="M162 153.11h0.76M159.94 151.55h0.76M147.11 145.42h0.76M161.34 146.67h0.76M156.26 151.66h0.76M156.66 150.85h0.76M159.22 149.03h0.76M149.01 147.11h0.76M162.25 144.22h0.76M159.12 151.19h0.76M150.43 129.02h0.76M155.98 143.52h0.76M152.06 155.64h0.76M151.16 151.48h0.76M156.85 150.43h0.76M168.89 135.05h0.76M162.3 147.99h0.76M154.3 144.29h0.76M156.35 149.35h0.76M150.2 160.62h0.76M151.33 148.05h0.76M147.95 150.09h0.76M158.38 156.7h0.76M162.39 145.48h0.76M166.4 148.26h0.76M166.06 161.14h0.76M153.51 141.41h0.76M159.57 159.19h0.76M158.65 156.76h0.76M159.91 155.3h0.76M164.59 146.93h0.76M147.01 148.17h0.76M151.02 140.59h0.76M155.02 154.06h0.76M144.26 138.3h0.76M161.21 142.74h0.76M153.58 158.58h0.76M163.29 151.54h0.76M159.54 129.8h0.76M159.65 151.71h0.76M147.17 150.3h0.76M159.02 148.2h0.76M161.17 155.25h0.76M156.42 147.26h0.76M148.52 157.07h0.76M152.41 151.26h0.76M165.92 154.49h0.76M147.94 148.4h0.76M151.52 137.38h0.76M150.94 153.14h0.76M158.26 147.55h0.76M157.2 140.78h0.76M151.17 147.83h0.76M161.18 146.75h0.76M155.02 151.37h0.76M165.5 140.11h0.76M159.5 150.32h0.76M155.63 150.75h0.76M143.38 149.22h0.76M154.56 140.29h0.76M161.49 148.16h0.76M153.89 154.37h0.76M150.18 143.94h0.76M161.36 155.16h0.76M169.02 145.78h0.76M146.77 138.52h0.76M148.41 149.75h0.76M154.55 144.25h0.76M149.61 144.1h0.76M153.74 157.4h0.76M160.08 158.68h0.76M161.32 154.38h0.76M163.61 152.2h0.76M165.93 157h0.76M167.71 150.54h0.76M151.11 166.76h0.76M154.28 152.69h0.76M153.65 144.1h0.76M158.86 141.11h0.76M155.05 158.97h0.76M156.86 154.8h0.76M160.17 151.72h0.76M156.75 153.33h0.76M149.87 153.12h0.76M149.18 143.69h0.76M152.3 139.58h0.76M143.45 151.7h0.76M159.29 153.67h0.76M170.22 150.25h0.76M160.85 143.75h0.76M160.59 140.95h0.76M168.69 142.21h0.76M153.43 154.29h0.76M141.97 158.47h0.76M149.96 150.41h0.76M162.33 150.1h0.76M162.04 145.46h0.76M159.86 133.65h0.76M165.75 144.32h0.76M150.51 149.13h0.76M166.94 144.04h0.76M155.91 146.46h0.76M150.07 139.79h0.76M159.83 154h0.76M151.23 150.61h0.76M158.92 151.69h0.76M154.98 149.32h0.76M157.81 141.49h0.76M155.11 154.61h0.76M152.45 158.27h0.76M154.5 141.24h0.76M154.15 139.45h0.76M159.94 137.77h0.76M156.14 147.34h0.76M154.09 151.99h0.76M157.88 145.07h0.76M161.29 145.83h0.76M161.79 158.48h0.76M158.44 155.55h0.76M147.46 152.98h0.76M146.46 147.77h0.76M160.49 130.08h0.76M151.03 143.56h0.76M150 149.16h0.76M160.11 140.85h0.76M152.04 135.91h0.76M151.51 134.23h0.76M146.38 152.31h0.76M161.64 143.27h0.76M158.27 143.52h0.76M162.86 161.35h0.76M140.25 142.89h0.76M151.91 145.64h0.76M166.04 160.1h0.76M155.93 153.51h0.76M145.82 146.91h0.76M154.18 147.95h0.76M157.92 137.97h0.76M149.33 164.11h0.76M144.9 149.42h0.76M160.68 152.47h0.76M156.38 137.62h0.76M153.01 138h0.76M168.6 151.54h0.76M160.68 150.45h0.76M153.51 157.35h0.76M161.67 153.49h0.76M159.75 154.22h0.76M154.22 152.05h0.76M156.53 147.23h0.76M160.16 164.11h0.76M143.01 159.15h0.76M153.22 157.49h0.76M149.47 147.7h0.76M162.58 148.5h0.76M158.25 140.47h0.76M148.66 160.78h0.76M157.02 148.39h0.76M147.15 141.69h0.76M149.39 148.66h0.76M155.27 144.7h0.76M151.71 149.79h0.76M163.51 139.09h0.76M146.91 156.97h0.76M146.86 146.12h0.76M156.76 161.87h0.76M142.93 128.51h0.76M155.49 156.59h0.76M156.92 143.29h0.76M157.22 134.47h0.76M161.28 159.46h0.76M154.7 154.8h0.76M149.25 159.44h0.76M151.87 143.37h0.76M151.12 136.51h0.76M160.32 163.16h0.76M146.84 147.6h0.76M158.88 145h0.76M145.99 151.37h0.76M162.45 149.75h0.76M149.15 146.88h0.76M143.63 148.58h0.76M163.82 156.86h0.76M155.45 152.07h0.76M152.68 149.93h0.76M152.18 150.17h0.76M152.69 150.39h0.76M160.45 148.87h0.76M147.7 152.54h0.76M154.43 145.49h0.76M159.61 143.09h0.76M161.98 152.95h0.76M151.57 144.07h0.76M155.23 142.58h0.76M162.08 133.05h0.76M156.95 146.54h0.76M148.98 153.47h0.76M152.91 152.23h0.76M153.22 147.01h0.76M159.36 155.78h0.76M162.39 148.85h0.76M165.5 146.61h0.76M147.29 135.78h0.76M146.76 142.89h0.76M144.59 151.33h0.76M156.22 148.75h0.76M157.52 148.23h0.76M154.39 146.75h0.76M156.27 141.02h0.76M164.18 159.92h0.76M156.22 165.13h0.76M149.8 155.39h0.76M145.64 153.28h0.76M151.24 156.13h0.76M156.74 155.75h0.76M159.89 152.73h0.76M154.26 160.29h0.76M158.3 152.43h0.76M165.18 147.18h0.76M167.16 156.7h0.76M156.51 138.73h0.76M163.8 146.8h0.76M156.64 149.88h0.76M162.12 153.5h0.76M144.36 144.35h0.76M158.25 150.23h0.76M161.1 153.03h0.76M166.42 143.89h0.76M164.37 151.72h0.76M157.95 153.86h0.76M153.87 154.08h0.76M154.69 154.12h0.76M151.16 157.33h0.76M146.3 144.36h0.76M155.72 150.73h0.76M150.93 146.16h0.76M157.66 156.45h0.76M164.29 145.64h0.76M155.6 146.8h0.76M146.29 145.85h0.76M163.25 139.47h0.76M174.29 155.95h0.76M167.09 150.32h0.76M141.32 152.13h0.76M166.19 144.94h0.76M164.13 154.39h0.76M161.04 154.32h0.76M159.77 153.62h0.76M163.66 152.02h0.76M160.07 152.06h0.76M156.93 142.85h0.76M144.57 141.83h0.76M148.12 138.53h0.76M160.44 146.68h0.76M164.15 171.19h0.76M160.98 145.73h0.76M158.47 147.57h0.76M157.86 163.81h0.76M166.25 158.09h0.76M157.88 161.67h0.76M161.34 155.34h0.76M148.58 144.67h0.76M157.13 147.48h0.76M152.72 134.82h0.76M151.28 148.25h0.76M158.02 141.4h0.76M155.2 161.88h0.76M157.07 135.07h0.76M154.87 149.05h0.76M164.15 150.41h0.76M164.82 151.38h0.76M163.53 158.64h0.76M165.87 150.43h0.76M148.26 150.44h0.76M159.1 144.03h0.76M161.35 147.88h0.76M161.12 150.4h0.76M150.11 156.49h0.76M168.88 155.61h0.76M157.86 136.78h0.76M158.13 148.82h0.76M151.01 135.4h0.76M158.91 155.96h0.76M160.61 165.26h0.76M143.96 151.54h0.76M155.88 159.18h0.76M155.85 142.14h0.76M155.69 152.14h0.76M151.38 143.44h0.76M157.76 155.27h0.76M154.59 152.51h0.76M152.86 146.6h0.76M157.29 155.94h0.76M166.19 148.15h0.76M158.93 163.07h0.76M161.39 146.48h0.76M158.68 138.89h0.76M142.71 143.6h0.76M151.51 139.48h0.76M162.61 145.81h0.76M156.63 149.56h0.76M154.77 140.67h0.76M168.41 134.91h0.76M155.87 154h0.76M154.79 148.31h0.76M158.06 150.74h0.76M153.94 156.74h0.76M159.31 159.79h0.76M156.68 134.84h0.76M145.57 145.39h0.76M158.99 137.39h0.76M152.5 157.95h0.76M158.22 143.97h0.76M155.39 149.86h0.76M153.42 146.8h0.76M152.06 150.63h0.76M166.16 159.43h0.76M148.19 165.6h0.76M155.35 139.05h0.76M146.64 150.07h0.76M157.57 144.48h0.76M151.01 147.5h0.76M157.75 153.86h0.76M159.64 132.06h0.76M152.33 150.91h0.76M158.47 154.75h0.76M146.67 160.24h0.76M148.54 147.6h0.76M153.16 145.66h0.76M151.19 154.87h0.76M161.09 151.56h0.76M148.05 144.56h0.76M155.75 151.89h0.76M152.6 147.13h0.76M172.72 149.49h0.76M154.22 131.5h0.76M151.35 160.69h0.76M161.46 140.54h0.76M161.09 150.27h0.76M151.08 154.72h0.76M152.26 146.89h0.76M156.24 150.56h0.76M153.35 151.17h0.76M156.13 150.45h0.76M158.57 144.5h0.76M147.47 148.53h0.76M163.9 151.41h0.76M157.54 143.75h0.76M148.9 140.17h0.76M150.32 146.38h0.76M146.38 148.19h0.76M146.2 153.7h0.76M155.95 136.49h0.76M152.66 150.7h0.76M158.51 154.58h0.76M153.9 148h0.76M154.64 152.93h0.76M151.75 147.89h0.76M157.03 146.57h0.76M149.3 158.74h0.76M159.26 142.54h0.76M168.5 143.59h0.76M150.62 146.43h0.76M159.49 159.73h0.76M164.75 152.99h0.76M156.54 153.79h0.76M151.17 144.03h0.76M159.45 150.48h0.76M157.6 141.79h0.76M157.68 138.78h0.76M161.95 149.13h0.76M152.07 145.7h0.76M173.62 171.4h0.76M151.71 158.82h0.76M137.86 157.09h0.76M156.24 150.88h0.76M150.09 139.69h0.76M157.61 145.88h0.76M159.29 156.61h0.76M155.39 152.88h0.76M157.22 150.73h0.76M152.86 150.76h0.76M158.86 149.6h0.76M153.27 138.66h0.76M149.41 160.23h0.76M162.5 151.16h0.76M157.96 147.99h0.76M160.4 155.91h0.76M154.56 151.27h0.76M162.13 137.77h0.76M150.22 144.98h0.76M148.83 145.93h0.76M150.82 146.23h0.76M159.13 140.67h0.76M156.75 158.91h0.76M157.33 140.32h0.76M152.33 157.39h0.76M154.48 144.57h0.76M161.04 143.95h0.76M149.14 153.44h0.76M156.24 144.42h0.76M159.05 156.94h0.76M162.91 149.79h0.76M159 152.6h0.76M146.83 160.94h0.76M151.98 145.07h0.76M150.97 142.17h0.76M163 149.1h0.76M152.51 136h0.76M157.17 148.7h0.76M149.66 148.36h0.76M144.68 153.69h0.76M148.49 152.62h0.76M156.74 133.9h0.76M149.12 144.39h0.76M161.08 153.33h0.76M160.08 161.02h0.76M154.33 145.43h0.76M144.38 141.7h0.76M159.66 143.06h0.76M150.66 155.87h0.76M140.69 159.01h0.76M164.21 136.26h0.76M159.07 149h0.76M161.81 146.65h0.76M155.38 159.14h0.76M152.42 152.05h0.76M160.08 148.25h0.76M161.61 152.77h0.76M161.32 136.91h0.76M149.66 151.17h0.76M163.43 159.3h0.76M156.22 143.75h0.76M149.3 135.17h0.76M153.01 153.21h0.76M155.69 138.53h0.76M155.52 149.43h0.76M151.46 159.47h0.76M158.87 156.93h0.76M156.76 142.12h0.76M162.89 156.97h0.76M152.48 139.57h0.76M161.23 145.03h0.76M148.88 148.48h0.76M159.58 143.71h0.76M156.36 156.18h0.76M160.8 137.95h0.76M160.6 161.76h0.76M161.87 148.46h0.76" stroke="#000" stroke-width="0.76" stroke-opacity="1" fill="none"/>
<path d="M158.38 139.34h0.9M153.79 143.16h0.9M166.57 145.05h0.9M151.93 151.16h0.9M162.51 139.06h0.9M155.64 138.92h0.9M161.59 136.8h0.9M165.5 141.21h0.9M151.6 152.7h0.9M159.18 146.32h0.9M160.72 141.45h0.9M160.8 144.03h0.9M159.11 145.87h0.9M163.25 140.37h0.9M149.94 147.41h0.9M167.94 147.01h0.9M155.81 147.48h0.9M150.82 145.37h0.9M148.56 145.47h0.9M160.08 151.2h0.9M154.2 148.41h0.9M163.04 141.24h0.9M155.29 138.31h0.9M152.41 146.63h0.9M146.89 143.96h0.9M160.07 150.25h0.9M144.64 146.44h0.9M153.66 136.69h0.9M151.74 147.19h0.9M156.51 147.59h0.9M155.16 147.43h0.9M151.94 141.5h0.9M155.83 138.69h0.9M162.52 144.13h0.9M151.91 141.9h0.9M151.98 145.49h0.9M154.85 148.18h0.9M151.09 144.78h0.9M149.39 143.35h0.9M163.09 144.6h0.9M160.86 144.81h0.9M151.38 141.83h0.9M151.22 146.28h0.9M157.72 155.72h0.9M164.57 148.12h0.9M151.93 145.45h0.9M152.26 153.6h0.9M153.14 149.29h0.9M150.14 147.82h0.9M150.74 143.34h0.9M157.41 145.54h0.9M156.31 144.8h0.9M152.48 144.64h0.9M156.26 141.64h0.9M159.31 145.67h0.9M152.98 149.78h0.9M153.86 138.11h0.9M162.63 143.67h0.9M163.59 146.62h0.9M152.34 149.11h0.9M158.79 148.4h0.9M156.79 150.72h0.9M161.03 143.81h0.9M149.39 144.87h0.9M156.92 141.44h0.9M155.67 150.5h0.9M154.33 149.14h0.9M152.12 141.49h0.9M161.06 144.41h0.9M157.63 148.79h0.9M164.37 140.52h0.9M159.37 145.86h0.9M157.27 151.58h0.9M155.42 142.86h0.9M159 137.63h0.9M158.34 141.77h0.9M158.13 142.32h0.9M159.01 144.13h0.9M153.16 147.01h0.9M160.15 139.17h0.9M150.41 144.07h0.9M154.75 149.88h0.9M164.16 146.78h0.9M161.81 143.84h0.9M150.04 146.14h0.9M148.16 150.99h0.9M157.8 149.28h0.9M153.51 139.13h0.9M155.61 146.82h0.9M155.54 143.17h0.9M156.94 144.33h0.9M163.23 140.24h0.9M146 144.68h0.9M157.86 139.42h0.9M156.37 146.64h0.9M158.17 146.14h0.9M152.97 139.74h0.9M161.13 143.75h0.9M150.01 150.71h0.9M160.1 134.75h0.9M168.92 145.56h0.9M148.86 148.53h0.9M158.13 149.58h0.9M156.62 138.94h0.9M155.77 143.46h0.9M157.94 144.35h0.9M159.24 140.56h0.9M153.94 143.13h0.9M158.54 138.77h0.9M156.56 153.76h0.9M147.95 148.81h0.9M157.03 148.65h0.9M156.81 145.98h0.9M158.31 146.71h0.9M150.79 144.54h0.9M165.28 150.22h0.9M152.5 141.56h0.9M155.73 148.91h0.9M160.94 142.87h0.9M145.19 144.85h0.9M148.6 149.41h0.9M163.64 147.48h0.9M159.4 147.09h0.9M165.37 149.01h0.9M163.46 140.81h0.9M154.07 145.01h0.9M145.88 143.97h0.9M156.45 144.78h0.9M168.64 144.27h0.9M155.6 144.58h0.9M154.9 139.82h0.9M161.92 145.1h0.9M158.28 145.15h0.9M152.81 139.17h0.9M155.17 146.97h0.9M155.96 147.7h0.9M152.76 143.94h0.9M157.25 144.65h0.9M157.38 150.28h0.9M154.53 145.51h0.9M153.42 147.01h0.9M157.61 142.32h0.9M151.71 140.62h0.9M155.18 145.58h0.9M154.16 144.6h0.9M157.18 153.63h0.9M162.18 153.52h0.9M157.18 145.81h0.9M165.88 146.41h0.9M159.67 143.16h0.9M153.93 147.87h0.9M153.66 142.59h0.9M149.38 146.1h0.9M156.08 147.02h0.9M152.36 140.46h0.9M161.82 145.1h0.9M160.31 140.8h0.9M150.31 135.74h0.9M157.96 148.65h0.9M162.89 151.51h0.9M147.79 141.01h0.9M153.99 142.11h0.9M155.51 142.08h0.9M149.48 144.86h0.9M157.12 142.19h0.9M156.67 140.24h0.9M154.94 143.78h0.9M154.33 144.73h0.9M150.44 140.09h0.9M152.53 147.7h0.9M151.95 141.58h0.9M166.03 144.07h0.9M154.68 141.76h0.9M163.57 146.94h0.9M157.78 150.85h0.9M150.79 138.83h0.9M161.84 146.6h0.9M154.04 147.93h0.9M156.06 152.18h0.9M150.43 146.32h0.9M161.21 148.26h0.9M154.78 143.55h0.9M154.42 147.54h0.9M154.57 144.5h0.9M161.43 144.6h0.9M157.68 144.55h0.9M156.55 136.85h0.9M152 146.36h0.9M153.43 142.74h0.9M156.76 153.41h0.9M152.86 141.5h0.9M147.88 146.7h0.9M156.23 141.92h0.9M154.53 148.61h0.9M161.4 146.35h0.9M162.05 148.72h0.9M154.29 147.93h0.9M157.26 147.83h0.9M157.84 152.85h0.9M150.46 146.34h0.9M151.29 153.54h0.9M154.01 143.65h0.9M156.4 144.84h0.9M164.71 144.81h0.9M157.7 148.92h0.9M163.76 141.47h0.9M157.96 140.12h0.9M158.87 150.22h0.9M153.98 143.97h0.9M162.22 146.62h0.9M160.37 143.32h0.9M154.98 143.64h0.9M164.04 139.5h0.9M154.01 150.75h0.9M156.16 140.97h0.9M157.63 144.2h0.9M155.91 146.84h0.9M160.3 139.49h0.9M157.46 150.53h0.9M150.04 144.65h0.9M150.91 147.46h0.9M152.42 143.77h0.9M154.5 146.68h0.9M150.2 139.84h0.9M157.4 150.02h0.9M154.06 146.53h0.9M157.77 145.4h0.9M156.39 142.96h0.9M155.31 149.45h0.9M158.63 149.74h0.9M152.99 145.44h0.9M153.4 140.11h0.9M160.81 143.96h0.9M157.65 139.76h0.9M155.27 144.55h0.9M154.62 148.76h0.9M158.69 145.49h0.9M157.59 143.35h0.9M153.07 143.96h0.9M151.58 144.37h0.9M155.94 149.18h0.9M154.39 154h0.9M153.98 145.49h0.9M156.35 142.73h0.9M156.18 138.44h0.9M161.85 142.86h0.9M156.35 138.27h0.9M159.21 140.24h0.9M163 141.12h0.9M152.96 147.46h0.9M162.62 137.65h0.9M148.37 151h0.9M158.6 139.36h0.9M154.38 147.59h0.9M154.61 150.6h0.9M153.05 145.62h0.9M162.02 150.51h0.9M157.62 147.17h0.9M154.86 144.75h0.9M153.72 146.44h0.9M160.52 141.26h0.9M150.88 145.17h0.9M166.07 145.84h0.9M157.1 144.83h0.9M148.44 142.35h0.9M163.7 137.17h0.9M165.08 140.53h0.9M166.25 154.77h0.9M163.65 144.48h0.9M159.3 142.95h0.9M154.31 145.76h0.9M141.38 147.08h0.9M154.96 140.95h0.9M155.13 147.41h0.9M152.77 146.33h0.9M150.01 145.34h0.9M150.94 147.85h0.9M151.47 147.3h0.9M146.92 145.65h0.9M161.73 141.9h0.9M156.72 141.78h0.9M158.76 147.82h0.9M161.97 149.96h0.9M162.7 142.27h0.9M157.02 146.97h0.9M157.37 140.08h0.9M166.16 154.53h0.9M156.75 135.26h0.9M165.2 144.3h0.9M167.31 141.08h0.9M158.98 147.96h0.9M149.57 143.75h0.9M158.81 147.46h0.9M158.32 135.19h0.9M145.02 146.36h0.9M164.11 139.23h0.9M158.34 148.47h0.9M151.77 139.05h0.9M157.74 143.33h0.9M156 144.22h0.9M155.89 146.15h0.9M153.91 144.86h0.9M153.74 141.72h0.9M158.13 141.87h0.9M159.01 144.89h0.9M161.63 147.2h0.9M146.85 144.89h0.9M159.61 145.4h0.9M156.65 149.05h0.9M159.69 139.94h0.9M156.9 148.75h0.9M157.19 140.19h0.9M160.18 147.25h0.9M161.95 145.64h0.9M156.99 148.2h0.9M151.17 151.44h0.9M158.37 145.82h0.9M160.08 147.95h0.9M145.89 148.48h0.9M155.93 142.03h0.9M160.77 148.52h0.9M158.27 142.64h0.9M156.95 141.4h0.9M168.53 142.5h0.9M160.64 151.12h0.9M152.33 142.97h0.9M145.71 144.07h0.9M150.1 145.57h0.9M155.38 145.03h0.9M156.63 143.22h0.9M156.98 144.73h0.9M153 143.8h0.9M153.71 140.12h0.9M156.31 137.97h0.9M158.98 144.86h0.9M157.23 149.34h0.9M161.02 143.33h0.9M158.11 149.47h0.9M155.69 146.41h0.9M158.45 141.08h0.9M157.79 143.51h0.9M155.19 146.62h0.9M159.58 141.59h0.9M155.23 144.24h0.9M151.89 146.38h0.9M155.46 142.32h0.9M160.95 144.67h0.9M150.88 144.63h0.9M155.55 146.09h0.9M167.24 147.05h0.9M163.34 144.33h0.9M158.69 146.85h0.9M155.94 145.91h0.9M154.28 147.59h0.9M152.1 151.43h0.9M138.63 139.77h0.9M155.83 146.36h0.9M157.13 138.89h0.9M158.48 141.66h0.9M157.4 143.4h0.9M155.14 139.26h0.9M150.17 142.89h0.9M151.34 145.91h0.9M149.74 145.81h0.9M159.08 142.17h0.9M151.85 143.68h0.9M160.2 150.22h0.9M166.75 145.31h0.9M159.4 145.71h0.9M156.34 140.95h0.9M154.74 149.19h0.9M163.04 142.7h0.9M148.69 152.09h0.9M156.58 146.69h0.9M155.61 138.19h0.9M157.93 141.34h0.9M155.07 142.63h0.9M155.17 154.02h0.9M163.65 137.62h0.9M149.05 143.08h0.9M153.24 147.91h0.9M163.92 142.23h0.9M159.16 144.19h0.9M146.95 149.41h0.9M164.79 141.89h0.9M159.45 143.04h0.9M155.97 143.25h0.9M155.76 145.15h0.9M153.5 146.02h0.9M150.23 148.05h0.9M151.86 137.98h0.9M160.41 143.69h0.9M153.88 148.43h0.9M156.27 152.32h0.9M158.47 139.59h0.9M154.02 142.46h0.9M155.04 151.33h0.9M169.45 151.44h0.9M158.6 147.05h0.9M157.23 136.65h0.9M163.09 152.48h0.9M153.92 144.88h0.9M153.02 144.21h0.9M152.28 140.72h0.9M162.22 137.65h0.9M161.36 140.67h0.9M155.21 137.41h0.9M159.55 141.21h0.9M168.38 141.47h0.9M157.62 147.48h0.9M151.77 141.86h0.9M151.31 147.09h0.9M157.85 148.81h0.9M149.54 141.48h0.9M155.87 143.3h0.9M157.94 149.23h0.9M157.07 141.98h0.9M156.23 142.26h0.9M153.3 152h0.9M159.68 151.87h0.9M155.42 144.73h0.9M150.37 145.89h0.9M159.92 147.59h0.9M150.86 145.39h0.9M160.85 143.22h0.9M159.81 143.08h0.9M156.42 142.79h0.9M149.33 141.83h0.9M157.26 143.9h0.9M156.39 142.8h0.9M160.67 144.31h0.9M158.32 143.19h0.9M162.69 144.6h0.9M158.52 153.3h0.9M158.5 139.1h0.9M153.24 146.2h0.9M150.13 139.42h0.9M155.86 139.03h0.9M161.65 146.62h0.9M154.93 149.54h0.9M153.18 140.52h0.9M160.78 145.06h0.9M155.35 148.88h0.9M155.79 147.42h0.9M157.49 149.35h0.9M159.08 143.21h0.9M163.66 143.64h0.9M164.76 140.2h0.9M156.7 136.56h0.9M158.94 150.04h0.9M154.56 146.77h0.9M155.38 150.41h0.9M158.07 146.32h0.9M161.71 139.25h0.9M159.77 145.49h0.9M162.67 145.1h0.9M159.36 144.78h0.9M151.74 143.09h0.9M155.59 139.98h0.9M156.24 143.21h0.9M165.19 144.07h0.9M157.06 145.34h0.9M159.79 138.92h0.9M148.11 150.96h0.9M152.46 141.64h0.9M162.07 146.12h0.9M152.61 147.8h0.9M151.04 151.11h0.9M154.96 146.25h0.9M156.43 152.23h0.9M151.88 144.62h0.9M166.73 137.31h0.9M154.13 146.04h0.9M155.44 146.67h0.9M162.02 140.72h0.9M153.36 149.95h0.9M165.81 134.92h0.9M159.06 148.74h0.9M153.24 141.72h0.9M151.07 144.24h0.9M151 147.67h0.9M153.19 146.95h0.9M148.97 148.33h0.9M159.69 148.55h0.9M157.78 153.66h0.9M161.12 145.18h0.9M164.18 143.65h0.9M157.23 151.17h0.9M154.28 144.98h0.9M157.69 145.69h0.9M155.37 148.81h0.9M166.81 143.54h0.9M149.45 143.25h0.9M149.86 140.21h0.9M151.53 149h0.9M157.23 147.67h0.9M155.96 148.84h0.9M154.55 149.91h0.9M160.72 145.83h0.9M149.47 140.86h0.9M157.74 141.08h0.9M155.69 144.39h0.9M163.09 142.43h0.9M157.13 143.26h0.9M152.89 146.65h0.9M161.14 139.63h0.9M163.67 153.4h0.9M157.24 146.96h0.9M151.52 143.48h0.9M157.98 144.67h0.9M163.1 141.69h0.9M155.32 146.99h0.9M156.16 144.08h0.9M155.95 146.52h0.9M147.3 154.77h0.9M160.08 141.04h0.9M152.18 140.75h0.9M158.59 138.02h0.9M168.23 142.94h0.9M149.78 152.75h0.9M156.48 146.87h0.9M155.6 144.04h0.9M166.35 137.6h0.9M157.74 142.22h0.9M154.86 144.77h0.9M147.72 147.33h0.9M157.47 147.1h0.9M153.65 147.8h0.9M154.29 147.91h0.9M162.97 147.35h0.9M149.63 145.28h0.9M151.57 152.31h0.9M157.47 140.22h0.9M149.23 149.97h0.9M151.72 146.55h0.9M154.94 144.46h0.9M154.42 145.04h0.9M164.22 141.72h0.9M158.99 146.81h0.9M153.31 140.91h0.9M152.26 147.17h0.9M157.29 148.86h0.9M158.26 145.45h0.9M156.6 145.88h0.9M156.74 147.52h0.9M152.4 149.03h0.9M164.3 144.68h0.9M159.23 140.6h0.9M157.01 139.64h0.9M161.27 145.19h0.9M161.68 149.23h0.9M153 148.06h0.9M163.92 153.31h0.9M156.03 147.05h0.9M153.48 147.4h0.9M159.39 150.44h0.9M155.81 145.24h0.9M158.91 144.39h0.9M166.42 136.73h0.9M148.33 143.13h0.9M159.85 145.09h0.9M158.54 139.35h0.9M159.38 147.05h0.9M164.37 148.09h0.9M153.58 142.26h0.9M151.11 143.2h0.9M156.05 149.7h0.9M164.45 145.3h0.9M159.39 144.4h0.9M150.33 147h0.9M153.04 139.01h0.9M152.52 150.58h0.9M150.99 150.1h0.9M149.98 144.76h0.9M158.95 143.53h0.9M151.89 145.04h0.9M164.55 147.48h0.9M157.49 147.16h0.9M162.21 149.97h0.9M155.24 141.75h0.9M151.82 145.26h0.9M155.1 145.05h0.9M153.57 154.31h0.9M153.19 150.34h0.9M152.42 142.09h0.9M150.91 140.96h0.9M148.69 141.95h0.9M155.38 147.61h0.9M147.97 146.67h0.9M155.98 145.01h0.9M146.16 146.82h0.9M159.74 149.3h0.9M155.14 149.63h0.9M156.87 141.62h0.9M159.05 148.66h0.9M157.65 144.91h0.9M155.34 147.52h0.9M147.85 146.14h0.9M150.34 143.09h0.9M157.51 149.62h0.9M156.47 141.58h0.9M169.63 146.22h0.9M143.52 144.67h0.9M153 142.78h0.9M161.6 152.95h0.9M157.01 140.04h0.9M160.71 145.37h0.9M154.56 145.78h0.9M150.95 145.75h0.9M158.24 149.45h0.9M166.2 142.69h0.9M158.35 142.09h0.9M157.12 149.31h0.9M159.65 143.93h0.9M165.21 148.34h0.9M162.46 145.33h0.9M162.99 144.48h0.9M160.75 145.18h0.9M156.51 139.27h0.9M161.28 147.17h0.9M153.52 145.27h0.9M159.45 147.4h0.9M146.52 150.56h0.9M151.57 152.1h0.9M162.07 145.55h0.9M157.53 146.08h0.9M154.56 150.67h0.9M153.28 143.05h0.9M155.41 139.13h0.9M161.56 140.64h0.9M163.88 148.55h0.9M166.34 142.82h0.9M155.07 143.35h0.9M160.39 141.7h0.9M154.97 136.41h0.9M156.75 145.81h0.9M166.2 141.91h0.9M161.25 147.16h0.9M160.83 140.91h0.9M139.59 143.23h0.9M161.24 145.67h0.9M163.59 153.09h0.9M153.14 143.5h0.9M164 138.8h0.9M144.3 146.05h0.9M158.15 150.69h0.9M160.12 144.89h0.9M153.76 138.17h0.9M159.1 142.75h0.9M154.67 146.24h0.9" stroke="#000" stroke-width="0.9" stroke-opacity="1" fill="none"/>
<path d="M140.81 163.67h0.7M138.62 164.6h0.7M138.29 144.25h0.7M142.45 161.18h0.7M145.39 138.63h0.7M139.61 158.58h0.7M143.86 160.09h0.7M138.31 163.74h0.7M143.52 150.33h0.7M139.01 156.85h0.7M136.23 157.62h0.7M139.89 158.69h0.7M141.67 138.72h0.7M138.83 145.88h0.7M136.92 133.83h0.7M142.2 130.66h0.7M145.15 147.15h0.7M138.87 129.73h0.7M138.4 140.62h0.7M136.93 136.28h0.7M145.62 167.39h0.7M145.08 167.96h0.7M142.87 168.8h0.7M142.22 141.28h0.7M137.27 153.3h0.7M145.63 167.45h0.7M145.72 142.9h0.7M142.69 170.5h0.7M143.08 163.35h0.7M144.63 148.51h0.7M144.68 138.49h0.7M144.17 142.49h0.7M137.76 161.95h0.7M143.83 152.48h0.7M140.44 133.99h0.7M144.34 153.93h0.7M142.53 161.63h0.7M135.78 160.35h0.7M144.46 127.9h0.7M136 163.82h0.7M138.25 147.45h0.7M145.26 130.56h0.7M140.69 123.97h0.7M144.66 163.61h0.7M140.08 160.26h0.7M137.08 160.95h0.7M143.99 157.12h0.7M135.85 135.76h0.7M142.45 162.22h0.7M140.67 155h0.7M140.28 149.84h0.7M138.49 130.95h0.7M144.64 148.4h0.7M138.87 135.61h0.7M139.04 146.64h0.7M137.15 143.32h0.7M139.18 140.15h0.7M139.34 123.22h0.7M144.79 136h0.7M143.35 167.78h0.7M139.5 138.26h0.7M142.6 167.67h0.7M141.1 153h0.7M136.64 136.47h0.7M140.27 153.33h0.7M139.51 157.53h0.7M144.3 133.28h0.7M141.03 125.99h0.7M138.87 149.61h0.7M144.2 130.54h0.7M143.9 153.7h0.7M144.14 124.27h0.7M140.93 128.16h0.7M143.63 154.56h0.7M137.92 170h0.7M144.91 140.32h0.7M137.77 159.31h0.7M139.06 163.64h0.7M138.42 163.24h0.7M139.21 150.15h0.7M138.81 151.7h0.7M136.12 138.96h0.7M139.21 150.26h0.7M143.92 145.43h0.7M145.5 128.66h0.7M143.2 140.66h0.7M137.73 137.56h0.7M139.43 145.13h0.7M140.64 160.2h0.7M143.82 140.79h0.7" stroke="#000" stroke-width="0.7" stroke-opacity="1" fill="none"/>
<path d="M162.15 149.74h0.7M137.17 161.63h0.7M166.07 151.96h0.7M153.22 165.81h0.7M169.32 148.97h0.7M137.87 145.59h0.7M142.89 143.04h0.7M156.46 130.36h0.7M138.21 144.48h0.7M159.13 146.02h0.7M163.74 170.42h0.7M169.08 136.29h0.7M151.27 148.76h0.7M143.43 167.4h0.7M162.11 168.67h0.7M149.13 144.85h0.7M153.71 124.28h0.7M144.77 152.81h0.7M167.49 122.24h0.7M147.4 145.24h0.7M149.93 132.58h0.7M141.84 135.01h0.7M137.95 133.49h0.7M138.16 164.31h0.7M157.94 144.56h0.7M146.96 153.95h0.7M147.63 162.15h0.7M164.76 131.07h0.7M153.58 137.71h0.7M169.43 131.13h0.7M137.31 130.5h0.7M168.02 150.93h0.7M160.94 144.21h0.7M159.97 141.09h0.7M153.86 152.52h0.7M163 167.48h0.7M157.71 161.5h0.7M141.49 129.48h0.7M167.03 122.35h0.7M151.61 131.52h0.7M154.53 134.6h0.7M166.78 124.28h0.7M164.07 168.22h0.7M149.78 160.49h0.7M156.98 130.61h0.7M153.67 125.52h0.7M146.51 122.81h0.7M142.14 164.59h0.7M153.31 163.56h0.7M151.63 134.85h0.7M152.62 137.6h0.7M169.14 120.84h0.7M142.74 130.31h0.7M153.28 139.01h0.7M140.12 150.42h0.7M166 147.13h0.7M147.5 144.71h0.7M144.37 121.22h0.7M146.33 138.7h0.7M162.39 140.08h0.7M165.72 125.1h0.7M146.66 128.09h0.7M162.8 127.56h0.7M155.14 145.02h0.7M160.96 146.07h0.7M145.8 167.84h0.7M152.44 127.44h0.7M154.51 145.47h0.7M139.25 121.09h0.7M152.88 155.92h0.7" stroke="#000" stroke-width="0.7" stroke-opacity="1" fill="none"/>
<path d="M151.34 131.04h0.84M154.64 132.65h0.84M156.38 123.7h0.84M158.58 125.91h0.84M154.6 127.81h0.84M150.14 131.3h0.84M155.58 124.14h0.84M149.86 128.99h0.84M159.58 128.81h0.84M156.19 126.13h0.84M159.13 129.26h0.84M152 125.5h0.84M146.9 131.25h0.84M166.26 127.11h0.84M156.65 129.98h0.84M154.2 134.45h0.84M151.21 124.77h0.84M161.09 130.47h0.84M157.85 127.16h0.84M154.84 127.97h0.84M156.62 125.54h0.84M158.92 133.16h0.84M153.03 124.41h0.84M155.48 135.49h0.84M151.4 131.88h0.84M152.48 125.06h0.84M159.09 126.95h0.84M154.85 129.79h0.84M159.27 128.27h0.84M160.86 125.32h0.84M153.05 129.73h0.84M157.46 121.89h0.84M153.84 129.74h0.84M154.42 133.33h0.84M149.07 128.17h0.84M151.83 122.35h0.84M154.13 127.31h0.84M153.44 125.47h0.84M158.24 124.14h0.84M152.68 122.99h0.84M159.39 122.76h0.84M161.49 124.54h0.84M154.83 132.79h0.84M151.01 131.79h0.84M150.11 126.03h0.84M157.11 128.62h0.84M156.26 128.55h0.84M160.92 122.32h0.84M152.41 130.35h0.84M149.48 125.29h0.84M164.21 131.88h0.84M156.93 127.8h0.84M154.39 124.68h0.84M151.72 124.36h0.84M150.2 127.97h0.84M156.61 124.5h0.84M155.52 123.25h0.84M156.42 126.5h0.84M154.75 128.17h0.84M159.92 128.22h0.84M152.55 128.06h0.84M156.5 129.27h0.84M158.97 124.9h0.84M150.51 129.57h0.84M150.75 129.01h0.84M165.28 131.58h0.84M149.47 124.89h0.84M156.49 126.63h0.84M157.65 128.34h0.84M156.26 129.35h0.84M149.1 131.25h0.84M149.65 124.7h0.84M145.89 127.56h0.84M156.53 126.34h0.84M150.49 120.51h0.84M157.13 123.82h0.84M153.62 128.34h0.84M154.76 128.88h0.84M161.28 129.86h0.84M151.18 127.42h0.84M154.14 124.78h0.84M157.49 126.31h0.84M155.9 129.64h0.84M162.96 125.59h0.84M157.75 134.52h0.84M161.05 128.54h0.84M152.23 128.09h0.84M152.65 126.21h0.84M148.47 126.64h0.84M147.41 130.77h0.84M157 126.25h0.84M155.15 127.96h0.84M154.05 128.51h0.84M154.34 129.04h0.84M151.93 127.79h0.84M161.39 124.95h0.84M151.96 130.63h0.84M156.23 128.08h0.84M155.72 126.26h0.84M153.01 129.24h0.84M155.69 129.67h0.84M156.73 134.82h0.84M155.35 132.13h0.84M155.6 134.88h0.84M158.76 125.14h0.84M161.05 125.76h0.84M158.88 125.15h0.84M156.4 128.1h0.84M160.46 120.64h0.84M147.71 130.78h0.84M157.89 125.96h0.84M155.4 121.95h0.84M153.58 125.48h0.84M158.4 128.42h0.84M154.43 131.36h0.84M152.55 130.08h0.84M154.15 129.1h0.84M153.91 132.16h0.84M153.37 134.15h0.84M158.07 124.93h0.84M153.34 131.97h0.84M160.64 123.71h0.84M155.67 129.65h0.84M164.12 129.8h0.84M154.27 130.64h0.84M155.34 124.86h0.84M154.87 126.92h0.84M154.22 127.92h0.84M156.4 125.13h0.84M157.62 122.55h0.84M157.59 129.23h0.84M156.65 122.82h0.84M153.13 128.32h0.84M156.82 130.08h0.84M149.19 127.73h0.84M159.17 123.9h0.84M150.39 126.16h0.84M154.01 126.82h0.84M159.83 128.58h0.84M147.74 130.22h0.84M155.41 130.44h0.84M154.93 132.16h0.84M155.59 126.11h0.84M150.45 130.68h0.84M154.51 122.03h0.84M158.27 131.89h0.84M147.04 129.53h0.84M157.55 133.26h0.84M159.73 125.29h0.84M156.79 130.08h0.84M149.4 132.36h0.84M156.94 130.42h0.84M151.65 130.39h0.84M154.86 126.71h0.84M155.17 128.82h0.84M149.23 127.71h0.84M156.44 122.48h0.84M161.55 136.02h0.84M157.62 127.71h0.84M151.07 124.14h0.84M150.33 130.58h0.84M151.69 128.33h0.84M153.35 130.62h0.84M159.92 130.69h0.84M157.58 131.17h0.84M161.58 124.92h0.84M156.06 125.63h0.84M155.22 127.02h0.84M155.48 130.04h0.84M150.05 119.34h0.84M156.08 131.16h0.84M153.52 132.5h0.84M163.69 127.96h0.84M154.22 129.41h0.84M157.97 122.91h0.84M156.95 121.11h0.84M150.94 128.47h0.84M156.23 123.9h0.84M155.21 131.91h0.84M148.73 129.57h0.84M159.91 123.4h0.84M159.61 129.2h0.84M153.84 127.82h0.84M154.89 127.87h0.84M154.25 125.37h0.84M158.51 133.26h0.84M154.29 132.34h0.84M152.07 123.62h0.84M157.47 128.54h0.84M156.77 124.65h0.84M153.51 131.05h0.84M161.15 128.59h0.84M156.5 119.24h0.84M152.54 131.99h0.84M162.34 125.09h0.84M145.31 129.4h0.84M150.03 126.4h0.84M152.71 126.56h0.84M151.32 129.88h0.84M156.17 123.5h0.84M148.96 134.51h0.84M157.2 128.45h0.84M148.52 134.76h0.84M151.04 128.17h0.84M156.29 125.42h0.84M155.49 126.29h0.84M147.12 123.28h0.84M152.62 126.05h0.84M156.67 133.13h0.84M154.09 134.84h0.84M153.34 128.13h0.84M154.14 122.3h0.84M154.73 127.1h0.84M151.81 130.2h0.84M156.53 126.77h0.84M151.63 128.75h0.84M151.91 125.01h0.84M153.08 130.84h0.84M153.89 127.25h0.84M153.7 129.71h0.84M154.36 130.46h0.84M154.38 130.52h0.84M153.83 125.36h0.84M156.54 127.12h0.84M153.22 132.45h0.84M153.06 125.25h0.84M153.67 132.45h0.84M149.84 131.56h0.84M156.92 126.5h0.84M153.66 125.43h0.84M147.21 124.78h0.84M149.59 122.6h0.84M153.25 129.71h0.84M151.35 126.72h0.84M151.98 127.13h0.84M156.43 131.73h0.84M157.2 129h0.84M160.16 130.13h0.84M156.75 129.64h0.84M158.02 124.46h0.84M151.51 128.09h0.84M148.11 126.92h0.84M153.61 128.84h0.84M157.51 132.05h0.84M145.86 128.5h0.84M156.16 132.48h0.84M152.5 129.16h0.84M154.28 124.75h0.84M155.79 130.94h0.84M153.5 128.11h0.84M159.02 127.2h0.84M153.64 128.77h0.84M156.53 129.13h0.84M159.55 129.25h0.84M150.28 122.54h0.84M154.47 133.26h0.84M154.98 126.4h0.84M155.87 129.53h0.84M159.56 123.65h0.84M157.75 128.42h0.84M157.95 131.33h0.84M146.34 130.81h0.84M156.71 125.26h0.84M154.34 131.24h0.84M149.09 130.68h0.84M157.84 133.51h0.84M151.61 125.81h0.84M158.62 126.9h0.84M156.36 119.34h0.84M163.91 121.77h0.84M148.54 129.44h0.84M156.7 125.18h0.84M146.39 129.59h0.84M155.67 124.82h0.84M155.3 125.93h0.84M150.91 130.09h0.84M154.8 127.94h0.84M150.07 125.51h0.84M153.73 125.86h0.84M156.1 127.92h0.84M153.94 127.26h0.84M156.34 131.11h0.84M150.67 130.92h0.84M158.21 130.38h0.84M152.67 128.49h0.84M162.8 123.48h0.84M157.97 126.96h0.84M161.11 128.26h0.84M158.01 125.78h0.84M152.89 133.04h0.84M149.94 126.1h0.84M153.82 123.73h0.84M157.17 123.81h0.84M154.96 127.03h0.84M146.39 128.3h0.84M148.88 127.9h0.84M145.9 126.06h0.84M157.89 128.7h0.84M159.05 133.1h0.84M157.58 127.17h0.84M154.33 129.85h0.84M150.04 124.41h0.84M154.74 133.49h0.84M150.52 128.62h0.84M152.08 130.15h0.84M156.11 127.69h0.84M158.23 126.97h0.84M148.43 134.66h0.84M154.35 128.81h0.84M157.76 125.14h0.84M152.99 125.34h0.84M156.97 129.11h0.84M155.53 123.54h0.84M151.64 123.07h0.84M149.57 125.38h0.84M155.89 129.41h0.84M147.92 129.86h0.84M156.14 132.98h0.84M158.03 122.88h0.84M156.63 128.56h0.84M156.01 125.4h0.84M160.24 128.11h0.84M152.56 121.87h0.84M153.8 123.29h0.84M149.15 133.13h0.84M154.52 130.99h0.84M159.01 130.2h0.84M153.14 123.94h0.84M154.15 128.19h0.84M154.22 126.79h0.84M155.31 123.07h0.84M158.81 123.92h0.84M155.23 124.91h0.84M159.95 125.95h0.84M151.24 126.56h0.84M158.13 123.73h0.84M149.8 126.04h0.84M157.67 118.13h0.84M158.31 135.21h0.84M154.1 130.84h0.84M154.28 121.67h0.84M153.13 129.8h0.84M150.51 126.8h0.84M152.24 129.06h0.84M164.25 128.04h0.84M149.81 133.25h0.84M153.65 126.4h0.84M156.68 130.29h0.84M155.62 128.92h0.84M155.46 123.79h0.84M157.77 130.65h0.84M151.77 121.99h0.84M152.47 128.37h0.84M160.19 128.5h0.84M142.28 125.72h0.84M155.02 128.56h0.84M148.95 126.58h0.84M155.31 130.06h0.84M157.91 133.22h0.84M152.14 126.34h0.84M153.05 129.4h0.84M162.47 128.37h0.84M155.4 124.73h0.84M149.86 133.64h0.84M154.45 132.46h0.84M157.94 126.13h0.84M155.74 124.77h0.84M157.22 127.27h0.84M157.81 131.9h0.84M152.52 130.42h0.84M156.47 126.02h0.84M155.85 131.88h0.84M155.42 130.99h0.84M156.12 131.95h0.84M154.29 126.67h0.84M157.23 120.18h0.84M152.81 132.84h0.84M151.93 133.9h0.84M161.02 126.12h0.84M151.89 129.07h0.84M158.3 133.56h0.84M160.71 125.42h0.84M158.14 126.08h0.84M158.97 129.31h0.84M160.38 127.47h0.84M158.01 123.54h0.84M151.07 129.45h0.84M155.21 130.68h0.84M163.73 125.69h0.84M150.24 124.24h0.84M152.42 131.61h0.84M156.3 126.76h0.84M157.44 127.2h0.84M155.83 127.69h0.84M149.58 130.46h0.84M155.53 135.15h0.84M155.22 125.76h0.84M155.53 125.33h0.84M154.7 126.51h0.84M156.14 124.68h0.84M154.42 126.37h0.84M151.05 127.5h0.84M157.54 130.17h0.84M156.06 127.35h0.84M158.55 126.8h0.84M157.47 121.97h0.84M150.19 125.3h0.84M159.26 126.85h0.84M156.64 124.07h0.84M148.99 137.07h0.84M161.28 133.59h0.84M154.9 125.51h0.84M155.87 126.91h0.84M153.05 119.46h0.84M155.74 120.36h0.84M152.88 122.61h0.84M162.65 123.44h0.84M153.33 128.96h0.84M153.64 128.53h0.84M158.5 125.59h0.84" stroke="#000" stroke-width="0.84" stroke-opacity="1" fill="none"/>
<path d="M155.86 126.72h0.76M145.13 128.45h0.76M146.53 131.58h0.76M152.87 127.98h0.76M158.68 123.78h0.76M148.17 133.24h0.76M157.07 129.05h0.76M141.17 127.34h0.76M147.28 124.72h0.76M143.24 120.38h0.76M150.28 128.82h0.76M149.87 126.49h0.76M153.31 132.86h0.76M149.43 127.77h0.76M169.07 127.11h0.76M157.69 122.25h0.76M146.62 125.35h0.76M170.98 124.6h0.76M161.2 125.12h0.76M145.47 119.37h0.76M153.83 131.64h0.76M148.17 125.53h0.76M146.3 124.16h0.76M158.93 124.95h0.76M146.67 129.77h0.76M154.46 127.02h0.76M165.12 128.46h0.76M159.78 122.02h0.76M152.48 132.51h0.76M157.37 131.03h0.76M144.09 126.03h0.76M162.92 133.32h0.76M161.08 130.54h0.76M153.46 130.54h0.76M160.27 123.13h0.76M159.26 130.52h0.76M149.81 133.85h0.76M160.58 130.94h0.76M150.14 128.37h0.76M152.77 134.17h0.76M167.72 123.6h0.76M165.04 129.04h0.76M148.84 124.15h0.76M162.25 128.53h0.76M148.92 126.38h0.76M150.61 126.65h0.76M163.9 124.32h0.76M156.01 131.14h0.76M165.45 124.58h0.76M151.15 125.5h0.76M145.39 127.17h0.76M148.2 126.23h0.76M153.9 130.34h0.76M153.32 137.25h0.76M154.99 129.37h0.76M156.13 126.77h0.76M158.86 127.82h0.76M144.76 124.96h0.76M162.02 120.43h0.76M163.74 127.65h0.76M154.57 132.39h0.76M154.37 125.18h0.76M139.61 124.57h0.76M145.79 130.09h0.76M153.6 123.21h0.76M160.17 130.87h0.76M166.62 128.28h0.76M145.43 127.59h0.76M157.66 130.87h0.76M144.89 129.15h0.76M157.12 128.81h0.76M143.02 125.23h0.76M152.27 126.21h0.76M158.6 125.53h0.76M141.7 118.26h0.76M155.93 123.77h0.76M152.74 131.76h0.76M149.78 127h0.76M144.12 122.09h0.76M156.61 131.99h0.76M148.97 126.34h0.76M155.03 125.3h0.76M153.45 125.46h0.76M156.69 124.97h0.76M150.08 121.42h0.76M148.25 120.9h0.76M152.14 131.27h0.76M145.08 123.54h0.76M148.28 129.03h0.76M151.13 125.75h0.76M147.12 125.99h0.76M150.84 123.74h0.76M161.7 129.14h0.76M152.02 128.39h0.76M167.13 129.65h0.76M149.71 126.96h0.76M160.06 129h0.76M151.31 127.49h0.76M146.11 125.74h0.76M150.48 126.07h0.76M161.38 127.21h0.76M160.16 127.06h0.76M143.75 132.13h0.76M149.67 126.59h0.76M159.8 132.87h0.76M153.99 132.34h0.76M149.96 129.75h0.76M147.41 131.13h0.76M149.53 129.78h0.76M145.62 133.03h0.76M163.04 125.99h0.76M153.41 123.09h0.76M151.8 121.08h0.76M157.44 126.77h0.76M160.19 127.06h0.76M151.6 123.63h0.76M156.93 126.54h0.76M145.66 120.91h0.76M158.9 126.63h0.76M152.59 124.79h0.76M149.76 127h0.76M154.22 122.12h0.76M168.25 130.83h0.76M141.24 127.33h0.76M159.94 124.37h0.76M144.61 129.27h0.76M149.2 127.03h0.76M163.2 127.06h0.76M161.22 123.82h0.76M141.78 125.45h0.76M150.62 129.83h0.76M155.74 118.89h0.76M146.13 125.24h0.76M148.53 124.38h0.76M150.97 127.69h0.76M143.76 123.22h0.76M147.39 131.97h0.76M151.95 120.94h0.76M156 130.86h0.76M143.08 122.03h0.76M155.77 127.25h0.76M156.76 133.63h0.76M157.1 131.13h0.76M150.02 132.82h0.76M148.71 128.42h0.76M140.59 125.35h0.76M157.84 123.25h0.76M150.12 118.13h0.76M150.88 121.64h0.76M153.37 125.05h0.76M148.79 125.65h0.76M150.46 127.01h0.76M151.38 131.7h0.76M159.53 116.72h0.76M161.27 126.13h0.76M155.19 123.3h0.76M156.73 129.36h0.76M149.55 122.4h0.76M156.18 128.82h0.76M147.45 118.24h0.76M146.18 128.64h0.76M160.82 123h0.76M149.53 122.56h0.76M155.18 123.76h0.76M163.33 129.4h0.76M151.81 125.34h0.76M159.23 125.37h0.76M150.66 127.43h0.76M159.49 132.82h0.76M150.92 121.99h0.76M147.47 126.3h0.76M156.97 116.26h0.76M157.01 128.64h0.76M154.29 120.94h0.76M153.65 124.88h0.76M147.31 129.44h0.76M160.69 127.74h0.76M156.6 131.05h0.76M153.28 125.26h0.76M162.19 124.44h0.76M151.25 128.35h0.76M150.55 123.08h0.76M159.76 126.89h0.76M148.88 124.62h0.76M156.69 130.29h0.76M154.35 131.66h0.76M153.05 133.43h0.76M158.64 122.3h0.76M152.57 128.3h0.76M153.04 122.96h0.76M156.01 126.7h0.76M144.13 121.76h0.76M150.8 130.72h0.76M152.94 127.72h0.76M158.9 126.05h0.76M153.26 126.66h0.76M158.65 124.3h0.76" stroke="#000" stroke-width="0.76" stroke-opacity="1" fill="none"/>
<path d="M170.46 124.14h0.76M169.41 128.76h0.76M166.34 127.19h0.76M169.38 126.54h0.76M170.95 126.17h0.76M170.86 130.55h0.76M166.71 123.24h0.76M171.73 126.96h0.76M176.08 124.4h0.76M171.65 124.59h0.76M167.43 124.47h0.76M166.3 123.59h0.76M168.01 125.57h0.76M169.32 128.02h0.76M166 125.75h0.76M166.1 128.07h0.76M165.96 125.09h0.76M166.41 128.68h0.76M164.94 123.09h0.76M167.78 125.08h0.76M165.94 128.82h0.76M167.23 120.71h0.76M168.44 122.65h0.76M166.87 124.73h0.76M166.02 124.92h0.76M167.76 127.53h0.76M177.82 124.22h0.76M167.55 128.82h0.76M174.98 127.94h0.76M168.24 130.85h0.76M169.43 128.98h0.76M167.27 122.87h0.76M173.74 123.74h0.76M165.55 126.32h0.76M165.94 127.67h0.76M169.39 125.46h0.76M167.2 129.65h0.76M173.86 128.83h0.76M164.63 130.14h0.76M169.49 130.29h0.76M170.96 124.27h0.76M163.45 124.29h0.76M173.27 124.84h0.76M174.78 122.75h0.76M171.33 125.69h0.76M164.35 126.94h0.76M167.75 125.25h0.76M161.99 123.45h0.76M166.86 125.6h0.76M166.28 131.12h0.76M167.72 126.51h0.76M168.01 129.18h0.76M171.09 128.5h0.76M163.86 126.38h0.76M168.61 127.59h0.76M166.83 126.34h0.76M165.74 125.08h0.76M170.33 124.71h0.76M166.22 125.63h0.76M170.22 127.03h0.76M165.05 124.9h0.76M165.11 123.44h0.76M177.25 129.04h0.76M171.51 125.26h0.76M172.03 129.89h0.76M173.32 127.81h0.76M165.71 132.02h0.76M171.7 128.17h0.76M170.29 126.93h0.76M167.71 121.7h0.76M175.19 132.54h0.76M170.72 127.69h0.76M169.02 127.91h0.76M168.56 125.78h0.76M171.22 121.68h0.76M173.87 125.01h0.76M170.94 127.53h0.76M174.54 130.25h0.76M164.62 123.57h0.76M169.63 121.86h0.76M171.18 125.69h0.76M166.37 128.12h0.76M165.84 124.11h0.76M169 128.17h0.76M168.36 125.12h0.76M169.7 125.05h0.76M162.66 128.31h0.76M170.68 128.77h0.76M169.44 127.18h0.76M163.28 122.54h0.76M162.39 128.96h0.76M166.61 129.36h0.76M170.49 124.85h0.76M168.65 123.98h0.76M167.45 126.84h0.76M171.31 124.76h0.76M163.55 128.86h0.76M165.17 127.8h0.76M163.74 123.69h0.76M162.1 127.64h0.76M170.48 133.83h0.76M175.4 126.32h0.76M161.89 125.42h0.76M169.82 126.91h0.76M169.47 123.44h0.76M167.87 130.77h0.76M167.05 125h0.76M164.81 124.42h0.76M173.06 126.92h0.76M167.16 125.07h0.76M171.72 124.55h0.76M166.16 125.2h0.76M160.09 128.87h0.76M166.11 127.9h0.76M168.86 128.55h0.76M167.06 132.22h0.76M170.8 125.45h0.76M169.97 120.75h0.76M164.97 120.81h0.76M167.96 131.48h0.76M170.06 122.3h0.76M163.54 126.94h0.76M171.06 125.47h0.76M173.91 126.61h0.76M175.87 128.12h0.76M176.02 119.3h0.76M171.5 127.96h0.76M174.03 127.5h0.76M170.27 126.8h0.76M169.58 127.42h0.76M174.44 121.93h0.76M167.34 122.31h0.76M166.85 126.7h0.76M169.51 126.97h0.76M171.41 127.09h0.76M167.73 125.69h0.76M165.2 124.87h0.76M168.52 126.95h0.76M163.39 128.79h0.76M168.61 122.08h0.76M168.31 127.45h0.76M169.19 124.95h0.76M165.79 126.56h0.76M169.4 126.75h0.76M167.52 129.08h0.76M162.58 125.98h0.76M163.21 121.09h0.76M169.46 128.1h0.76M167.84 127.12h0.76M168.21 128.89h0.76M166.78 127.34h0.76M169.97 122.02h0.76M172.87 124.52h0.76M164.9 124.34h0.76M171.78 124.97h0.76M171.51 123.63h0.76M169.71 121.65h0.76M167.82 129.25h0.76M167 126.44h0.76M162.56 130.16h0.76M168.03 127.13h0.76M167.47 123.39h0.76M167.59 125.17h0.76M165.23 125.59h0.76M165.43 124.75h0.76M159.05 123.54h0.76M169.87 126.54h0.76M167.97 127.02h0.76M174.69 126.87h0.76M169.19 125.77h0.76" stroke="#000" stroke-width="0.76" stroke-opacity="1" fill="none"/>
<rect x="144.5" y="119.5" width="16.5" height="16" fill="none" stroke="#d43a3f" stroke-width="1.3" rx="1.5"/>
<rect x="162.5" y="119.5" width="20" height="13.5" fill="none" stroke="#d43a3f" stroke-width="1.3" rx="1.5"/>
<line x1="174" y1="133" x2="174" y2="199.5" stroke="#d43a3f" stroke-width="1.7"/>
<polygon points="170,199 178,199 174,205.5" fill="#d43a3f" stroke="none" stroke-width="1"/>
<text x="61.7" y="113.9" font-size="7.2" font-family='"Liberation Serif", serif' font-weight="bold" text-anchor="start" fill="#000" textLength="10.1" lengthAdjust="spacingAndGlyphs">LK</text>
<text x="78.4" y="113.9" font-size="7.2" font-family='"Liberation Serif", serif' font-weight="bold" text-anchor="start" fill="#000" textLength="13.9" lengthAdjust="spacingAndGlyphs">LSK</text>
<text x="147.5" y="113.9" font-size="7.2" font-family='"Liberation Serif", serif' font-weight="bold" text-anchor="start" fill="#000" textLength="10.1" lengthAdjust="spacingAndGlyphs">LK</text>
<text x="165.5" y="113.9" font-size="7.2" font-family='"Liberation Serif", serif' font-weight="bold" text-anchor="start" fill="#000" textLength="13.7" lengthAdjust="spacingAndGlyphs">LSK</text>
<text x="0" y="0" font-size="10" font-family='"Liberation Serif", serif' text-anchor="middle" fill="#000" transform="translate(34,143.5) rotate(-90)" textLength="19.5" lengthAdjust="spacingAndGlyphs">c-Kit</text>
<text x="65.5" y="192.2" font-size="10.3" font-family='"Liberation Serif", serif' text-anchor="start" fill="#000" textLength="21" lengthAdjust="spacingAndGlyphs">Sca-1</text>
<text x="150.5" y="192.2" font-size="10.3" font-family='"Liberation Serif", serif' text-anchor="start" fill="#000" textLength="21" lengthAdjust="spacingAndGlyphs">Sca-1</text>
<text x="252.25" y="94.5" font-size="9.5" font-family='"Liberation Serif", serif' font-weight="bold" text-anchor="middle" fill="#000">HOXA9</text>
<line x1="231" y1="174" x2="231" y2="105" stroke="#c8c8c8" stroke-width="0.8"/>
<line x1="231" y1="174" x2="292" y2="174" stroke="#c8c8c8" stroke-width="0.8"/>
<text x="229" y="176.6" font-size="7.6" font-family='"Liberation Serif", serif' text-anchor="end" fill="#000">0</text>
<text x="229" y="162.8" font-size="7.6" font-family='"Liberation Serif", serif' text-anchor="end" fill="#000">4</text>
<text x="229" y="149" font-size="7.6" font-family='"Liberation Serif", serif' text-anchor="end" fill="#000">8</text>
<text x="229" y="135.2" font-size="7.6" font-family='"Liberation Serif", serif' text-anchor="end" fill="#000">12</text>
<text x="229" y="121.4" font-size="7.6" font-family='"Liberation Serif", serif' text-anchor="end" fill="#000">16</text>
<text x="229" y="107.6" font-size="7.6" font-family='"Liberation Serif", serif' text-anchor="end" fill="#000">20</text>
<rect x="234" y="151" width="10.5" height="23" fill="#4a6cb6"/>
<line x1="239.25" y1="148" x2="239.25" y2="154" stroke="#111" stroke-width="0.8"/>
<line x1="237.65" y1="148" x2="240.85" y2="148" stroke="#111" stroke-width="0.8"/>
<line x1="237.65" y1="154" x2="240.85" y2="154" stroke="#111" stroke-width="0.8"/>
<rect x="247" y="132" width="10.5" height="42" fill="#d8262c"/>
<line x1="252.25" y1="127.5" x2="252.25" y2="136.5" stroke="#111" stroke-width="0.8"/>
<line x1="250.65" y1="127.5" x2="253.85" y2="127.5" stroke="#111" stroke-width="0.8"/>
<line x1="250.65" y1="136.5" x2="253.85" y2="136.5" stroke="#111" stroke-width="0.8"/>
<rect x="267" y="169" width="10.5" height="5" fill="#4a6cb6"/>
<line x1="272.25" y1="167" x2="272.25" y2="171" stroke="#111" stroke-width="0.8"/>
<line x1="270.65" y1="167" x2="273.85" y2="167" stroke="#111" stroke-width="0.8"/>
<line x1="270.65" y1="171" x2="273.85" y2="171" stroke="#111" stroke-width="0.8"/>
<rect x="280" y="154" width="10.5" height="20" fill="#d8262c"/>
<line x1="285.25" y1="150.5" x2="285.25" y2="157.5" stroke="#111" stroke-width="0.8"/>
<line x1="283.65" y1="150.5" x2="286.85" y2="150.5" stroke="#111" stroke-width="0.8"/>
<line x1="283.65" y1="157.5" x2="286.85" y2="157.5" stroke="#111" stroke-width="0.8"/>
<polyline points="239.25,143 239.25,114 252.25,114 252.25,126" fill="none" stroke="#5a5a5a" stroke-width="0.9"/>
<text x="245.7" y="116.6" font-size="11.8" font-family='"Liberation Serif", serif' text-anchor="middle" fill="#1a1a1a" stroke="#1a1a1a" stroke-width="0.3">*</text>
<polyline points="272.25,165 272.25,144.5 285.25,144.5 285.25,149" fill="none" stroke="#5a5a5a" stroke-width="0.9"/>
<text x="278.7" y="147.1" font-size="11.8" font-family='"Liberation Serif", serif' text-anchor="middle" fill="#1a1a1a" stroke="#1a1a1a" stroke-width="0.3">*</text>
<text x="0" y="0" font-size="10" font-family='"Liberation Serif", serif' font-weight="bold" text-anchor="middle" fill="#000" transform="translate(215.3,143) rotate(-90)">% of GFP<tspan font-size="6" dy="-3.5">+</tspan></text>
<text x="0" y="0" font-size="10" font-family='"Liberation Serif", serif' font-weight="bold" text-anchor="start" fill="#000" transform="translate(242,183) rotate(42)">LK</text>
<text x="0" y="0" font-size="10" font-family='"Liberation Serif", serif' font-weight="bold" text-anchor="start" fill="#000" transform="translate(273,182) rotate(42)">LSK</text>
<text x="347.75" y="94.5" font-size="9.5" font-family='"Liberation Serif", serif' font-weight="bold" text-anchor="middle" fill="#000">NUP98-HOXA9</text>
<line x1="314" y1="172.5" x2="314" y2="101" stroke="#c8c8c8" stroke-width="0.8"/>
<line x1="314" y1="172.5" x2="378" y2="172.5" stroke="#c8c8c8" stroke-width="0.8"/>
<text x="312" y="175.1" font-size="7.6" font-family='"Liberation Serif", serif' text-anchor="end" fill="#000">0</text>
<text x="312" y="160.8" font-size="7.6" font-family='"Liberation Serif", serif' text-anchor="end" fill="#000">4</text>
<text x="312" y="146.5" font-size="7.6" font-family='"Liberation Serif", serif' text-anchor="end" fill="#000">8</text>
<text x="312" y="132.2" font-size="7.6" font-family='"Liberation Serif", serif' text-anchor="end" fill="#000">12</text>
<text x="312" y="117.9" font-size="7.6" font-family='"Liberation Serif", serif' text-anchor="end" fill="#000">16</text>
<text x="312" y="103.6" font-size="7.6" font-family='"Liberation Serif", serif' text-anchor="end" fill="#000">20</text>
<rect x="318" y="140" width="11.5" height="32.5" fill="#4a6cb6"/>
<line x1="323.75" y1="136" x2="323.75" y2="144" stroke="#111" stroke-width="0.8"/>
<line x1="322.15" y1="136" x2="325.35" y2="136" stroke="#111" stroke-width="0.8"/>
<line x1="322.15" y1="144" x2="325.35" y2="144" stroke="#111" stroke-width="0.8"/>
<rect x="331" y="120" width="11.5" height="52.5" fill="#d8262c"/>
<line x1="336.75" y1="113" x2="336.75" y2="127" stroke="#111" stroke-width="0.8"/>
<line x1="335.15" y1="113" x2="338.35" y2="113" stroke="#111" stroke-width="0.8"/>
<line x1="335.15" y1="127" x2="338.35" y2="127" stroke="#111" stroke-width="0.8"/>
<rect x="351" y="169.5" width="11.5" height="3" fill="#4a6cb6"/>
<line x1="356.75" y1="168.5" x2="356.75" y2="170.5" stroke="#111" stroke-width="0.8"/>
<line x1="355.15" y1="168.5" x2="358.35" y2="168.5" stroke="#111" stroke-width="0.8"/>
<line x1="355.15" y1="170.5" x2="358.35" y2="170.5" stroke="#111" stroke-width="0.8"/>
<rect x="365" y="165.5" width="11" height="7" fill="#d8262c"/>
<line x1="370.5" y1="163" x2="370.5" y2="168" stroke="#111" stroke-width="0.8"/>
<line x1="368.9" y1="163" x2="372.1" y2="163" stroke="#111" stroke-width="0.8"/>
<line x1="368.9" y1="168" x2="372.1" y2="168" stroke="#111" stroke-width="0.8"/>
<polyline points="323.75,136 323.75,101 336.75,101 336.75,109" fill="none" stroke="#5a5a5a" stroke-width="0.9"/>
<text x="329.7" y="104.1" font-size="11.8" font-family='"Liberation Serif", serif' text-anchor="middle" fill="#1a1a1a" stroke="#1a1a1a" stroke-width="0.3">*</text>
<polyline points="356.75,166 356.75,152.5 370.5,152.5 370.5,161" fill="none" stroke="#5a5a5a" stroke-width="0.9"/>
<text x="363.7" y="155.6" font-size="11.8" font-family='"Liberation Serif", serif' text-anchor="middle" fill="#1a1a1a" stroke="#1a1a1a" stroke-width="0.3">*</text>
<text x="0" y="0" font-size="10" font-family='"Liberation Serif", serif' font-weight="bold" text-anchor="start" fill="#000" transform="translate(326,181) rotate(42)">LK</text>
<text x="0" y="0" font-size="10" font-family='"Liberation Serif", serif' font-weight="bold" text-anchor="start" fill="#000" transform="translate(358,181) rotate(42)">LSK</text>
<rect x="384" y="126.5" width="6" height="6" fill="#4a6cb6"/>
<text x="393" y="132.5" font-size="9.5" font-family='"Liberation Serif", serif' text-anchor="start" fill="#000">Wt</text>
<rect x="384" y="138.5" width="6" height="6" fill="#d8262c"/>
<text x="393" y="144.5" font-size="9.5" font-family='"Liberation Serif", serif' text-anchor="start" fill="#000">Smad4<tspan font-size="5.7" dy="-3.32">-/-</tspan></text>
<rect x="45.2" y="224.5" width="59.1" height="58.9" fill="none" stroke="#9a9a9a" stroke-width="1"/>
<text x="42.7" y="234.5" font-size="4.6" font-family='"Liberation Sans", sans-serif' text-anchor="end" fill="#333">10<tspan font-size="3" dy="-2">5</tspan></text>
<text x="42.7" y="248" font-size="4.6" font-family='"Liberation Sans", sans-serif' text-anchor="end" fill="#333">10<tspan font-size="3" dy="-2">4</tspan></text>
<text x="42.7" y="261.5" font-size="4.6" font-family='"Liberation Sans", sans-serif' text-anchor="end" fill="#333">10<tspan font-size="3" dy="-2">3</tspan></text>
<text x="42.7" y="275" font-size="4.6" font-family='"Liberation Sans", sans-serif' text-anchor="end" fill="#333">10<tspan font-size="3" dy="-2">2</tspan></text>
<text x="42.7" y="280" font-size="4.6" font-family='"Liberation Sans", sans-serif' text-anchor="end" fill="#333">0</text>
<text x="50" y="292" font-size="4.6" font-family='"Liberation Sans", sans-serif' text-anchor="middle" fill="#333">0</text>
<text x="58" y="292" font-size="4.6" font-family='"Liberation Sans", sans-serif' text-anchor="middle" fill="#333">10<tspan font-size="3" dy="-2">2</tspan></text>
<text x="72.5" y="292" font-size="4.6" font-family='"Liberation Sans", sans-serif' text-anchor="middle" fill="#333">10<tspan font-size="3" dy="-2">3</tspan></text>
<text x="85" y="292" font-size="4.6" font-family='"Liberation Sans", sans-serif' text-anchor="middle" fill="#333">10<tspan font-size="3" dy="-2">4</tspan></text>
<text x="96" y="292" font-size="4.6" font-family='"Liberation Sans", sans-serif' text-anchor="middle" fill="#333">10<tspan font-size="3" dy="-2">5</tspan></text>
<path d="M70.45 259.81h0.7M77.12 258.81h0.7M60.23 255.3h0.7M58.53 263.99h0.7M59.39 246.26h0.7M64.35 250.86h0.7M68.81 256.83h0.7M57.62 246.75h0.7M63.1 248.2h0.7M64.62 257.01h0.7M62.42 256.93h0.7M62.31 265.82h0.7M47.55 249.47h0.7M78.76 248.62h0.7M73.32 254.65h0.7M66.64 247.52h0.7M62.18 255.05h0.7M61.82 242.51h0.7M68.24 253.82h0.7M50.27 262.78h0.7M65.17 249.15h0.7M56.95 257.68h0.7M60.56 260.14h0.7M53.04 257.46h0.7M71.3 259.01h0.7M57.73 250.25h0.7M54.19 256.46h0.7M63.47 263.06h0.7M62.98 263.76h0.7M63.59 261.92h0.7M77.07 257.64h0.7M52.92 258.39h0.7M67.99 254.08h0.7M63.9 260.02h0.7M83.49 251.93h0.7M79.39 253.18h0.7M63.13 253.82h0.7M66.07 251.35h0.7M59.96 254.55h0.7M56.49 255.54h0.7M77.18 250.96h0.7M68.38 251.4h0.7M54.03 255.8h0.7M63.26 261.75h0.7M73.73 256.44h0.7M59.39 263.91h0.7M52.34 251.36h0.7M73.99 258.27h0.7M72.86 254.58h0.7M73.97 262.78h0.7M76.54 249.77h0.7M56.17 258.02h0.7M72.82 255.76h0.7M48.93 257.11h0.7M65.14 253.64h0.7M77.13 243.27h0.7M67.33 252.31h0.7M72.39 253.99h0.7M84.52 256.93h0.7M60.57 246.26h0.7M63.38 255.58h0.7M82.91 258.03h0.7M68.18 250.48h0.7M68.46 250.17h0.7M51.36 258.45h0.7M61.53 247.97h0.7M78.34 263.02h0.7M71.01 246.17h0.7M57.41 250.13h0.7M68.93 275.81h0.7M75.89 255.19h0.7M57.35 247.64h0.7M58.54 256.85h0.7M63.66 258.8h0.7M71.84 249.14h0.7M75.11 255.98h0.7M83.32 255.02h0.7M62.52 255.13h0.7M79.3 258.85h0.7M78.72 261.9h0.7M69.8 269.47h0.7M65.4 254.48h0.7M78.17 249.03h0.7M69.75 261.68h0.7M56.94 244.7h0.7M51.38 262.46h0.7M92.79 250.59h0.7M52.55 248.43h0.7M83.01 260.28h0.7M73.61 251.57h0.7M73.46 251.48h0.7M72.46 251.36h0.7M53.05 253.17h0.7M70.86 257.72h0.7M60.69 261.18h0.7M49.5 244.27h0.7M72.84 254.88h0.7M66.09 253.11h0.7M72.13 257.11h0.7M81.17 250.23h0.7M53.17 255.02h0.7M63.85 254h0.7M84.46 257.9h0.7M79.7 259.28h0.7M69.42 258.12h0.7M78.2 258.46h0.7M73.58 255.43h0.7M58.73 257.85h0.7M62.38 259.16h0.7M80.72 264.71h0.7M70.87 249.6h0.7M62.49 248.91h0.7M71.11 255.89h0.7M68.5 244.89h0.7M50.83 242.87h0.7M81.8 258.73h0.7M67.4 253.67h0.7M47.7 253.57h0.7M62.39 250.83h0.7M77.55 243.87h0.7M68.61 260.51h0.7M75.51 246.93h0.7M82.13 254.82h0.7M64.04 257.76h0.7M78.45 256.49h0.7M63.27 257.04h0.7M71.06 267.86h0.7M67.24 250.34h0.7M87.57 264.59h0.7M82.9 250.24h0.7M60.68 247.69h0.7M65.7 263.6h0.7M77.19 256.07h0.7M69.61 258.66h0.7M65.63 249.59h0.7M59.64 265.55h0.7M57.01 249.07h0.7M73.29 253.81h0.7M63.49 256.72h0.7M65.74 246.06h0.7M77.38 257.08h0.7M85.75 260.8h0.7M60.98 253.22h0.7M59.54 242.77h0.7M75.2 251.81h0.7M77.94 256.83h0.7M66.03 265.36h0.7M57.11 266.15h0.7M63.26 268.48h0.7M79.88 252.74h0.7M86.42 258.32h0.7M71.16 253.47h0.7M66.83 253.38h0.7M63.72 260.51h0.7M76.25 263.16h0.7M80.47 255.39h0.7M75.59 254.35h0.7M73.69 259.53h0.7M71.59 251.16h0.7M54.69 265.93h0.7M58.92 252.2h0.7M71.71 253.6h0.7M72.13 263.92h0.7M50.81 256.39h0.7M74.03 247.61h0.7M75.5 264.57h0.7M67.95 258.68h0.7M64.35 261.66h0.7M62.01 255.92h0.7M60.32 251.62h0.7M80.05 255.55h0.7M77.27 246.5h0.7M54.7 250.55h0.7M88.18 262.74h0.7M91.74 253.24h0.7M74.17 258.04h0.7M64.77 259.41h0.7M67.32 258.72h0.7M48.37 249.72h0.7M56.83 265.8h0.7M77.13 250.18h0.7M73 252.53h0.7M55.39 250.45h0.7M99.88 256.42h0.7M66.63 263.23h0.7M70.66 249.37h0.7M90.91 268.88h0.7M76.23 250.88h0.7M66.98 256.57h0.7M55.65 271.46h0.7M67.74 252.62h0.7M64.74 253.95h0.7M80.29 257.2h0.7M72.4 255.45h0.7M48.72 259.37h0.7M75.02 249.81h0.7M55.4 252.46h0.7M53.33 241.26h0.7M63.28 252.39h0.7M68.92 262.92h0.7M57.81 246.73h0.7M66.48 259.86h0.7M83.21 261.43h0.7M69.08 256.17h0.7M48.93 259.95h0.7M76.1 255.44h0.7M64.37 258.32h0.7M72.38 258.94h0.7M72.15 246.91h0.7M61.58 246.16h0.7M76.21 271.07h0.7M59.03 255.08h0.7M70.32 251.74h0.7M85.97 257.1h0.7M90.9 269.31h0.7M72.87 251.44h0.7M81.89 254.32h0.7M58.85 254.66h0.7M79.81 251.17h0.7M65.15 261.03h0.7M64.54 261.1h0.7M80.82 252.96h0.7M54.82 248.92h0.7M81.32 259.13h0.7M68.43 253.58h0.7M79.11 253.07h0.7M97.02 257.76h0.7M50.23 262.11h0.7M70.35 255.79h0.7M65.6 262.9h0.7M62.29 265.02h0.7M59.33 261.19h0.7M51.33 261.53h0.7M57.01 254.46h0.7M75.69 251.34h0.7M73.31 255.85h0.7M81.65 261.13h0.7M70.21 254.75h0.7M57.81 264.12h0.7M64.96 248.49h0.7M58.86 244.8h0.7M58.06 253.22h0.7M70.14 261.21h0.7M76.42 245.2h0.7M62.28 259.34h0.7M71.15 255.73h0.7M58.9 259.96h0.7M66.49 254.38h0.7M66.21 254.48h0.7M70.71 262.24h0.7M68.2 252.09h0.7M66.13 254.91h0.7M72.73 260.27h0.7M85.19 261.04h0.7M49.11 250.87h0.7M53.75 257.55h0.7M92.74 258.48h0.7M61.31 263.91h0.7M74.1 251.03h0.7M57 264.43h0.7M75.6 243.59h0.7M59.25 259.09h0.7M52.72 255.77h0.7M57.86 246.02h0.7M61.74 252.67h0.7M70.34 245.75h0.7M70.11 253.65h0.7M50.02 262.86h0.7M62.45 258.24h0.7M84.2 258.2h0.7M77.45 257.04h0.7M61 256.93h0.7M50.21 258.61h0.7M76.27 258.32h0.7M59.94 248.75h0.7M59.2 254.12h0.7M51.78 267.02h0.7M58.48 256.55h0.7M62.14 256.54h0.7M66.92 255.56h0.7M71.53 252.68h0.7M76.16 257.08h0.7M66.7 255.91h0.7M78.72 255.6h0.7M84.14 256.54h0.7M69.87 255.82h0.7M70.45 258.51h0.7M60.41 260.43h0.7M95.15 258.96h0.7M68.46 251.13h0.7" stroke="#8a8a8a" stroke-width="0.7" stroke-opacity="1" fill="none"/>
<path d="M54.37 256.52h0.7M58.43 257.66h0.7M63.74 259.98h0.7M53.86 255.74h0.7M57 262.43h0.7M61.07 257.37h0.7M58.71 272.04h0.7M56.26 248.48h0.7M58.33 272.67h0.7M58.94 263.77h0.7M49.73 277.85h0.7M56.64 253.28h0.7M56.05 265.07h0.7M57.55 255.8h0.7M66.89 274.6h0.7M61.34 269.26h0.7M55.8 253.42h0.7M52.33 273.08h0.7M57.69 277.99h0.7M48.41 275.3h0.7M59.21 258.91h0.7M60.87 257.87h0.7M56.28 268.28h0.7M58 266.19h0.7M58.23 272.76h0.7M54 246.13h0.7M53.72 242.5h0.7M65.08 257.9h0.7M57.21 266.61h0.7M54.29 259.31h0.7M58.39 263.76h0.7M60.57 261.55h0.7M54.71 250.9h0.7M50.67 265.99h0.7M58.6 260.1h0.7M62.18 240.07h0.7M59.91 253.25h0.7M56.02 261.64h0.7M54.39 261.19h0.7M57.36 269.97h0.7M60.63 255.36h0.7M59.27 260.11h0.7M60.9 258.59h0.7M61.62 255.82h0.7M55.49 271.12h0.7M61.4 271.3h0.7M65.28 272.66h0.7M57.33 271.89h0.7M54.07 270.76h0.7M58.94 262.36h0.7M54.49 272.97h0.7M49.39 262.2h0.7M51.75 260.64h0.7M55.61 256.42h0.7M54.93 266.18h0.7M65.18 278.96h0.7M56.6 259.99h0.7M59.79 256.32h0.7M51.45 272.22h0.7M55.74 277.05h0.7M58.69 250.89h0.7M58.52 267.95h0.7M57.6 251.68h0.7M51.37 280.06h0.7M60.55 279.47h0.7M59.93 263.45h0.7M58.87 273.71h0.7M55.25 274.87h0.7M58.35 265.5h0.7M59.1 266.44h0.7M53.69 277.35h0.7M55.42 261.34h0.7M48 249.22h0.7M59.6 262.84h0.7M56.95 260.41h0.7M59.81 257.95h0.7M51.48 249.39h0.7M54.17 266.46h0.7M63.08 268.67h0.7M54.66 252.01h0.7M60.65 268.11h0.7M57.14 269.18h0.7M59.71 268.16h0.7M62.64 250.1h0.7M54.77 258.97h0.7M53.41 281.07h0.7M58.78 267.39h0.7M60.51 261.61h0.7M60.71 261.88h0.7M60.35 268.63h0.7M62.54 250.3h0.7M53.71 256.98h0.7M54.08 267.06h0.7M61.21 260.61h0.7M61.63 271.52h0.7M55.03 269.55h0.7M63.07 259.47h0.7M48.66 268.59h0.7M58.51 269.18h0.7M59.42 263.26h0.7M57.33 256.61h0.7M65.14 277.41h0.7M56.83 256.2h0.7M59.1 277.83h0.7M57.56 256.47h0.7M61.12 265.99h0.7M54.23 261.81h0.7M58.04 253.91h0.7M58.53 275.03h0.7M61.58 274.75h0.7M60.37 262.99h0.7M59.85 274.6h0.7M57.58 268.39h0.7M54.93 263.88h0.7M55.49 254.33h0.7M50.71 259.56h0.7M58.2 257.25h0.7" stroke="#777" stroke-width="0.7" stroke-opacity="1" fill="none"/>
<path d="M58.16 261.7h0.8M50 255.16h0.8M60.08 259.8h0.8M65.71 257.28h0.8M63.07 251.99h0.8M53.31 252.18h0.8M55.43 262.01h0.8M60.85 256.02h0.8M53.36 256.88h0.8M55.54 253.32h0.8M49.55 266.67h0.8M60.08 276.35h0.8M69.63 256.26h0.8M67.52 253.05h0.8M70.12 255.57h0.8M49.07 255.86h0.8M61.09 267.72h0.8M61.89 268.13h0.8M58.3 245.44h0.8M58.17 249.86h0.8M61.26 241.26h0.8M52.99 247.9h0.8M57.95 263.06h0.8M56.08 246.93h0.8M55.14 254.87h0.8M62.74 256.76h0.8M65.57 271.19h0.8M55.1 274.67h0.8M50.39 262.44h0.8M51.53 251.71h0.8M59.76 257.52h0.8M58.8 254.66h0.8M49.03 244.7h0.8M53.59 249.04h0.8M55.34 244.11h0.8M56.92 259.33h0.8M55.19 265.22h0.8M58.4 262.38h0.8M53.39 257.39h0.8M50.97 242.79h0.8M49.45 253.13h0.8M58.56 270.71h0.8M58.91 253.36h0.8M62.26 256.73h0.8M57.5 256.88h0.8M61.93 267.11h0.8M50.96 256.63h0.8M55.31 256.07h0.8M68.3 254.35h0.8M55.28 249.53h0.8M67.61 269.93h0.8M62.15 257.71h0.8M54.14 266.11h0.8M56.34 257.56h0.8M56.66 257.06h0.8M48.36 247.45h0.8M51.58 240.75h0.8M52.11 252.48h0.8M56.6 255.35h0.8M55.46 263.22h0.8M47.94 252.24h0.8M56.37 249.88h0.8M63.78 255.1h0.8M62.51 259.75h0.8M56.21 262.8h0.8M50.75 247.39h0.8M55.49 254.52h0.8M49.43 248.66h0.8M51.45 272.45h0.8M63.22 260.13h0.8M58.44 265.2h0.8M57.94 264.57h0.8M61.5 270.71h0.8M62.34 251.98h0.8M60.28 263.75h0.8M60.52 271.25h0.8M58.8 253.02h0.8M61.53 263.94h0.8M57.41 259.57h0.8M58.1 257.74h0.8M59.15 253.14h0.8M60.86 258.48h0.8M65.44 258.02h0.8M58 247.39h0.8M67.85 254.3h0.8M55.14 254.01h0.8M57.5 255.21h0.8M65.28 252.57h0.8M56.42 252.79h0.8M60.27 244.46h0.8M62.06 253.35h0.8M50.93 266.21h0.8M51.4 260.81h0.8M57.56 251.25h0.8M49.85 250.93h0.8M60.96 255.4h0.8M54.83 262.63h0.8M57.65 256.4h0.8M53.49 246.24h0.8M55.34 257.89h0.8M55.56 258.02h0.8M56.29 254.17h0.8M57.26 258.3h0.8M56.55 252.73h0.8M61.96 263.9h0.8M62.75 260.92h0.8M59.56 256.74h0.8M60.95 251.24h0.8M56.86 258.03h0.8M56.79 247.17h0.8M57.04 252.92h0.8M54.51 260.12h0.8M62.4 256.39h0.8M52.17 254.59h0.8M56.6 248.47h0.8M54.65 256.78h0.8M54.74 258.85h0.8M51.43 260.32h0.8M54.22 256.63h0.8M57.53 252.22h0.8M62.24 243.41h0.8M58.35 260.21h0.8M56.31 255.3h0.8M52.17 255.42h0.8M58.2 251.6h0.8M57.49 253.18h0.8M52.72 255.16h0.8M53.82 261.77h0.8M53.8 265.38h0.8M57.32 255.52h0.8M54.04 258.68h0.8M52.69 245.02h0.8M59.4 241.25h0.8M62.67 252.01h0.8M64.68 257.34h0.8M64.98 245.6h0.8M55.38 257.51h0.8M54.84 256.14h0.8M56.68 260.24h0.8M64.01 240.76h0.8M60.31 247.71h0.8M64.96 245.47h0.8M53.54 259.19h0.8M56.62 260.37h0.8M59.13 250.36h0.8M49.86 263.62h0.8M56.41 254.9h0.8M55.99 253.85h0.8M54.05 256.02h0.8M58.57 247.08h0.8M50.09 259.46h0.8M61.45 251.91h0.8M56.65 252.2h0.8M59.27 255.13h0.8M54.84 250.38h0.8M59.46 258.15h0.8M55.41 258.38h0.8M58.22 241.68h0.8M54.7 257.26h0.8M63.25 258.31h0.8M51.68 261.73h0.8M56.12 261.31h0.8M50.93 244.39h0.8M49.99 259.67h0.8M62.92 257.32h0.8M58.22 254.87h0.8M58.32 248.61h0.8M63.13 261.12h0.8M61.89 255.07h0.8M61.32 262.33h0.8M69.09 263.04h0.8M53.94 250.16h0.8M61.47 259.03h0.8M59.98 256h0.8M53.65 256.62h0.8M50.63 257.56h0.8M68.03 260.61h0.8M53.43 249.67h0.8M68.64 260.08h0.8M55.01 259.6h0.8M55.9 248.37h0.8M58.09 259.11h0.8M63.47 247.04h0.8M64.32 253.97h0.8M48.15 262.41h0.8M62.07 259.31h0.8M61.31 249.5h0.8M59.83 244.41h0.8M54.36 272.94h0.8M65.18 258.33h0.8M59.78 256.25h0.8M60.39 257.04h0.8M53.09 253.23h0.8M48.48 249.7h0.8M56.66 258.23h0.8M67.9 244.52h0.8M67.31 252.73h0.8M55.44 255.09h0.8M67.71 248.24h0.8M55.68 259.39h0.8M61.92 258.33h0.8M58 262.41h0.8M52.87 266.42h0.8M55.14 258.26h0.8M53.12 251.46h0.8M62.12 259.57h0.8M56.58 261.19h0.8M47.81 256.94h0.8M49.41 262.62h0.8M53.58 255.64h0.8M53.54 269.78h0.8M64.64 244.06h0.8M60.57 253.58h0.8M64.37 257.96h0.8M53.96 252.7h0.8M57.7 267.29h0.8M57.91 252.1h0.8M55.59 261.47h0.8M56.02 267.66h0.8M61.63 256.72h0.8M57.97 253.43h0.8M64.59 254.3h0.8M58.8 246.44h0.8M56.53 256.94h0.8M57.11 256.06h0.8M62.15 260.57h0.8M61.19 251.75h0.8M55.06 255.72h0.8M49.95 245.87h0.8M59.03 255.76h0.8M57.86 263.83h0.8M47.39 258.49h0.8M56.37 246.76h0.8M60.62 265.34h0.8M50.51 256.01h0.8M62.03 256.01h0.8M55.36 262.36h0.8M49.4 255.41h0.8M54.42 255.21h0.8M51.54 256.93h0.8M63.31 258.78h0.8M51.39 252.2h0.8M53.9 245.56h0.8M60.94 259.14h0.8M56.63 265.82h0.8M60.86 251.72h0.8M57.67 254.79h0.8M57.43 264.73h0.8M63.44 249.13h0.8M66.73 244.76h0.8M56.23 272.39h0.8M60.71 263.77h0.8M58.14 259.23h0.8M54.4 265.82h0.8M56.54 252.15h0.8M50.48 270.74h0.8M50.47 248.79h0.8M59.79 256h0.8M65.66 260.07h0.8M59.07 250.41h0.8M60.06 245.97h0.8M53.93 265.23h0.8M58.79 247.87h0.8M54.51 254.87h0.8M58.98 257.14h0.8M60.92 242.98h0.8M55.35 256.7h0.8M62.45 251.55h0.8M51.23 250.15h0.8M58.72 272.25h0.8M51.68 252.28h0.8M54.16 263.54h0.8M60.17 254.72h0.8M58.95 266.63h0.8M56.16 248.11h0.8M57.63 247.39h0.8M58.58 261.78h0.8M55.8 262.17h0.8M63.2 268.45h0.8M55.85 259.84h0.8M61.34 261.41h0.8M62.01 259.2h0.8M60.8 262.17h0.8M59.83 259.84h0.8M58.88 255.43h0.8M48.97 255.39h0.8M57.7 252.12h0.8M55.44 264.46h0.8M56.31 240.44h0.8M55.06 255.08h0.8M63.35 257.97h0.8M59.99 252.2h0.8M54.87 245.03h0.8M60.52 256.07h0.8M54.21 256.31h0.8M62.76 262.28h0.8M61.29 263.8h0.8M58.7 255.94h0.8M57.54 259.23h0.8M49.56 257.86h0.8M57.72 249.92h0.8M54.92 263.84h0.8M55.72 255.29h0.8M64.53 249.32h0.8M57.36 253.06h0.8M55.13 254.72h0.8M60.12 254.08h0.8M61.95 260.98h0.8M52.53 256.31h0.8M56.71 247.11h0.8M49.21 262.81h0.8M58.93 264.27h0.8M64.88 261.19h0.8M59.27 264.64h0.8M56.94 253.24h0.8M62.12 260.37h0.8M55.14 253.11h0.8M51.63 270.18h0.8M55.79 252.56h0.8M54.76 252.4h0.8M58.12 256.2h0.8M58.18 267.3h0.8M57.78 251.89h0.8M66.85 252.42h0.8M60.75 257.53h0.8M56.86 249.12h0.8M58.29 257.29h0.8M66.02 245.6h0.8M50.34 259.69h0.8M55.99 263.66h0.8M49.02 245.68h0.8M64.45 249.91h0.8M53.4 254.77h0.8M65.01 254.57h0.8M61.16 254.76h0.8M52.54 257.67h0.8M49.1 262.87h0.8M50.02 256.83h0.8M47.54 255.19h0.8M59.42 250.82h0.8M66.57 255.85h0.8M59.57 245.88h0.8M55.17 257.44h0.8M61 259.88h0.8M50.99 245.78h0.8M52.3 263.5h0.8M49.34 247.47h0.8M58.07 255.51h0.8M57.19 250.22h0.8M59.09 255.08h0.8M56.62 257.37h0.8M56.42 254.55h0.8M62.74 260.65h0.8M57.85 256.76h0.8M63.83 246.76h0.8M48.53 256.05h0.8M49.51 248.59h0.8M58.52 257.2h0.8M55.87 250.66h0.8M50.68 250.97h0.8M53.66 255.61h0.8M61.79 253.81h0.8M52.23 258.68h0.8M63.11 257.94h0.8M55.39 253.2h0.8M55.99 248.7h0.8M61.73 253.7h0.8M66.41 264.02h0.8M55.21 273.27h0.8M55.26 250.49h0.8M49.25 255.86h0.8M59.28 253.35h0.8M56.94 258.99h0.8M53.82 255.45h0.8M56.24 266.07h0.8M60.56 255.14h0.8M52.71 254.85h0.8M53.76 253.38h0.8M59.09 261.3h0.8M62.14 251.88h0.8M58.33 255.61h0.8M61.37 270.68h0.8M62.17 261.94h0.8M58.61 259.36h0.8M48.29 258.11h0.8M56.77 255.55h0.8M60.81 277.1h0.8M58.72 247.71h0.8M55.71 261.46h0.8M60.74 257.13h0.8M60.01 250.53h0.8M64.41 241.93h0.8M55.89 250.73h0.8M55.35 257.36h0.8M58 262.44h0.8M66.26 259.33h0.8M53.2 255.97h0.8M53.93 250.55h0.8M55.62 262.27h0.8M53.82 258.1h0.8M54.02 261.78h0.8M62.82 246.21h0.8M60.89 250.06h0.8M59.03 255.29h0.8M61.4 247.41h0.8M66.26 258.25h0.8M54.53 264.45h0.8M63.75 259.46h0.8M55.18 250.5h0.8M53.39 266.76h0.8" stroke="#333" stroke-width="0.8" stroke-opacity="1" fill="none"/>
<path d="M57.65 255.86h0.9M56.55 260.67h0.9M56.57 259.26h0.9M52.87 252.94h0.9M58.36 252.27h0.9M62.48 248.06h0.9M58.51 258.02h0.9M58.66 255.72h0.9M57.22 269.59h0.9M58.2 253.57h0.9M50.47 263.13h0.9M57.44 262.91h0.9M57.45 260.21h0.9M61.04 253.8h0.9M51.51 260.52h0.9M62.5 250.19h0.9M56.19 255.66h0.9M56.83 258.31h0.9M57.2 258.25h0.9M55.38 249.88h0.9M62.23 256.97h0.9M58.53 251.51h0.9M58.69 255.79h0.9M58.77 256.45h0.9M60.23 261.37h0.9M56.59 254.52h0.9M59.39 250.38h0.9M55.66 254.57h0.9M52.05 263.38h0.9M56.8 255.16h0.9M54.43 258.08h0.9M56.32 251.4h0.9M58.38 261.88h0.9M53.64 255.87h0.9M63.15 255.22h0.9M55.66 262.16h0.9M58.1 259.57h0.9M61.78 258.48h0.9M58.35 263.42h0.9M53.6 251.61h0.9M56.93 253.62h0.9M57.07 248.72h0.9M53.31 258.75h0.9M56.99 257.61h0.9M56.5 255.92h0.9M53.57 262.82h0.9M60.22 250.82h0.9M56.33 257.37h0.9M56.4 255.79h0.9M58.05 248.86h0.9M59.44 257.82h0.9M54.98 255.27h0.9M57.26 254.97h0.9M57.62 250.1h0.9M57.66 257.6h0.9M58.51 257.72h0.9M56.03 256.53h0.9M60.01 256.3h0.9M58.07 256.24h0.9M58.88 251.03h0.9M57.35 259.28h0.9M55.17 258.19h0.9M56.31 254.36h0.9M54.59 252.49h0.9M60.55 250.37h0.9M57.87 250.73h0.9M62.74 258.72h0.9M55.44 251.59h0.9M56.78 257.31h0.9M61.82 261.63h0.9M54.95 256.92h0.9M59.9 253.25h0.9M56.27 259.58h0.9M53.91 256.14h0.9M57.31 254.88h0.9M57.56 249.69h0.9M59.63 254.24h0.9M62.58 263.68h0.9M56.3 263.5h0.9M61.18 252.87h0.9M56.83 260.67h0.9M55.61 254.65h0.9M50.98 250.53h0.9M54.47 253.24h0.9M55.61 257h0.9M58.16 254.58h0.9M53.96 256.94h0.9M59.09 255.8h0.9M61.06 254.24h0.9M59.68 257.05h0.9M60.92 262.31h0.9M54.48 248.99h0.9M60.17 257.23h0.9M58.39 254.29h0.9M55.56 260.66h0.9M58.72 253.92h0.9M57.62 257.14h0.9M54.11 253.56h0.9M58.82 256.56h0.9M53.93 257.21h0.9M62.66 258.4h0.9M54.08 254.22h0.9M55.89 252.99h0.9M55.36 253.76h0.9M57.27 251.21h0.9M59.89 257.27h0.9M62.55 259.26h0.9M59.99 258.01h0.9M57.22 251.87h0.9M59.23 256.39h0.9M55.81 257.59h0.9M58.35 253.52h0.9M61.26 254.15h0.9M57.83 260.15h0.9M56.16 254.82h0.9M58.68 254.76h0.9M56.2 251.67h0.9M58.1 254.56h0.9M59.64 259.94h0.9M57.45 259.02h0.9M55.68 262.22h0.9M56.07 255.54h0.9M56.55 254.13h0.9M59.56 256.03h0.9M55.22 259.02h0.9M57.61 258.27h0.9M58.06 254.28h0.9M52.84 254.89h0.9M55.22 260.72h0.9M56.95 261.73h0.9M63.45 260.54h0.9M63.67 252.46h0.9M56.22 252.04h0.9M54.04 251.1h0.9M59.81 252.98h0.9M56.66 258.27h0.9M56.45 262.03h0.9M60.59 258.81h0.9M61.82 258.11h0.9M58 260.3h0.9M60.21 250.86h0.9M60.37 259.99h0.9M51.69 263.92h0.9M57.93 261.5h0.9M54.48 256.88h0.9M55.73 252.86h0.9M58.22 250.52h0.9M57.45 258.74h0.9M55.58 251.89h0.9M58.96 259.6h0.9M59.87 254.01h0.9M56.47 261.35h0.9M59.78 257.34h0.9M58.11 255.47h0.9M59.09 258.79h0.9M57.63 257.13h0.9M53.94 255.56h0.9M61.61 256.93h0.9M53.99 254.32h0.9M57.75 261.64h0.9M63.03 255.96h0.9M57.13 256.6h0.9M54.67 261.17h0.9M54.44 258.91h0.9M56.34 252.12h0.9M58.37 262.52h0.9M54.4 256.93h0.9M55.73 260.22h0.9M53.73 251.22h0.9M56.53 251.15h0.9M60.04 250.4h0.9M57.68 254.21h0.9M60.06 254.08h0.9M57.02 262.59h0.9M59.18 260.93h0.9M61.17 258.02h0.9M58.32 249.68h0.9M53.07 254.54h0.9M58.26 260.39h0.9M55.53 254.86h0.9M62.87 251.84h0.9M57.03 255.71h0.9M55.72 261.85h0.9M53.41 254.99h0.9M53.2 253.42h0.9M61.51 248.42h0.9M53.2 256.15h0.9M58.44 253.31h0.9M58.64 255.36h0.9M56.51 256.47h0.9M60.66 251.6h0.9M59.72 257.19h0.9M56.97 253.31h0.9M58.38 259.19h0.9M55.09 258.94h0.9M57.59 259.31h0.9M58.2 255.36h0.9M58.05 258.59h0.9M53.77 256.15h0.9M51.26 256.91h0.9M56.27 256.2h0.9M60.07 259.68h0.9M61.18 259.7h0.9M56.96 253.06h0.9M64.16 253.52h0.9M56.59 257.75h0.9M55.4 256.7h0.9M58.05 254.06h0.9M54.84 256.23h0.9M58.61 252.33h0.9M57.86 256.51h0.9M55.22 257.71h0.9M53.98 259.59h0.9M55.68 260.03h0.9M57.77 256.33h0.9M54.06 259.01h0.9M54.67 264.64h0.9M58.63 256.88h0.9M57.58 258.74h0.9M58.69 257.63h0.9M59.75 255.53h0.9M61.67 250.3h0.9M53.27 258.33h0.9M57.45 250.31h0.9M54.4 253.36h0.9M60.77 258.6h0.9M53.24 250.94h0.9M57.86 251.38h0.9M55.92 253.87h0.9M57.63 258.34h0.9M55.69 254.11h0.9M58.2 262.35h0.9M58.57 254.72h0.9M59.92 255.59h0.9M53.97 258.63h0.9M61.73 251.82h0.9M59.48 251.41h0.9M57.29 255.66h0.9M56.61 255.68h0.9M59.26 254.17h0.9M56.92 254.93h0.9M58.21 253.63h0.9M59.53 257.27h0.9M55.98 251.19h0.9M56.82 260h0.9M59.15 256.14h0.9M62.73 262.06h0.9M58.85 261.45h0.9M56.86 254.71h0.9M58.1 248.86h0.9M57.59 254.17h0.9M61 258.27h0.9M61.53 254.37h0.9M61.32 256.67h0.9M58.88 257.65h0.9M54.25 259.6h0.9M56.35 258.55h0.9M57.39 252.32h0.9M56.72 257.21h0.9M56.75 262.61h0.9" stroke="#111" stroke-width="0.9" stroke-opacity="1" fill="none"/>
<rect x="48.7" y="240.6" width="15.5" height="21.6" fill="none" stroke="#4f6fb8" stroke-width="1.5"/>
<rect x="64.2" y="240.6" width="25.5" height="21.6" fill="none" stroke="#4f6fb8" stroke-width="1.5"/>
<rect x="48.7" y="262.2" width="15.5" height="21" fill="none" stroke="#4f6fb8" stroke-width="1.5"/>
<text x="49.1" y="230.3" font-size="7.2" font-family='"Liberation Serif", serif' font-weight="bold" text-anchor="start" fill="#000" textLength="11.3" lengthAdjust="spacingAndGlyphs">ST-</text>
<text x="49.1" y="238.6" font-size="7.2" font-family='"Liberation Serif", serif' font-weight="bold" text-anchor="start" fill="#000" textLength="14.8" lengthAdjust="spacingAndGlyphs">HSC</text>
<text x="70.9" y="238.6" font-size="7.2" font-family='"Liberation Serif", serif' font-weight="bold" text-anchor="start" fill="#000" textLength="15.7" lengthAdjust="spacingAndGlyphs">MPP</text>
<text x="65.7" y="272" font-size="7.2" font-family='"Liberation Serif", serif' font-weight="bold" text-anchor="start" fill="#000" textLength="11" lengthAdjust="spacingAndGlyphs">LT-</text>
<text x="65.7" y="280.3" font-size="7.2" font-family='"Liberation Serif", serif' font-weight="bold" text-anchor="start" fill="#000" textLength="14" lengthAdjust="spacingAndGlyphs">HSC</text>
<rect x="132.4" y="224.5" width="59.1" height="58.9" fill="none" stroke="#9a9a9a" stroke-width="1"/>
<text x="129.9" y="234.5" font-size="4.6" font-family='"Liberation Sans", sans-serif' text-anchor="end" fill="#333">10<tspan font-size="3" dy="-2">5</tspan></text>
<text x="129.9" y="248" font-size="4.6" font-family='"Liberation Sans", sans-serif' text-anchor="end" fill="#333">10<tspan font-size="3" dy="-2">4</tspan></text>
<text x="129.9" y="261.5" font-size="4.6" font-family='"Liberation Sans", sans-serif' text-anchor="end" fill="#333">10<tspan font-size="3" dy="-2">3</tspan></text>
<text x="129.9" y="275" font-size="4.6" font-family='"Liberation Sans", sans-serif' text-anchor="end" fill="#333">10<tspan font-size="3" dy="-2">2</tspan></text>
<text x="129.9" y="280" font-size="4.6" font-family='"Liberation Sans", sans-serif' text-anchor="end" fill="#333">0</text>
<text x="137.2" y="292" font-size="4.6" font-family='"Liberation Sans", sans-serif' text-anchor="middle" fill="#333">0</text>
<text x="145.2" y="292" font-size="4.6" font-family='"Liberation Sans", sans-serif' text-anchor="middle" fill="#333">10<tspan font-size="3" dy="-2">2</tspan></text>
<text x="159.7" y="292" font-size="4.6" font-family='"Liberation Sans", sans-serif' text-anchor="middle" fill="#333">10<tspan font-size="3" dy="-2">3</tspan></text>
<text x="172.2" y="292" font-size="4.6" font-family='"Liberation Sans", sans-serif' text-anchor="middle" fill="#333">10<tspan font-size="3" dy="-2">4</tspan></text>
<text x="183.2" y="292" font-size="4.6" font-family='"Liberation Sans", sans-serif' text-anchor="middle" fill="#333">10<tspan font-size="3" dy="-2">5</tspan></text>
<path d="M166.28 253.18h0.7M149.12 260.97h0.7M153.5 259.35h0.7M138.23 241.14h0.7M161.44 257.91h0.7M151.32 251.66h0.7M158.11 255.65h0.7M152.27 252.74h0.7M155.65 258.84h0.7M156.96 250.87h0.7M164.84 256.78h0.7M147.35 252.12h0.7M141.16 253.32h0.7M145.26 259.76h0.7M167.19 250.56h0.7M143.43 260.11h0.7M138.38 250.6h0.7M148.94 254.03h0.7M153.67 247.34h0.7M162.64 254.8h0.7M156.65 261.74h0.7M173.62 254.09h0.7M148.64 251.03h0.7M151.81 246.41h0.7M145.42 249.65h0.7M158.79 256.9h0.7M146.36 246.4h0.7M152.77 242.45h0.7M150.53 253.76h0.7M157.36 250.11h0.7M157.67 256.95h0.7M149.26 246.53h0.7M147.47 254.3h0.7M156.1 242.84h0.7M136.71 243.29h0.7M172.77 255.06h0.7M155.01 245.75h0.7M170.65 254.84h0.7M152.55 254.09h0.7M162.89 241.08h0.7M156.14 245.19h0.7M148.58 251.38h0.7M148.4 248.29h0.7M154.94 250.26h0.7M155.96 256.92h0.7M143.69 251.46h0.7M143.68 257.3h0.7M161.01 258.5h0.7M164.64 253.28h0.7M142.15 248.2h0.7M166.29 253.32h0.7M161.8 249.24h0.7M150.57 263.68h0.7M163.77 243.42h0.7M145.49 253.4h0.7M164.53 258.17h0.7M162.38 259.66h0.7M160.66 257.5h0.7M143.48 245.58h0.7M147.47 259.9h0.7M167.83 246.34h0.7M149.99 253.02h0.7M159.36 254.5h0.7M169.27 254.09h0.7M150.69 251.15h0.7M164.93 251.12h0.7M158.81 250.18h0.7M140.28 240.22h0.7M149.85 247.96h0.7M161.91 250.41h0.7M142.89 256.78h0.7M148.42 264.62h0.7M148.1 253.01h0.7M144.59 261.4h0.7M156.2 251.25h0.7M152.01 240.57h0.7M166.76 252.61h0.7M165.75 247.73h0.7M168.82 248.79h0.7M153.4 264.22h0.7M147.57 252.71h0.7M151.31 253.23h0.7M154.7 251.69h0.7M157.81 250.06h0.7M167.56 256.52h0.7M140.6 249.52h0.7M149.5 258.07h0.7M143.68 250.58h0.7M161.63 257.92h0.7M151.85 251.38h0.7M142.39 259.34h0.7M147.71 268.22h0.7M135.93 248.73h0.7M160.55 263.13h0.7M149.62 255.11h0.7M146.29 253.83h0.7M147.2 255.05h0.7M151.59 246.97h0.7M136.08 246.87h0.7M152.53 256.75h0.7M165.25 258.17h0.7M175.5 258.33h0.7M172.65 257.17h0.7M156.52 242.63h0.7M163.62 251.78h0.7M148.79 244.89h0.7M166.8 252.53h0.7M148.33 248.04h0.7M152.05 255.14h0.7M159.61 253.22h0.7M155.39 252.95h0.7M148.41 259.22h0.7M151.52 249.25h0.7M171.83 247.14h0.7M148.06 253.26h0.7M151.11 252.08h0.7M163.54 258.39h0.7M138.42 263.4h0.7M140.13 246.63h0.7M160.45 246.75h0.7M139.89 257.38h0.7M158.53 254.79h0.7M168.38 258.57h0.7M147.96 249.87h0.7M157.57 250.16h0.7M155.87 257.64h0.7M155.87 244.45h0.7M171.01 252.21h0.7M156.83 243.13h0.7M152.6 245.17h0.7M170.34 249.83h0.7M137.9 251.86h0.7M142.88 252.94h0.7M142.74 242.66h0.7M150.92 250.84h0.7M144.25 256.51h0.7M162.22 252.03h0.7M152.08 254.66h0.7M163.05 253.61h0.7M140.74 256.25h0.7M178.98 256.25h0.7M156.54 249.34h0.7M136.26 255.51h0.7M159.32 255.16h0.7M154.69 259.95h0.7M151.81 241.74h0.7M151.46 253.57h0.7M161.52 255.84h0.7M160.62 255.22h0.7M156.26 245.87h0.7M149.52 258.41h0.7M151.4 250.07h0.7M162.36 241.27h0.7M146.84 253.64h0.7M144.17 242.61h0.7M173.34 251.13h0.7M153.69 256.11h0.7M173.76 248.5h0.7M151.32 250.63h0.7M163.37 257.96h0.7M170.29 250.04h0.7M139.74 248.93h0.7M141.47 255.02h0.7M169.15 251.88h0.7M151.47 252.79h0.7M146.07 254.56h0.7M150.18 253.47h0.7M144.03 255.63h0.7M156.6 247.6h0.7M152.16 244.53h0.7M137.43 246.16h0.7M157.34 250.29h0.7M152.41 254.14h0.7M149.81 251.51h0.7M146.71 265.03h0.7M143.93 256.06h0.7M150.21 262.96h0.7M140.37 252.01h0.7M157.17 249.76h0.7M176.2 254.05h0.7M157.34 242.92h0.7M157.47 245.63h0.7M159 254.69h0.7M151.52 249.33h0.7M143.98 248.88h0.7M169.8 247.93h0.7M149.53 254.92h0.7M137.98 250.14h0.7M165.31 253.99h0.7M158.99 256.68h0.7M161.17 255.81h0.7M168.36 245.87h0.7M163.19 260.89h0.7M151.59 250.97h0.7M141.8 256.23h0.7M155.49 255.74h0.7M152.18 252.79h0.7M146.27 258.72h0.7M151.27 259.72h0.7M162.64 248.3h0.7M140.57 258.5h0.7M157.18 250.48h0.7M164.26 240.92h0.7M159.12 250.51h0.7M160.88 249.22h0.7M147.65 256.47h0.7M156.92 244.28h0.7M158.6 256.58h0.7M134.83 247.07h0.7M140.36 246.9h0.7M145.25 263.44h0.7M141.84 247.09h0.7M150.04 260.14h0.7M148.39 258h0.7M164.11 250.17h0.7M157.16 258.25h0.7M155.33 261.83h0.7M157.1 261.66h0.7M141.89 253.89h0.7M146.73 250.22h0.7M150.37 255.52h0.7M136.94 242.7h0.7M161.08 254.28h0.7M163.16 257.34h0.7M156.26 249.55h0.7M158.25 247.16h0.7M138.47 250.63h0.7M177.2 246.99h0.7M167.43 251.52h0.7M171.61 249.68h0.7M139.87 248.81h0.7M150.63 255.75h0.7M144.89 253.71h0.7M178.55 252.67h0.7M160.01 267.63h0.7M144.49 252.46h0.7M149.09 254.08h0.7M144.02 250.8h0.7M160.76 252.57h0.7M156.84 263.56h0.7M143.59 254.57h0.7M142.78 257.05h0.7M146.51 259.94h0.7M153.91 240h0.7M140.3 256.35h0.7M160.93 258.32h0.7M158.25 249.87h0.7M154.15 252.82h0.7M152.87 258.33h0.7M142.54 250.75h0.7M167.14 251.76h0.7M158.76 249.45h0.7M153.35 259.97h0.7M170.24 252.76h0.7M145.76 261.14h0.7M160.61 266.09h0.7M164.21 251.76h0.7M152.02 252.22h0.7M142.32 250.17h0.7M156.2 242.78h0.7M162.97 253.18h0.7M134.57 243.95h0.7M144.98 261.95h0.7M157.96 246.1h0.7M147.14 243.07h0.7M142.2 242.57h0.7M172.4 256.54h0.7M166.89 255.11h0.7M144.48 258.18h0.7M157.94 248.37h0.7M134.62 252.28h0.7M139.31 250.81h0.7M163.22 255.63h0.7M154.22 250.95h0.7M154.79 246.95h0.7M161.16 261.63h0.7M146 243.54h0.7M152.8 242.53h0.7M174.42 251.87h0.7M157.26 253.52h0.7M147.08 248.15h0.7M140.81 263.95h0.7" stroke="#8a8a8a" stroke-width="0.7" stroke-opacity="1" fill="none"/>
<path d="M143.18 269.8h0.7M148.88 257.9h0.7M140.83 256.98h0.7M144.35 251.82h0.7M146.7 258.25h0.7M139.81 266.52h0.7M148.6 252.69h0.7M142.13 258.93h0.7M144.99 267.27h0.7M142.39 252.36h0.7M140.46 268.04h0.7M150.28 262.02h0.7M147.49 254.05h0.7M137.8 252.4h0.7M154.77 271.32h0.7M138.88 253.66h0.7M141.39 249.13h0.7M145.23 250.85h0.7M141.91 265.48h0.7M141.87 268.99h0.7M140.77 270.63h0.7M140.2 255.23h0.7M136.99 263.3h0.7M145.63 260.46h0.7M148.65 265.99h0.7M144.28 245.93h0.7M142.16 263.51h0.7M138.07 273.21h0.7M144.19 273.51h0.7M137.88 276.12h0.7M148.41 261.6h0.7M141.48 274.59h0.7M138.93 258.48h0.7M147.41 259.65h0.7M139.6 250.25h0.7M140.89 271.48h0.7M153.93 251.76h0.7M137.96 265.86h0.7M142.17 256.65h0.7M142.28 272.13h0.7M146 253.71h0.7M144.93 249.59h0.7M147.42 242.46h0.7M141.12 268.35h0.7M149.8 264.89h0.7M134.9 258.63h0.7M146.63 266.02h0.7M144.44 255.37h0.7M135.08 256.15h0.7M143.5 254.47h0.7M139.41 263.77h0.7M141.53 261.95h0.7M147.21 254.05h0.7M146.89 250.39h0.7M146.43 263.93h0.7M144.89 266.78h0.7M143.75 245.02h0.7M149.7 262.28h0.7M143.72 260.85h0.7M144.47 258.33h0.7M137.45 249.94h0.7M150.07 265.8h0.7M138.53 274.58h0.7M144.04 250.53h0.7M139.74 254.53h0.7M147.51 267.03h0.7M141.86 258.24h0.7M140.01 261.36h0.7M138.69 268.18h0.7M142.49 268.74h0.7M149.24 263.06h0.7M139.12 262.58h0.7M139.34 269.92h0.7M141.56 258.77h0.7M140.84 271.88h0.7M144.98 259.88h0.7M146.43 258h0.7M139.57 259.96h0.7M141.95 270h0.7M140.09 250.85h0.7M148.39 268.31h0.7M141.42 261.48h0.7M136.33 275.12h0.7M140.71 241.18h0.7M142.38 264.88h0.7M145.57 262.53h0.7M143.89 258.89h0.7M142.58 258.28h0.7M153.01 261.01h0.7M143.49 242.05h0.7M142.76 265.39h0.7M145.78 246.55h0.7M142.64 274.48h0.7M142.13 258.64h0.7M145.34 259.57h0.7M140.76 254.64h0.7M135.91 262h0.7M145.23 265.76h0.7M139.85 264.1h0.7M138.66 245.85h0.7M145.5 249.06h0.7M137.26 257.51h0.7M141.57 274.15h0.7M147.11 279h0.7M143.65 245.78h0.7M137.71 262.81h0.7M137.35 264.26h0.7M147.16 265.67h0.7M136.05 270.35h0.7M149.92 269.59h0.7M152.53 253.19h0.7M142.39 267.99h0.7M147 273.72h0.7M142.31 254.23h0.7M142.1 253.98h0.7M143.3 257.37h0.7M146.06 254.14h0.7" stroke="#777" stroke-width="0.7" stroke-opacity="1" fill="none"/>
<path d="M147.22 247.02h0.8M148.64 260.88h0.8M142.8 250.9h0.8M144.54 255.53h0.8M138.14 257.32h0.8M137.32 253.8h0.8M147.98 248.39h0.8M141.39 254.74h0.8M144.58 256.49h0.8M136.9 254.6h0.8M147.44 257.65h0.8M149.8 242.31h0.8M148.57 242.38h0.8M137.67 253.82h0.8M153.87 260.79h0.8M142.31 253.05h0.8M148.05 243.87h0.8M141.29 248.31h0.8M148.54 256.33h0.8M144.41 260.94h0.8M141.77 246.07h0.8M147.2 239.67h0.8M144.24 252.3h0.8M135.43 253.78h0.8M138.9 261.96h0.8M146.54 258.72h0.8M147.55 252.42h0.8M148.14 256.71h0.8M145.6 259.92h0.8M152.22 240.71h0.8M140.81 242.24h0.8M137.13 257.27h0.8M138.42 251h0.8M140.33 259.25h0.8M150.48 253.27h0.8M139.74 248.47h0.8M142.08 241.12h0.8M137.29 253.8h0.8M144.11 253.67h0.8M144.56 247.34h0.8M142.45 245.43h0.8M145.41 254.1h0.8M141.05 253.51h0.8M147.75 252.9h0.8M151.96 260.86h0.8M143.52 251.08h0.8M137.49 244.98h0.8M143.92 253.31h0.8M144.64 264.11h0.8M144.93 255.22h0.8M141.93 244.88h0.8M140.87 251.8h0.8M146.31 257.25h0.8M138.28 251.72h0.8M146.52 242.56h0.8M141.87 242.38h0.8M139.8 260.49h0.8M144.72 267.56h0.8M138.22 258.82h0.8M142.25 241.37h0.8M143.91 254.06h0.8M141.76 260.88h0.8M141.56 257.6h0.8M143.02 248.81h0.8M144.8 259.87h0.8M149.69 260.76h0.8M135.17 243.23h0.8M141.8 260.75h0.8M137.52 257.94h0.8M147.81 250.59h0.8M149.31 257.68h0.8M142.32 262.57h0.8M152.89 251.93h0.8M144.22 254.82h0.8M146.84 249.71h0.8M142.02 260.77h0.8M142.49 261.74h0.8M144.32 264.44h0.8M149.91 244.54h0.8M146.28 250.86h0.8M140.3 258.59h0.8M147.98 256.2h0.8M148.17 263.88h0.8M144.75 256.87h0.8M145.34 263.04h0.8M139.07 252.09h0.8M137.52 248.71h0.8M144.73 250.12h0.8M139.63 250.96h0.8M148.31 267.03h0.8M143.7 247.52h0.8M144.02 248.31h0.8M144.64 257.37h0.8M152.04 247.4h0.8M142.51 246.83h0.8M148.09 246.01h0.8M149.11 265.16h0.8M135.25 260.21h0.8M153.7 253.38h0.8M142.87 266.72h0.8M142.14 251.97h0.8M138.94 257.18h0.8M149.24 247.24h0.8M146.97 256.18h0.8M150.39 251.98h0.8M139.62 254.25h0.8M145.27 250.79h0.8M138.82 257.13h0.8M135.81 244.64h0.8M142.61 243.24h0.8M145.47 241.44h0.8M142.26 255.6h0.8M149.39 246.84h0.8M144.43 261.02h0.8M139.42 255.27h0.8M148.37 260.42h0.8M142.86 255.18h0.8M139.86 256.49h0.8M145.12 249.06h0.8M154.21 257.19h0.8M139.31 252.94h0.8M145.42 245.42h0.8M138.98 257.89h0.8M142.82 252.26h0.8M147.96 250.85h0.8M136.28 244.92h0.8M142.45 251.36h0.8M141.37 246.56h0.8M135.05 250.96h0.8M145.1 254.62h0.8M146.03 273.25h0.8M137.74 248.43h0.8M146.38 252.02h0.8M157.83 252.04h0.8M142.66 252.73h0.8M142.09 248h0.8M148.2 255.02h0.8M144.64 250.83h0.8M144.78 250.85h0.8M143.5 263.73h0.8M145.69 259.65h0.8M141.62 250.37h0.8M136.67 262.98h0.8M148.36 252.15h0.8M145.26 254.41h0.8M149.42 256.25h0.8M142.67 245.32h0.8M141.99 261.01h0.8M139.81 250.97h0.8M145.99 263.91h0.8M140.82 258.37h0.8M141.28 240.46h0.8M141.17 245.18h0.8M136.72 266.53h0.8M136.1 250.46h0.8M148.68 252.6h0.8M142.94 262.01h0.8M139.26 241.85h0.8M141.21 244.78h0.8M143.99 257.12h0.8M142.71 252.23h0.8M137.35 242.87h0.8M144.44 262.41h0.8M146.8 269.55h0.8M142.81 254.41h0.8M145.4 258.46h0.8M149.16 252.18h0.8M147.39 250.8h0.8M146.47 261.87h0.8M142.89 240.36h0.8M149.52 248.18h0.8M140.45 259.53h0.8M147.13 256.03h0.8M140.33 257.61h0.8M143.68 250.03h0.8M139.32 255.89h0.8M139.49 261.71h0.8M134.64 245.47h0.8M143.88 240.58h0.8M151.71 242.7h0.8M140.15 249.61h0.8M143.84 262.28h0.8M141 248.93h0.8M149.04 252.42h0.8M146.65 252.88h0.8M140.6 248.18h0.8M138.37 246.96h0.8M143.82 252.18h0.8M146.7 253.28h0.8M144.92 246.4h0.8M135.39 259.63h0.8M151.37 250.47h0.8M147.07 246.31h0.8M138.76 255.25h0.8M147.02 256.56h0.8M148.19 253.13h0.8M142.33 253.17h0.8M138.87 249.98h0.8M135.23 244.28h0.8M146.65 248.67h0.8M146.66 252.02h0.8M142.6 256.63h0.8M148.41 250.36h0.8M144.13 266.52h0.8M145.82 248.69h0.8M139.1 249.27h0.8M145.96 249.52h0.8M145.98 253.84h0.8M135.61 249.07h0.8M139.41 258.9h0.8M134.44 254.49h0.8M138.43 248.99h0.8M135.05 265.43h0.8M141.92 253.06h0.8M153.72 240.34h0.8M142.54 245.96h0.8M141.71 249.58h0.8M145.38 257.73h0.8M143.31 260.78h0.8M141.47 243.48h0.8M135.02 258.43h0.8M141.35 255.86h0.8M146.35 246.12h0.8M149.07 257.68h0.8M150.7 257.49h0.8M137.63 256.56h0.8M143.6 242.42h0.8M147.1 250.71h0.8M144.92 264.03h0.8M149.13 249.6h0.8M146.43 259.73h0.8M143.74 260.12h0.8M145.72 249.39h0.8M149.58 250.82h0.8M140.77 249.84h0.8M134.62 259.96h0.8M137.34 239.68h0.8M141.66 257.73h0.8M144.62 255.15h0.8M141.65 245.82h0.8M144.35 257.99h0.8M142.73 259.33h0.8M143.77 243.57h0.8M140.44 251.88h0.8M139.18 250.88h0.8M147.51 252.56h0.8M147.91 255.62h0.8M140.57 253.05h0.8M147.32 248.55h0.8M139.92 261.15h0.8M146.93 257.05h0.8M140.53 251.24h0.8M144.84 255.41h0.8M147.1 244.79h0.8M147.19 245.46h0.8M138.51 249.1h0.8M140.51 259.86h0.8M148.65 267.38h0.8M139.79 253.59h0.8M149.18 240.4h0.8M146.78 265.79h0.8M147.61 247.35h0.8M142.6 253.57h0.8M139.83 245.23h0.8M148.43 246.39h0.8M148 244.94h0.8M139.99 249.78h0.8M147 242.34h0.8M143.01 260.48h0.8M146.8 262.91h0.8M142.39 241.83h0.8M143.09 256.23h0.8M138.18 250.3h0.8M142.89 267.97h0.8M139.92 246.95h0.8M142.11 248.03h0.8M143.24 248.84h0.8M137.21 247.57h0.8M149.48 251.68h0.8M144.02 257.35h0.8M144.54 246.23h0.8M138.91 258.21h0.8M141.79 255.49h0.8M141.14 258.71h0.8M142.33 254.23h0.8M147.29 261.87h0.8M140.78 241.04h0.8M144.86 246.29h0.8M138.38 263.51h0.8M142.5 244.9h0.8M136.98 255.25h0.8M144.61 255.32h0.8M137.69 247.67h0.8M142.92 249.73h0.8M143.34 250.13h0.8M142.78 253.79h0.8M146.04 261.6h0.8M149.71 241.81h0.8M144.19 260.95h0.8M145.94 261.85h0.8M143.08 268.08h0.8M145.51 240.91h0.8M146.42 250.24h0.8M148.08 247.52h0.8M146.99 243.4h0.8M141.72 251.75h0.8M148.36 246.79h0.8M144.56 260.38h0.8M134.6 263.47h0.8M142.6 254.01h0.8M152.12 252.12h0.8M146.41 261.4h0.8M149.88 261.18h0.8M140.2 255.2h0.8M136.32 243.82h0.8M141.61 250.32h0.8M140.39 247.08h0.8M150.96 243.22h0.8M145.5 243.58h0.8M144.51 246.51h0.8M148.49 261.26h0.8M141.71 251.26h0.8M144.61 241.51h0.8M145.99 273.65h0.8M140.93 240.76h0.8M140.33 252.53h0.8M141.55 264.82h0.8M145.95 248.41h0.8M144.11 249.3h0.8M139.36 263.32h0.8M142.2 248.4h0.8M149.66 250.49h0.8M146.25 244.49h0.8M141.21 258.88h0.8M149.24 250.32h0.8M140.78 259.9h0.8M142.42 248.45h0.8M141.98 250.88h0.8M140.63 260.19h0.8M150.75 246.04h0.8M139.94 251.54h0.8M139.43 253.16h0.8M143.71 252.44h0.8M139.59 254.63h0.8M137.08 249.73h0.8M142.31 252.8h0.8M146.89 251.14h0.8M138.34 255.42h0.8M142.35 258.01h0.8M150.69 263.29h0.8M142.9 245.46h0.8M144.07 251.1h0.8M139.52 241.6h0.8M148.36 245.47h0.8M147.79 260.03h0.8M138.65 255.34h0.8M142.62 242.11h0.8M140.08 253.42h0.8M147.44 247.29h0.8M142.01 259.83h0.8M141.1 247.6h0.8M135.9 255.5h0.8M139.7 245.54h0.8M140.84 247.11h0.8M156.52 248.46h0.8M146.54 243.33h0.8M146.97 254.97h0.8M141.21 268.38h0.8M138.56 244.67h0.8M139.67 251.96h0.8M146.59 251.84h0.8M139.37 245.51h0.8M150.54 249.21h0.8M151.05 251.71h0.8M141.26 249.75h0.8M145.29 258.13h0.8M141.26 256.04h0.8M136.99 240.75h0.8M135.56 249.06h0.8M139.86 257.42h0.8M141.33 249.37h0.8M141.55 241.98h0.8M137.18 266.08h0.8M145.64 242.13h0.8M137.28 254.97h0.8M140.76 248.27h0.8M146.56 244.77h0.8M137.01 255.5h0.8M138.46 253.44h0.8" stroke="#333" stroke-width="0.8" stroke-opacity="1" fill="none"/>
<path d="M138 250.89h0.9M147.74 246.62h0.9M142.81 251.96h0.9M143.32 251.84h0.9M144.9 249.7h0.9M140.51 253.23h0.9M143.57 245.07h0.9M144.92 250.89h0.9M145.52 252.46h0.9M139.7 250.91h0.9M144.77 256.66h0.9M142.51 255.06h0.9M146.44 253.63h0.9M146.75 255.1h0.9M140.48 247.39h0.9M140.82 259.41h0.9M146.05 248.76h0.9M142.9 260.88h0.9M140.83 252.51h0.9M142.06 255.94h0.9M138.04 253.83h0.9M143.47 257.12h0.9M144.1 254.04h0.9M140.5 253.62h0.9M141.65 259.83h0.9M143.83 252.64h0.9M143.39 252.8h0.9M141.96 255.14h0.9M142.96 248.86h0.9M145.32 255.56h0.9M145.96 250.84h0.9M145.45 258.67h0.9M144.71 254.15h0.9M142.88 246.14h0.9M140.34 252.26h0.9M145.74 254.67h0.9M141.61 253.4h0.9M142.71 249.56h0.9M142.91 255.99h0.9M140.03 250.85h0.9M142.9 248.4h0.9M140.58 254.35h0.9M148.61 252.86h0.9M141.66 258.99h0.9M143.39 244.85h0.9M141.57 244.67h0.9M142.18 258.46h0.9M148.31 265.89h0.9M145.59 251.21h0.9M141.33 250.94h0.9M140.2 248.77h0.9M143.93 253.09h0.9M143.51 251.91h0.9M139.15 254.83h0.9M143.06 255.85h0.9M143.43 248.51h0.9M145.48 255.75h0.9M142.35 255.47h0.9M144.19 250.64h0.9M143.61 249.5h0.9M146.52 250.76h0.9M145.52 259.87h0.9M143.18 255.3h0.9M146.85 244.97h0.9M148.59 255.04h0.9M139.87 253.23h0.9M148.62 253.01h0.9M146.61 256.9h0.9M141.36 254.08h0.9M147.55 249.41h0.9M143.3 250.36h0.9M141.65 251.8h0.9M137.5 250.03h0.9M138.58 248.72h0.9M141.54 256.8h0.9M140.18 256.16h0.9M141.96 249.47h0.9M138.64 253.24h0.9M142.81 255.81h0.9M141.42 244.21h0.9M144.46 258.05h0.9M143.1 253.13h0.9M144.32 253.68h0.9M149.74 252.2h0.9M144.36 256.27h0.9M144.42 245.71h0.9M144.07 251.28h0.9M140.45 256.41h0.9M141.31 254.28h0.9M141.22 255.06h0.9M146.5 249.19h0.9M140.98 256.42h0.9M140.7 256.91h0.9M144.03 248.96h0.9M141.58 258h0.9M145.23 253.26h0.9M143.61 257.08h0.9M141.45 254.06h0.9M144.23 258.05h0.9M142.08 251.92h0.9M143.73 251.78h0.9M142.38 254.9h0.9M141.77 251.56h0.9M143.72 253.16h0.9M142.08 252.32h0.9M139.9 249.66h0.9M141.18 248.25h0.9M146.95 261.18h0.9M142.41 252.29h0.9M142.68 251.22h0.9M141.57 256.33h0.9M144.4 247.46h0.9M143.58 249.32h0.9M144.66 249.58h0.9M143.82 249.69h0.9M142.54 254.14h0.9M144.81 247.11h0.9M141.61 249.36h0.9M138.64 253.64h0.9M142.46 251.47h0.9M140.92 259.84h0.9M140.73 242.1h0.9M142.1 253.83h0.9M140.23 252.11h0.9M137.05 251.62h0.9M143.17 248.86h0.9M140.17 248.37h0.9M141.64 256.89h0.9M143.28 250.14h0.9M141.73 255.79h0.9M141.27 249.04h0.9M145.01 252.62h0.9M146.42 251.66h0.9M142.22 254.34h0.9M143.51 252.78h0.9M140.57 249.93h0.9M141.03 250.62h0.9M146.33 248.98h0.9M144.21 254.39h0.9M138.99 256.72h0.9M143.6 254.12h0.9M143.52 256.63h0.9M144.01 249.99h0.9M141.39 249.16h0.9M140.98 249.17h0.9M143.6 256.52h0.9M142.48 256.75h0.9M145.92 255.36h0.9M138.76 242.23h0.9M145.79 254.59h0.9M139.37 249.63h0.9M143.59 252.53h0.9M139.67 252.39h0.9M139.19 251.59h0.9M144.6 253.69h0.9M141.5 255.13h0.9M148.01 251.46h0.9M143.34 246.83h0.9M145.04 246.11h0.9M142.43 256.26h0.9M140.91 242.85h0.9M142.24 246.7h0.9M148.81 257.36h0.9M140.43 251.34h0.9M143.16 256.51h0.9M146.61 255.26h0.9M139.7 239.87h0.9M139.01 247.9h0.9M144.99 247.21h0.9M146.33 255.75h0.9M143.2 255.92h0.9M141.15 256.78h0.9M143.26 250.19h0.9M140.95 244.17h0.9M142.15 254.71h0.9M141.94 250.72h0.9M147.46 264.15h0.9M139.49 257.58h0.9M142.93 252.48h0.9M140.86 251.5h0.9M143.79 254.26h0.9M141.51 250.39h0.9M144.68 258.64h0.9M141.89 254.64h0.9M144.92 254.01h0.9M140.61 252.66h0.9M143.22 248.04h0.9M143.14 252.5h0.9M141.18 259.22h0.9M143.8 249.11h0.9M146.11 251.38h0.9M140.39 247.72h0.9M145.79 247.78h0.9M143.87 254.43h0.9M141.53 255.56h0.9M145.71 252.27h0.9M143.01 255.26h0.9M143.21 257.88h0.9M144.99 252.91h0.9M143.6 250.96h0.9M144.74 249.6h0.9M142.92 247.47h0.9M149.22 253.76h0.9M143.16 254.44h0.9M138.68 258.44h0.9M138.75 255.09h0.9M142.01 255.59h0.9M144.69 253.6h0.9M145.64 251.3h0.9M143.65 251.29h0.9M141.24 248.16h0.9M143.99 259.5h0.9M140.82 250.56h0.9M141.21 254.14h0.9M137.82 253.21h0.9M141.1 248.47h0.9M143.65 253.35h0.9M143.78 257.49h0.9M139.36 257.05h0.9M144.42 262.43h0.9M146.62 254.64h0.9M137.96 253.59h0.9M147.01 255.91h0.9M142.83 247.54h0.9M143.16 246.59h0.9M140.96 250.89h0.9M144.1 249.96h0.9M142.85 252.43h0.9M143.72 255.03h0.9M144.26 251.39h0.9M143.44 249.99h0.9M139.86 250.19h0.9M142.97 244.29h0.9M145.04 254.01h0.9M138.92 248.33h0.9M140.69 243.23h0.9M138.47 254.25h0.9M137.79 261.5h0.9M146.68 258.89h0.9M144.32 257.29h0.9M146.48 248.57h0.9M147.14 249.31h0.9M142.09 241.8h0.9M142.15 245.52h0.9M148.95 254.05h0.9M145.35 250.54h0.9M145.47 254.76h0.9M142.01 254.75h0.9M141.92 247.24h0.9M137.7 245.85h0.9M144.57 260.55h0.9M141.78 250.03h0.9M146.46 251.88h0.9M143.9 252.6h0.9M136.6 246.94h0.9M143.84 252.93h0.9M142.27 247.03h0.9M143.37 251.33h0.9M140.38 251.55h0.9" stroke="#111" stroke-width="0.9" stroke-opacity="1" fill="none"/>
<rect x="136" y="240.5" width="15" height="21.5" fill="none" stroke="#d43a3f" stroke-width="1.5"/>
<rect x="151" y="240.5" width="26" height="21.5" fill="none" stroke="#d43a3f" stroke-width="1.5"/>
<rect x="136" y="262" width="15" height="21.2" fill="none" stroke="#d43a3f" stroke-width="1.5"/>
<text x="136.4" y="230.3" font-size="7.2" font-family='"Liberation Serif", serif' font-weight="bold" text-anchor="start" fill="#000" textLength="11.3" lengthAdjust="spacingAndGlyphs">ST-</text>
<text x="136.4" y="238.6" font-size="7.2" font-family='"Liberation Serif", serif' font-weight="bold" text-anchor="start" fill="#000" textLength="14.8" lengthAdjust="spacingAndGlyphs">HSC</text>
<text x="157" y="238.6" font-size="7.2" font-family='"Liberation Serif", serif' font-weight="bold" text-anchor="start" fill="#000" textLength="15.7" lengthAdjust="spacingAndGlyphs">MPP</text>
<text x="152.5" y="272" font-size="7.2" font-family='"Liberation Serif", serif' font-weight="bold" text-anchor="start" fill="#000" textLength="11" lengthAdjust="spacingAndGlyphs">LT-</text>
<text x="152.5" y="280.3" font-size="7.2" font-family='"Liberation Serif", serif' font-weight="bold" text-anchor="start" fill="#000" textLength="14" lengthAdjust="spacingAndGlyphs">HSC</text>
<text x="0" y="0" font-size="10" font-family='"Liberation Serif", serif' text-anchor="middle" fill="#000" transform="translate(35,256.5) rotate(-90)" textLength="24" lengthAdjust="spacingAndGlyphs">CD34</text>
<text x="62" y="304.5" font-size="10.5" font-family='"Liberation Serif", serif' text-anchor="start" fill="#000" textLength="22" lengthAdjust="spacingAndGlyphs">FLT3</text>
<text x="148" y="304.5" font-size="10.5" font-family='"Liberation Serif", serif' text-anchor="start" fill="#000" textLength="22" lengthAdjust="spacingAndGlyphs">FLT3</text>
<text x="251.5" y="211" font-size="9.5" font-family='"Liberation Serif", serif' font-weight="bold" text-anchor="middle" fill="#000">HOXA9</text>
<line x1="230" y1="285" x2="230" y2="214.02" stroke="#c8c8c8" stroke-width="0.8"/>
<line x1="230" y1="285" x2="320" y2="285" stroke="#c8c8c8" stroke-width="0.8"/>
<text x="228" y="287.6" font-size="7.6" font-family='"Liberation Serif", serif' text-anchor="end" fill="#000">0</text>
<text x="228" y="275.77" font-size="7.6" font-family='"Liberation Serif", serif' text-anchor="end" fill="#000">10</text>
<text x="228" y="263.94" font-size="7.6" font-family='"Liberation Serif", serif' text-anchor="end" fill="#000">20</text>
<text x="228" y="252.11" font-size="7.6" font-family='"Liberation Serif", serif' text-anchor="end" fill="#000">30</text>
<text x="228" y="240.28" font-size="7.6" font-family='"Liberation Serif", serif' text-anchor="end" fill="#000">40</text>
<text x="228" y="228.45" font-size="7.6" font-family='"Liberation Serif", serif' text-anchor="end" fill="#000">50</text>
<text x="228" y="216.62" font-size="7.6" font-family='"Liberation Serif", serif' text-anchor="end" fill="#000">60</text>
<rect x="234" y="249" width="11" height="36" fill="#4a6cb6"/>
<line x1="239.5" y1="245" x2="239.5" y2="253" stroke="#111" stroke-width="0.8"/>
<line x1="237.9" y1="245" x2="241.1" y2="245" stroke="#111" stroke-width="0.8"/>
<line x1="237.9" y1="253" x2="241.1" y2="253" stroke="#111" stroke-width="0.8"/>
<rect x="248" y="259" width="11" height="26" fill="#d8262c"/>
<line x1="253.5" y1="253.5" x2="253.5" y2="264.5" stroke="#111" stroke-width="0.8"/>
<line x1="251.9" y1="253.5" x2="255.1" y2="253.5" stroke="#111" stroke-width="0.8"/>
<line x1="251.9" y1="264.5" x2="255.1" y2="264.5" stroke="#111" stroke-width="0.8"/>
<rect x="264.5" y="227" width="10.5" height="58" fill="#4a6cb6"/>
<line x1="269.75" y1="223.5" x2="269.75" y2="230.5" stroke="#111" stroke-width="0.8"/>
<line x1="268.15" y1="223.5" x2="271.35" y2="223.5" stroke="#111" stroke-width="0.8"/>
<line x1="268.15" y1="230.5" x2="271.35" y2="230.5" stroke="#111" stroke-width="0.8"/>
<rect x="277" y="218" width="11" height="67" fill="#d8262c"/>
<line x1="282.5" y1="213" x2="282.5" y2="223" stroke="#111" stroke-width="0.8"/>
<line x1="280.9" y1="213" x2="284.1" y2="213" stroke="#111" stroke-width="0.8"/>
<line x1="280.9" y1="223" x2="284.1" y2="223" stroke="#111" stroke-width="0.8"/>
<rect x="292.5" y="268" width="11" height="17" fill="#4a6cb6"/>
<line x1="298" y1="261" x2="298" y2="275" stroke="#111" stroke-width="0.8"/>
<line x1="296.4" y1="261" x2="299.6" y2="261" stroke="#111" stroke-width="0.8"/>
<line x1="296.4" y1="275" x2="299.6" y2="275" stroke="#111" stroke-width="0.8"/>
<rect x="306" y="265" width="11.5" height="20" fill="#d8262c"/>
<line x1="311.75" y1="258.5" x2="311.75" y2="271.5" stroke="#111" stroke-width="0.8"/>
<line x1="310.15" y1="258.5" x2="313.35" y2="258.5" stroke="#111" stroke-width="0.8"/>
<line x1="310.15" y1="271.5" x2="313.35" y2="271.5" stroke="#111" stroke-width="0.8"/>
<text x="0" y="0" font-size="10" font-family='"Liberation Serif", serif' font-weight="bold" text-anchor="middle" fill="#000" transform="translate(214.5,254) rotate(-90)">% of LSK</text>
<text x="0" y="0" font-size="9.5" font-family='"Liberation Serif", serif' font-weight="bold" text-anchor="start" fill="#000" transform="translate(240,292.5) rotate(40)">LT-HSC</text>
<text x="0" y="0" font-size="9.5" font-family='"Liberation Serif", serif' font-weight="bold" text-anchor="start" fill="#000" transform="translate(271,292.5) rotate(40)">ST-HSC</text>
<text x="0" y="0" font-size="9.5" font-family='"Liberation Serif", serif' font-weight="bold" text-anchor="start" fill="#000" transform="translate(302,292.5) rotate(40)">MPP</text>
<text x="380.75" y="209" font-size="9.5" font-family='"Liberation Serif", serif' font-weight="bold" text-anchor="middle" fill="#000">NUP98-HOXA9</text>
<line x1="346" y1="284.5" x2="346" y2="214" stroke="#c8c8c8" stroke-width="0.8"/>
<line x1="346" y1="284.5" x2="437" y2="284.5" stroke="#c8c8c8" stroke-width="0.8"/>
<text x="344" y="287.1" font-size="7.6" font-family='"Liberation Serif", serif' text-anchor="end" fill="#000">0</text>
<text x="344" y="275.35" font-size="7.6" font-family='"Liberation Serif", serif' text-anchor="end" fill="#000">10</text>
<text x="344" y="263.6" font-size="7.6" font-family='"Liberation Serif", serif' text-anchor="end" fill="#000">20</text>
<text x="344" y="251.85" font-size="7.6" font-family='"Liberation Serif", serif' text-anchor="end" fill="#000">30</text>
<text x="344" y="240.1" font-size="7.6" font-family='"Liberation Serif", serif' text-anchor="end" fill="#000">40</text>
<text x="344" y="228.35" font-size="7.6" font-family='"Liberation Serif", serif' text-anchor="end" fill="#000">50</text>
<text x="344" y="216.6" font-size="7.6" font-family='"Liberation Serif", serif' text-anchor="end" fill="#000">60</text>
<rect x="350" y="252.5" width="11" height="32" fill="#4a6cb6"/>
<line x1="355.5" y1="247" x2="355.5" y2="258" stroke="#111" stroke-width="0.8"/>
<line x1="353.9" y1="247" x2="357.1" y2="247" stroke="#111" stroke-width="0.8"/>
<line x1="353.9" y1="258" x2="357.1" y2="258" stroke="#111" stroke-width="0.8"/>
<rect x="365" y="262" width="10.5" height="22.5" fill="#d8262c"/>
<line x1="370.25" y1="258.5" x2="370.25" y2="265.5" stroke="#111" stroke-width="0.8"/>
<line x1="368.65" y1="258.5" x2="371.85" y2="258.5" stroke="#111" stroke-width="0.8"/>
<line x1="368.65" y1="265.5" x2="371.85" y2="265.5" stroke="#111" stroke-width="0.8"/>
<rect x="379.5" y="233" width="11.5" height="51.5" fill="#4a6cb6"/>
<line x1="385.25" y1="228.5" x2="385.25" y2="237.5" stroke="#111" stroke-width="0.8"/>
<line x1="383.65" y1="228.5" x2="386.85" y2="228.5" stroke="#111" stroke-width="0.8"/>
<line x1="383.65" y1="237.5" x2="386.85" y2="237.5" stroke="#111" stroke-width="0.8"/>
<rect x="393" y="220" width="12" height="64.5" fill="#d8262c"/>
<line x1="399" y1="216" x2="399" y2="224" stroke="#111" stroke-width="0.8"/>
<line x1="397.4" y1="216" x2="400.6" y2="216" stroke="#111" stroke-width="0.8"/>
<line x1="397.4" y1="224" x2="400.6" y2="224" stroke="#111" stroke-width="0.8"/>
<rect x="410" y="272" width="10.5" height="12.5" fill="#4a6cb6"/>
<line x1="415.25" y1="270.5" x2="415.25" y2="273.5" stroke="#111" stroke-width="0.8"/>
<line x1="413.65" y1="270.5" x2="416.85" y2="270.5" stroke="#111" stroke-width="0.8"/>
<line x1="413.65" y1="273.5" x2="416.85" y2="273.5" stroke="#111" stroke-width="0.8"/>
<rect x="424" y="271" width="11" height="13.5" fill="#d8262c"/>
<line x1="429.5" y1="269.5" x2="429.5" y2="272.5" stroke="#111" stroke-width="0.8"/>
<line x1="427.9" y1="269.5" x2="431.1" y2="269.5" stroke="#111" stroke-width="0.8"/>
<line x1="427.9" y1="272.5" x2="431.1" y2="272.5" stroke="#111" stroke-width="0.8"/>
<text x="0" y="0" font-size="9.5" font-family='"Liberation Serif", serif' font-weight="bold" text-anchor="start" fill="#000" transform="translate(355,293.5) rotate(40)">LT-HSC</text>
<text x="0" y="0" font-size="9.5" font-family='"Liberation Serif", serif' font-weight="bold" text-anchor="start" fill="#000" transform="translate(386,293.5) rotate(40)">ST-HSC</text>
<text x="0" y="0" font-size="9.5" font-family='"Liberation Serif", serif' font-weight="bold" text-anchor="start" fill="#000" transform="translate(418,293.5) rotate(40)">MPP</text>
<rect x="418" y="231.5" width="6" height="6" fill="#4a6cb6"/>
<text x="427" y="237.5" font-size="9.5" font-family='"Liberation Serif", serif' text-anchor="start" fill="#000">Wt</text>
<rect x="418" y="243.5" width="6" height="6" fill="#d8262c"/>
<text x="427" y="249.5" font-size="9.5" font-family='"Liberation Serif", serif' text-anchor="start" fill="#000">Smad4<tspan font-size="5.7" dy="-3.32">-/-</tspan></text>
<rect x="47.3" y="334.6" width="56.6" height="57.2" fill="none" stroke="#7a7a7a" stroke-width="0.9"/>
<text x="45.3" y="337.8" font-size="4.8" font-family='"Liberation Sans", sans-serif' text-anchor="end" fill="#333">1000</text>
<text x="45.3" y="349.3" font-size="4.8" font-family='"Liberation Sans", sans-serif' text-anchor="end" fill="#333">800</text>
<text x="45.3" y="360.8" font-size="4.8" font-family='"Liberation Sans", sans-serif' text-anchor="end" fill="#333">600</text>
<text x="45.3" y="371.3" font-size="4.8" font-family='"Liberation Sans", sans-serif' text-anchor="end" fill="#333">400</text>
<text x="45.3" y="382.3" font-size="4.8" font-family='"Liberation Sans", sans-serif' text-anchor="end" fill="#333">200</text>
<text x="45.3" y="393.3" font-size="4.8" font-family='"Liberation Sans", sans-serif' text-anchor="end" fill="#333">0</text>
<text x="47.5" y="398.5" font-size="4.8" font-family='"Liberation Sans", sans-serif' text-anchor="middle" fill="#333">0</text>
<text x="57" y="398.5" font-size="4.8" font-family='"Liberation Sans", sans-serif' text-anchor="middle" fill="#333">200</text>
<text x="67.5" y="398.5" font-size="4.8" font-family='"Liberation Sans", sans-serif' text-anchor="middle" fill="#333">400</text>
<text x="79.5" y="398.5" font-size="4.8" font-family='"Liberation Sans", sans-serif' text-anchor="middle" fill="#333">600</text>
<text x="90.5" y="398.5" font-size="4.8" font-family='"Liberation Sans", sans-serif' text-anchor="middle" fill="#333">800</text>
<text x="101" y="398.5" font-size="4.8" font-family='"Liberation Sans", sans-serif' text-anchor="middle" fill="#333">1000</text>
<path d="M63.31 371.57h0.7M72.12 367.75h0.7M71.24 369.9h0.7M67.6 372.2h0.7M60.99 371.19h0.7M65.75 362.41h0.7M67.1 371.28h0.7M68.86 368.92h0.7M69.29 363.21h0.7M70.78 366.86h0.7M62.06 360.69h0.7M61.64 364.54h0.7M62.31 366.54h0.7M61.71 369.36h0.7M71.8 370.01h0.7M63.91 368.32h0.7M64.98 363.79h0.7M62.13 369.76h0.7M66.06 361.1h0.7M63.95 361.28h0.7M66.98 370.62h0.7M73.58 365.73h0.7M62.24 369.97h0.7M71.01 359.65h0.7M69.34 367.03h0.7" stroke="#555" stroke-width="0.7" stroke-opacity="1" fill="none"/>
<path d="M62.74 376.98h0.7M64.26 383.03h0.7M62.51 378.61h0.7M61.44 384.04h0.7M61.31 385.1h0.7M63.6 389.63h0.7M63.47 382.6h0.7M63.59 380.76h0.7M64.49 380.98h0.7M61.44 388.69h0.7M63.15 377.65h0.7M61.62 379.74h0.7M60.31 375.91h0.7M64.36 384.17h0.7M60.81 382.48h0.7M63.98 377.87h0.7M61.41 382.64h0.7M62.08 389.91h0.7M61.87 384.25h0.7M60.69 378.66h0.7" stroke="#555" stroke-width="0.7" stroke-opacity="1" fill="none"/>
<path d="M72.98 378.89h0.7M68.33 386.39h0.7M73.4 380.08h0.7M69.86 382.7h0.7M70.97 380.98h0.7M71.88 387.39h0.7M68.32 381.34h0.7M70.98 387.46h0.7M68.66 389.56h0.7M70.05 376.74h0.7M70.32 376.36h0.7M70.06 375.81h0.7M70.02 381.22h0.7M71.77 388.54h0.7M71.28 387.33h0.7M69.44 377.88h0.7M72.67 387.04h0.7M70.62 386.66h0.7M68.59 387.79h0.7M69.72 381.93h0.7" stroke="#555" stroke-width="0.7" stroke-opacity="1" fill="none"/>
<rect x="59.2" y="348.2" width="15.4" height="25.6" fill="none" stroke="#4f6fb8" stroke-width="1.6" rx="1.2"/>
<rect x="59.2" y="374.4" width="6.5" height="16.6" fill="none" stroke="#4f6fb8" stroke-width="1.6" rx="0.8"/>
<rect x="67.3" y="374.4" width="7.3" height="16.6" fill="none" stroke="#4f6fb8" stroke-width="1.6" rx="0.8"/>
<text x="76" y="363.6" font-size="7.4" font-family='"Liberation Serif", serif' font-weight="bold" text-anchor="start" fill="#000">S</text>
<text x="48.8" y="381.4" font-size="7.4" font-family='"Liberation Serif", serif' font-weight="bold" text-anchor="start" fill="#000" textLength="9.2" lengthAdjust="spacingAndGlyphs">G0</text>
<text x="48.8" y="390.6" font-size="7.4" font-family='"Liberation Serif", serif' font-weight="bold" text-anchor="start" fill="#000" textLength="9.2" lengthAdjust="spacingAndGlyphs">G1</text>
<text x="76" y="381.4" font-size="7.4" font-family='"Liberation Serif", serif' font-weight="bold" text-anchor="start" fill="#000" textLength="8.4" lengthAdjust="spacingAndGlyphs">G2</text>
<text x="76" y="390.6" font-size="7.4" font-family='"Liberation Serif", serif' font-weight="bold" text-anchor="start" fill="#000">M</text>
<rect x="134.3" y="334.6" width="55.1" height="57.2" fill="none" stroke="#7a7a7a" stroke-width="0.9"/>
<text x="132.3" y="337.8" font-size="4.8" font-family='"Liberation Sans", sans-serif' text-anchor="end" fill="#333">1000</text>
<text x="132.3" y="349.3" font-size="4.8" font-family='"Liberation Sans", sans-serif' text-anchor="end" fill="#333">800</text>
<text x="132.3" y="360.8" font-size="4.8" font-family='"Liberation Sans", sans-serif' text-anchor="end" fill="#333">600</text>
<text x="132.3" y="371.3" font-size="4.8" font-family='"Liberation Sans", sans-serif' text-anchor="end" fill="#333">400</text>
<text x="132.3" y="382.3" font-size="4.8" font-family='"Liberation Sans", sans-serif' text-anchor="end" fill="#333">200</text>
<text x="132.3" y="393.3" font-size="4.8" font-family='"Liberation Sans", sans-serif' text-anchor="end" fill="#333">0</text>
<text x="134.5" y="398.5" font-size="4.8" font-family='"Liberation Sans", sans-serif' text-anchor="middle" fill="#333">0</text>
<text x="144" y="398.5" font-size="4.8" font-family='"Liberation Sans", sans-serif' text-anchor="middle" fill="#333">200</text>
<text x="154.5" y="398.5" font-size="4.8" font-family='"Liberation Sans", sans-serif' text-anchor="middle" fill="#333">400</text>
<text x="166.5" y="398.5" font-size="4.8" font-family='"Liberation Sans", sans-serif' text-anchor="middle" fill="#333">600</text>
<text x="177.5" y="398.5" font-size="4.8" font-family='"Liberation Sans", sans-serif' text-anchor="middle" fill="#333">800</text>
<text x="188" y="398.5" font-size="4.8" font-family='"Liberation Sans", sans-serif' text-anchor="middle" fill="#333">1000</text>
<path d="M158.19 368.72h0.7M153.04 361.96h0.7M150.33 361.27h0.7M147.99 365.37h0.7M155.98 362.03h0.7M155.08 367.04h0.7M151.86 363.27h0.7M157.63 359.63h0.7M149.83 361.4h0.7M149.59 366.48h0.7M154.46 362.1h0.7M154.59 354.23h0.7M155.76 358.23h0.7M155.46 360.16h0.7M154.48 367.15h0.7M147.23 373.14h0.7M147.37 361.24h0.7M154.77 366.75h0.7M153.1 361.9h0.7M155.18 365.49h0.7M151.15 369.41h0.7M157.92 360.51h0.7M150.9 358.11h0.7M148.03 364.52h0.7M155.78 356.12h0.7M151.49 365.3h0.7M150.24 368.11h0.7M154.48 363.3h0.7M156.53 365.44h0.7M156.28 366.8h0.7M151.43 371.47h0.7M149.92 365.59h0.7M151.18 359.31h0.7M147.74 369.69h0.7M157.17 369.34h0.7M152.75 366.77h0.7M153.31 366.74h0.7M154.01 369.28h0.7M152.9 360.85h0.7M152.27 362.97h0.7M149.67 372.76h0.7M147.29 369.92h0.7M151.3 362.97h0.7M152.59 366.06h0.7M146.14 366.23h0.7M151.76 363.47h0.7M152.42 362.99h0.7M156.24 359.03h0.7M149.62 366.24h0.7M151.64 368.4h0.7M152.6 372.85h0.7M155.97 358.8h0.7M156.15 359.25h0.7M153.45 361.71h0.7M147.38 367.84h0.7M154.36 361.97h0.7M149.32 359.61h0.7M151.82 369.36h0.7M150.74 363.29h0.7M150.89 357.22h0.7M150.97 360.33h0.7M156.56 364.48h0.7M156.88 363.2h0.7M152.92 370.85h0.7M153.96 364.01h0.7M154.05 365.37h0.7M156.37 360.46h0.7M150.68 358.99h0.7M156.63 366.94h0.7M151.24 366.54h0.7M152.04 358.71h0.7M156.53 362.04h0.7M146.81 368.64h0.7M149.34 361.54h0.7M158.39 351.45h0.7M155.14 362.33h0.7M152.96 360.44h0.7M153.41 366.95h0.7M151.26 367.73h0.7M155.01 357.6h0.7M158.72 364.42h0.7M155.41 370.99h0.7M149.17 358.15h0.7M151.09 373.12h0.7M158.05 367.86h0.7M148.92 361.61h0.7M151.62 364.13h0.7M148.28 363.79h0.7M150.63 365.92h0.7M148.91 360.79h0.7M152.8 367.02h0.7M152.61 364.47h0.7M151.78 360.4h0.7M150.8 359.1h0.7M154.2 365.61h0.7M151.73 359.13h0.7M150.88 362.71h0.7M155.93 361.8h0.7M153.05 360.15h0.7M154.62 362.17h0.7M149.3 353.7h0.7M151.11 361.73h0.7M156.41 357.09h0.7M150.17 357.2h0.7M155.04 364.92h0.7M150.99 366.67h0.7M152.84 361.03h0.7M152.09 366.59h0.7M155.57 372.51h0.7M153.29 363.86h0.7" stroke="#444" stroke-width="0.7" stroke-opacity="1" fill="none"/>
<path d="M148.2 380.19h0.7M146.52 378.3h0.7M147.62 377.56h0.7M147 384.92h0.7M145.5 382.15h0.7M145.97 376.53h0.7M148.28 376.34h0.7M146.15 389.39h0.7M145.66 382.14h0.7M147.97 383.95h0.7M148.89 382h0.7M148.59 379.65h0.7M146.85 389.93h0.7M146.99 384.42h0.7M148.47 388.27h0.7M148.71 376.33h0.7M146.77 389.13h0.7M146.78 379.21h0.7M146.36 387.8h0.7M147.48 381.36h0.7" stroke="#555" stroke-width="0.7" stroke-opacity="1" fill="none"/>
<path d="M154.14 379.76h0.7M154.5 382.89h0.7M153.33 383.5h0.7M156.58 386.49h0.7M156.28 386.65h0.7M154.02 387.64h0.7M154.28 380.83h0.7M156.62 377.47h0.7M157.9 387.36h0.7M157.3 380.62h0.7M154.1 378.69h0.7M154.36 384.83h0.7M154.42 383.91h0.7M157.61 388.38h0.7M157.48 380.59h0.7M157.36 389.3h0.7M156.92 377.17h0.7M156.2 382.63h0.7M153.09 380.07h0.7M158.13 382.61h0.7" stroke="#555" stroke-width="0.7" stroke-opacity="1" fill="none"/>
<rect x="144.5" y="347.5" width="15.5" height="27" fill="none" stroke="#d43a3f" stroke-width="1.6" rx="1.2"/>
<rect x="144.5" y="375" width="5.5" height="16" fill="none" stroke="#d43a3f" stroke-width="1.6" rx="0.8"/>
<rect x="152" y="375" width="8" height="16" fill="none" stroke="#d43a3f" stroke-width="1.6" rx="0.8"/>
<text x="161" y="363.6" font-size="7.4" font-family='"Liberation Serif", serif' font-weight="bold" text-anchor="start" fill="#000">S</text>
<text x="134" y="381.4" font-size="7.4" font-family='"Liberation Serif", serif' font-weight="bold" text-anchor="start" fill="#000" textLength="9.2" lengthAdjust="spacingAndGlyphs">G0</text>
<text x="134" y="390.6" font-size="7.4" font-family='"Liberation Serif", serif' font-weight="bold" text-anchor="start" fill="#000" textLength="9.2" lengthAdjust="spacingAndGlyphs">G1</text>
<text x="161" y="381.4" font-size="7.4" font-family='"Liberation Serif", serif' font-weight="bold" text-anchor="start" fill="#000" textLength="8.4" lengthAdjust="spacingAndGlyphs">G2</text>
<text x="161" y="390.6" font-size="7.4" font-family='"Liberation Serif", serif' font-weight="bold" text-anchor="start" fill="#000">M</text>
<text x="0" y="0" font-size="10" font-family='"Liberation Serif", serif' text-anchor="middle" fill="#000" transform="translate(34,364.5) rotate(-90)" textLength="21" lengthAdjust="spacingAndGlyphs">BrdU</text>
<text x="61" y="410" font-size="10" font-family='"Liberation Serif", serif' text-anchor="start" fill="#000" textLength="28" lengthAdjust="spacingAndGlyphs">7-AAD</text>
<text x="147.5" y="410" font-size="10" font-family='"Liberation Serif", serif' text-anchor="start" fill="#000" textLength="28.5" lengthAdjust="spacingAndGlyphs">7-AAD</text>
<text x="249.25" y="333" font-size="9.5" font-family='"Liberation Serif", serif' font-weight="bold" text-anchor="middle" fill="#000">HOXA9</text>
<line x1="229.5" y1="404" x2="229.5" y2="337.52" stroke="#c8c8c8" stroke-width="0.8"/>
<line x1="229.5" y1="404" x2="318" y2="404" stroke="#c8c8c8" stroke-width="0.8"/>
<text x="227.5" y="406.6" font-size="7.6" font-family='"Liberation Serif", serif' text-anchor="end" fill="#000">0</text>
<text x="227.5" y="389.98" font-size="7.6" font-family='"Liberation Serif", serif' text-anchor="end" fill="#000">20</text>
<text x="227.5" y="373.36" font-size="7.6" font-family='"Liberation Serif", serif' text-anchor="end" fill="#000">40</text>
<text x="227.5" y="356.74" font-size="7.6" font-family='"Liberation Serif", serif' text-anchor="end" fill="#000">60</text>
<text x="227.5" y="340.12" font-size="7.6" font-family='"Liberation Serif", serif' text-anchor="end" fill="#000">80</text>
<rect x="233" y="379" width="11" height="25" fill="#4a6cb6"/>
<line x1="238.5" y1="376" x2="238.5" y2="382" stroke="#111" stroke-width="0.8"/>
<line x1="236.9" y1="376" x2="240.1" y2="376" stroke="#111" stroke-width="0.8"/>
<line x1="236.9" y1="382" x2="240.1" y2="382" stroke="#111" stroke-width="0.8"/>
<rect x="246" y="393" width="11" height="11" fill="#d8262c"/>
<line x1="251.5" y1="391.5" x2="251.5" y2="394.5" stroke="#111" stroke-width="0.8"/>
<line x1="249.9" y1="391.5" x2="253.1" y2="391.5" stroke="#111" stroke-width="0.8"/>
<line x1="249.9" y1="394.5" x2="253.1" y2="394.5" stroke="#111" stroke-width="0.8"/>
<rect x="262" y="378" width="10.5" height="26" fill="#4a6cb6"/>
<line x1="267.25" y1="376.5" x2="267.25" y2="379.5" stroke="#111" stroke-width="0.8"/>
<line x1="265.65" y1="376.5" x2="268.85" y2="376.5" stroke="#111" stroke-width="0.8"/>
<line x1="265.65" y1="379.5" x2="268.85" y2="379.5" stroke="#111" stroke-width="0.8"/>
<rect x="275" y="392.5" width="11" height="11.5" fill="#d8262c"/>
<line x1="280.5" y1="388.5" x2="280.5" y2="396.5" stroke="#111" stroke-width="0.8"/>
<line x1="278.9" y1="388.5" x2="282.1" y2="388.5" stroke="#111" stroke-width="0.8"/>
<line x1="278.9" y1="396.5" x2="282.1" y2="396.5" stroke="#111" stroke-width="0.8"/>
<rect x="290.5" y="379.5" width="10.5" height="24.5" fill="#4a6cb6"/>
<line x1="295.75" y1="379" x2="295.75" y2="380" stroke="#111" stroke-width="0.8"/>
<line x1="294.15" y1="379" x2="297.35" y2="379" stroke="#111" stroke-width="0.8"/>
<line x1="294.15" y1="380" x2="297.35" y2="380" stroke="#111" stroke-width="0.8"/>
<rect x="304" y="352.5" width="11" height="51.5" fill="#d8262c"/>
<line x1="309.5" y1="346" x2="309.5" y2="359" stroke="#111" stroke-width="0.8"/>
<line x1="307.9" y1="346" x2="311.1" y2="346" stroke="#111" stroke-width="0.8"/>
<line x1="307.9" y1="359" x2="311.1" y2="359" stroke="#111" stroke-width="0.8"/>
<polyline points="295.75,375 295.75,334 309.5,334 309.5,346" fill="none" stroke="#5a5a5a" stroke-width="0.9"/>
<text x="301.7" y="336.1" font-size="11.8" font-family='"Liberation Serif", serif' text-anchor="middle" fill="#1a1a1a" stroke="#1a1a1a" stroke-width="0.3">*</text>
<text x="0" y="0" font-size="10" font-family='"Liberation Serif", serif' font-weight="bold" text-anchor="middle" fill="#000" transform="translate(214,371) rotate(-90)">% of LSK</text>
<text x="0" y="0" font-size="9.5" font-family='"Liberation Serif", serif' font-weight="bold" text-anchor="start" fill="#000" transform="translate(241,409.5) rotate(47)">G0-G1</text>
<text x="0" y="0" font-size="9.5" font-family='"Liberation Serif", serif' font-weight="bold" text-anchor="start" fill="#000" transform="translate(269,409.5) rotate(47)">G2-M</text>
<text x="0" y="0" font-size="9.5" font-family='"Liberation Serif", serif' font-weight="bold" text-anchor="start" fill="#000" transform="translate(299,411.5) rotate(47)">S</text>
<text x="383.25" y="334" font-size="9.5" font-family='"Liberation Serif", serif' font-weight="bold" text-anchor="middle" fill="#000">NUP98-HOXA9</text>
<line x1="347.5" y1="404" x2="347.5" y2="337.28" stroke="#c8c8c8" stroke-width="0.8"/>
<line x1="347.5" y1="404" x2="435" y2="404" stroke="#c8c8c8" stroke-width="0.8"/>
<text x="345.5" y="406.6" font-size="7.6" font-family='"Liberation Serif", serif' text-anchor="end" fill="#000">0</text>
<text x="345.5" y="389.92" font-size="7.6" font-family='"Liberation Serif", serif' text-anchor="end" fill="#000">20</text>
<text x="345.5" y="373.24" font-size="7.6" font-family='"Liberation Serif", serif' text-anchor="end" fill="#000">40</text>
<text x="345.5" y="356.56" font-size="7.6" font-family='"Liberation Serif", serif' text-anchor="end" fill="#000">60</text>
<text x="345.5" y="339.88" font-size="7.6" font-family='"Liberation Serif", serif' text-anchor="end" fill="#000">80</text>
<rect x="351" y="379.5" width="11.5" height="24.5" fill="#4a6cb6"/>
<line x1="356.75" y1="379" x2="356.75" y2="380" stroke="#111" stroke-width="0.8"/>
<line x1="355.15" y1="379" x2="358.35" y2="379" stroke="#111" stroke-width="0.8"/>
<line x1="355.15" y1="380" x2="358.35" y2="380" stroke="#111" stroke-width="0.8"/>
<rect x="364.5" y="387" width="10.5" height="17" fill="#d8262c"/>
<line x1="369.75" y1="383.5" x2="369.75" y2="390.5" stroke="#111" stroke-width="0.8"/>
<line x1="368.15" y1="383.5" x2="371.35" y2="383.5" stroke="#111" stroke-width="0.8"/>
<line x1="368.15" y1="390.5" x2="371.35" y2="390.5" stroke="#111" stroke-width="0.8"/>
<rect x="379" y="383" width="11" height="21" fill="#4a6cb6"/>
<line x1="384.5" y1="380" x2="384.5" y2="386" stroke="#111" stroke-width="0.8"/>
<line x1="382.9" y1="380" x2="386.1" y2="380" stroke="#111" stroke-width="0.8"/>
<line x1="382.9" y1="386" x2="386.1" y2="386" stroke="#111" stroke-width="0.8"/>
<rect x="392.5" y="388" width="10.5" height="16" fill="#d8262c"/>
<line x1="397.75" y1="384.5" x2="397.75" y2="391.5" stroke="#111" stroke-width="0.8"/>
<line x1="396.15" y1="384.5" x2="399.35" y2="384.5" stroke="#111" stroke-width="0.8"/>
<line x1="396.15" y1="391.5" x2="399.35" y2="391.5" stroke="#111" stroke-width="0.8"/>
<rect x="408" y="371" width="11" height="33" fill="#4a6cb6"/>
<line x1="413.5" y1="368.5" x2="413.5" y2="373.5" stroke="#111" stroke-width="0.8"/>
<line x1="411.9" y1="368.5" x2="415.1" y2="368.5" stroke="#111" stroke-width="0.8"/>
<line x1="411.9" y1="373.5" x2="415.1" y2="373.5" stroke="#111" stroke-width="0.8"/>
<rect x="421" y="356" width="11.5" height="48" fill="#d8262c"/>
<line x1="426.75" y1="351.5" x2="426.75" y2="360.5" stroke="#111" stroke-width="0.8"/>
<line x1="425.15" y1="351.5" x2="428.35" y2="351.5" stroke="#111" stroke-width="0.8"/>
<line x1="425.15" y1="360.5" x2="428.35" y2="360.5" stroke="#111" stroke-width="0.8"/>
<polyline points="413.5,364 413.5,339 427,339 427,350" fill="none" stroke="#5a5a5a" stroke-width="0.9"/>
<text x="419.7" y="341.1" font-size="11.8" font-family='"Liberation Serif", serif' text-anchor="middle" fill="#1a1a1a" stroke="#1a1a1a" stroke-width="0.3">*</text>
<text x="0" y="0" font-size="9.5" font-family='"Liberation Serif", serif' font-weight="bold" text-anchor="start" fill="#000" transform="translate(359,408.5) rotate(47)">G0-G1</text>
<text x="0" y="0" font-size="9.5" font-family='"Liberation Serif", serif' font-weight="bold" text-anchor="start" fill="#000" transform="translate(386,408.5) rotate(47)">G2-M</text>
<text x="0" y="0" font-size="9.5" font-family='"Liberation Serif", serif' font-weight="bold" text-anchor="start" fill="#000" transform="translate(417,410.5) rotate(47)">S</text>
<rect x="442.7" y="353.5" width="6" height="6" fill="#4a6cb6"/>
<text x="451.7" y="359.5" font-size="9.5" font-family='"Liberation Serif", serif' text-anchor="start" fill="#000">Wt</text>
<rect x="442.7" y="365.5" width="6" height="6" fill="#d8262c"/>
<text x="451.7" y="371.5" font-size="9.5" font-family='"Liberation Serif", serif' text-anchor="start" fill="#000">Smad4<tspan font-size="5.7" dy="-3.32">-/-</tspan></text>
<text x="89.7" y="460" font-size="9.5" font-family='"Liberation Serif", serif' font-weight="bold" text-anchor="middle" fill="#000">HOXA9</text>
<line x1="58.8" y1="558" x2="58.8" y2="471.48" stroke="#c8c8c8" stroke-width="0.8"/>
<line x1="58.8" y1="558" x2="123.7" y2="558" stroke="#c8c8c8" stroke-width="0.8"/>
<text x="56.6" y="560.7" font-size="7.3" font-family='"Liberation Serif", serif' text-anchor="end" fill="#000">0</text>
<text x="56.6" y="546.28" font-size="7.3" font-family='"Liberation Serif", serif' text-anchor="end" fill="#000">200</text>
<text x="56.6" y="531.86" font-size="7.3" font-family='"Liberation Serif", serif' text-anchor="end" fill="#000">400</text>
<text x="56.6" y="517.44" font-size="7.3" font-family='"Liberation Serif", serif' text-anchor="end" fill="#000">600</text>
<text x="56.6" y="503.02" font-size="7.3" font-family='"Liberation Serif", serif' text-anchor="end" fill="#000">800</text>
<text x="56.6" y="488.6" font-size="7.3" font-family='"Liberation Serif", serif' text-anchor="end" fill="#000">1000</text>
<text x="56.6" y="474.18" font-size="7.3" font-family='"Liberation Serif", serif' text-anchor="end" fill="#000">1200</text>
<text x="58.8" y="569" font-size="8.5" font-family='"Liberation Serif", serif' font-weight="bold" text-anchor="middle" fill="#000">1</text>
<text x="90.4" y="569" font-size="8.5" font-family='"Liberation Serif", serif' font-weight="bold" text-anchor="middle" fill="#000">2</text>
<text x="122.7" y="569" font-size="8.5" font-family='"Liberation Serif", serif' font-weight="bold" text-anchor="middle" fill="#000">3</text>
<polyline points="58.8,547.18 90.4,529.16 122.7,524.11" fill="none" stroke="#4862ab" stroke-width="1.2"/>
<circle cx="58.8" cy="547.18" r="1.85" fill="#4862ab"/>
<circle cx="90.4" cy="529.16" r="1.85" fill="#4862ab"/>
<circle cx="122.7" cy="524.11" r="1.85" fill="#4862ab"/>
<polyline points="58.8,551.51 90.4,533.13 122.7,522.67" fill="none" stroke="#4862ab" stroke-width="1.2"/>
<circle cx="58.8" cy="551.51" r="1.85" fill="#4862ab"/>
<circle cx="90.4" cy="533.13" r="1.85" fill="#4862ab"/>
<circle cx="122.7" cy="522.67" r="1.85" fill="#4862ab"/>
<polyline points="58.8,554.03 90.4,548.99 122.7,524.11" fill="none" stroke="#4862ab" stroke-width="1.2"/>
<circle cx="58.8" cy="554.03" r="1.85" fill="#4862ab"/>
<circle cx="90.4" cy="548.99" r="1.85" fill="#4862ab"/>
<circle cx="122.7" cy="524.11" r="1.85" fill="#4862ab"/>
<polyline points="58.8,529.88 90.4,506.09 122.7,481.21" fill="none" stroke="#cc262e" stroke-width="1.2"/>
<circle cx="58.8" cy="529.88" r="1.85" fill="#cc262e"/>
<circle cx="90.4" cy="506.09" r="1.85" fill="#cc262e"/>
<circle cx="122.7" cy="481.21" r="1.85" fill="#cc262e"/>
<polyline points="58.8,527.72 90.4,519.07 122.7,496.72" fill="none" stroke="#cc262e" stroke-width="1.2"/>
<circle cx="58.8" cy="527.72" r="1.85" fill="#cc262e"/>
<circle cx="90.4" cy="519.07" r="1.85" fill="#cc262e"/>
<circle cx="122.7" cy="496.72" r="1.85" fill="#cc262e"/>
<polyline points="58.8,526.28 90.4,520.15 122.7,507.53" fill="none" stroke="#cc262e" stroke-width="1.2"/>
<circle cx="58.8" cy="526.28" r="1.85" fill="#cc262e"/>
<circle cx="90.4" cy="520.15" r="1.85" fill="#cc262e"/>
<circle cx="122.7" cy="507.53" r="1.85" fill="#cc262e"/>
<line x1="61.5" y1="476.6" x2="73" y2="476.6" stroke="#4a6cb6" stroke-width="1.3"/>
<circle cx="67.3" cy="476.6" r="1.7" fill="#4a6cb6"/>
<text x="74.7" y="479.8" font-size="9.4" font-family='"Liberation Serif", serif' text-anchor="start" fill="#000">Wt</text>
<line x1="61.5" y1="489.3" x2="73" y2="489.3" stroke="#d8262c" stroke-width="1.3"/>
<circle cx="67.3" cy="489.3" r="1.7" fill="#d8262c"/>
<text x="74.7" y="492.5" font-size="9.4" font-family='"Liberation Serif", serif' text-anchor="start" fill="#000">Smad4<tspan font-size="5.64" dy="-3.29">-/-</tspan></text>
<text x="200.9" y="460" font-size="9.5" font-family='"Liberation Serif", serif' font-weight="bold" text-anchor="middle" fill="#000">NUP98-HOXA9</text>
<line x1="165" y1="559.25" x2="165" y2="472.49" stroke="#c8c8c8" stroke-width="0.8"/>
<line x1="165" y1="559.25" x2="233.5" y2="559.25" stroke="#c8c8c8" stroke-width="0.8"/>
<text x="162.8" y="561.95" font-size="7.3" font-family='"Liberation Serif", serif' text-anchor="end" fill="#000">0</text>
<text x="162.8" y="551.11" font-size="7.3" font-family='"Liberation Serif", serif' text-anchor="end" fill="#000">500</text>
<text x="162.8" y="540.26" font-size="7.3" font-family='"Liberation Serif", serif' text-anchor="end" fill="#000">1000</text>
<text x="162.8" y="529.42" font-size="7.3" font-family='"Liberation Serif", serif' text-anchor="end" fill="#000">1500</text>
<text x="162.8" y="518.57" font-size="7.3" font-family='"Liberation Serif", serif' text-anchor="end" fill="#000">2000</text>
<text x="162.8" y="507.72" font-size="7.3" font-family='"Liberation Serif", serif' text-anchor="end" fill="#000">2500</text>
<text x="162.8" y="496.88" font-size="7.3" font-family='"Liberation Serif", serif' text-anchor="end" fill="#000">3000</text>
<text x="162.8" y="486.03" font-size="7.3" font-family='"Liberation Serif", serif' text-anchor="end" fill="#000">3500</text>
<text x="162.8" y="475.19" font-size="7.3" font-family='"Liberation Serif", serif' text-anchor="end" fill="#000">4000</text>
<text x="165" y="570.25" font-size="8.5" font-family='"Liberation Serif", serif' font-weight="bold" text-anchor="middle" fill="#000">1</text>
<text x="198.75" y="570.25" font-size="8.5" font-family='"Liberation Serif", serif' font-weight="bold" text-anchor="middle" fill="#000">2</text>
<text x="232.5" y="570.25" font-size="8.5" font-family='"Liberation Serif", serif' font-weight="bold" text-anchor="middle" fill="#000">3</text>
<polyline points="165,553.18 198.75,542.33 232.5,542.55" fill="none" stroke="#4862ab" stroke-width="1.2"/>
<circle cx="165" cy="553.18" r="1.85" fill="#4862ab"/>
<circle cx="198.75" cy="542.33" r="1.85" fill="#4862ab"/>
<circle cx="232.5" cy="542.55" r="1.85" fill="#4862ab"/>
<polyline points="165,554.26 198.75,545.8 232.5,545.8" fill="none" stroke="#4862ab" stroke-width="1.2"/>
<circle cx="165" cy="554.26" r="1.85" fill="#4862ab"/>
<circle cx="198.75" cy="545.8" r="1.85" fill="#4862ab"/>
<circle cx="232.5" cy="545.8" r="1.85" fill="#4862ab"/>
<polyline points="165,554.91 198.75,550.14 232.5,535.39" fill="none" stroke="#4862ab" stroke-width="1.2"/>
<circle cx="165" cy="554.91" r="1.85" fill="#4862ab"/>
<circle cx="198.75" cy="550.14" r="1.85" fill="#4862ab"/>
<circle cx="232.5" cy="535.39" r="1.85" fill="#4862ab"/>
<polyline points="165,551.01 198.75,529.97 232.5,479" fill="none" stroke="#cc262e" stroke-width="1.2"/>
<circle cx="165" cy="551.01" r="1.85" fill="#cc262e"/>
<circle cx="198.75" cy="529.97" r="1.85" fill="#cc262e"/>
<circle cx="232.5" cy="479" r="1.85" fill="#cc262e"/>
<polyline points="165,552.09 198.75,536.48 232.5,495.26" fill="none" stroke="#cc262e" stroke-width="1.2"/>
<circle cx="165" cy="552.09" r="1.85" fill="#cc262e"/>
<circle cx="198.75" cy="536.48" r="1.85" fill="#cc262e"/>
<circle cx="232.5" cy="495.26" r="1.85" fill="#cc262e"/>
<polyline points="165,552.74 198.75,536.91 232.5,497.43" fill="none" stroke="#cc262e" stroke-width="1.2"/>
<circle cx="165" cy="552.74" r="1.85" fill="#cc262e"/>
<circle cx="198.75" cy="536.91" r="1.85" fill="#cc262e"/>
<circle cx="232.5" cy="497.43" r="1.85" fill="#cc262e"/>
<line x1="167" y1="478.75" x2="178.5" y2="478.75" stroke="#4a6cb6" stroke-width="1.3"/>
<circle cx="172.8" cy="478.75" r="1.7" fill="#4a6cb6"/>
<text x="180.2" y="481.95" font-size="9.4" font-family='"Liberation Serif", serif' text-anchor="start" fill="#000">Wt</text>
<line x1="167" y1="491.25" x2="178.5" y2="491.25" stroke="#d8262c" stroke-width="1.3"/>
<circle cx="172.8" cy="491.25" r="1.7" fill="#d8262c"/>
<text x="180.2" y="494.45" font-size="9.4" font-family='"Liberation Serif", serif' text-anchor="start" fill="#000">Smad4<tspan font-size="5.64" dy="-3.29">-/-</tspan></text>
<text x="93.8" y="583.2" font-size="10" font-family='"Liberation Serif", serif' font-weight="bold" text-anchor="middle" fill="#000" textLength="71.6" lengthAdjust="spacingAndGlyphs">Round of plating</text>
<text x="198.75" y="583.2" font-size="10" font-family='"Liberation Serif", serif' font-weight="bold" text-anchor="middle" fill="#000" textLength="70" lengthAdjust="spacingAndGlyphs">Round of plating</text>
<text x="0" y="0" font-size="10" font-family='"Liberation Serif", serif' font-weight="bold" text-anchor="middle" fill="#000" transform="translate(36.2,515.3) rotate(-90)" textLength="96.5" lengthAdjust="spacingAndGlyphs">CFU-GM per 10<tspan font-size="6" dy="-3.5">4</tspan><tspan dy="3.5"> cells</tspan></text>
</svg>
</body></html>
